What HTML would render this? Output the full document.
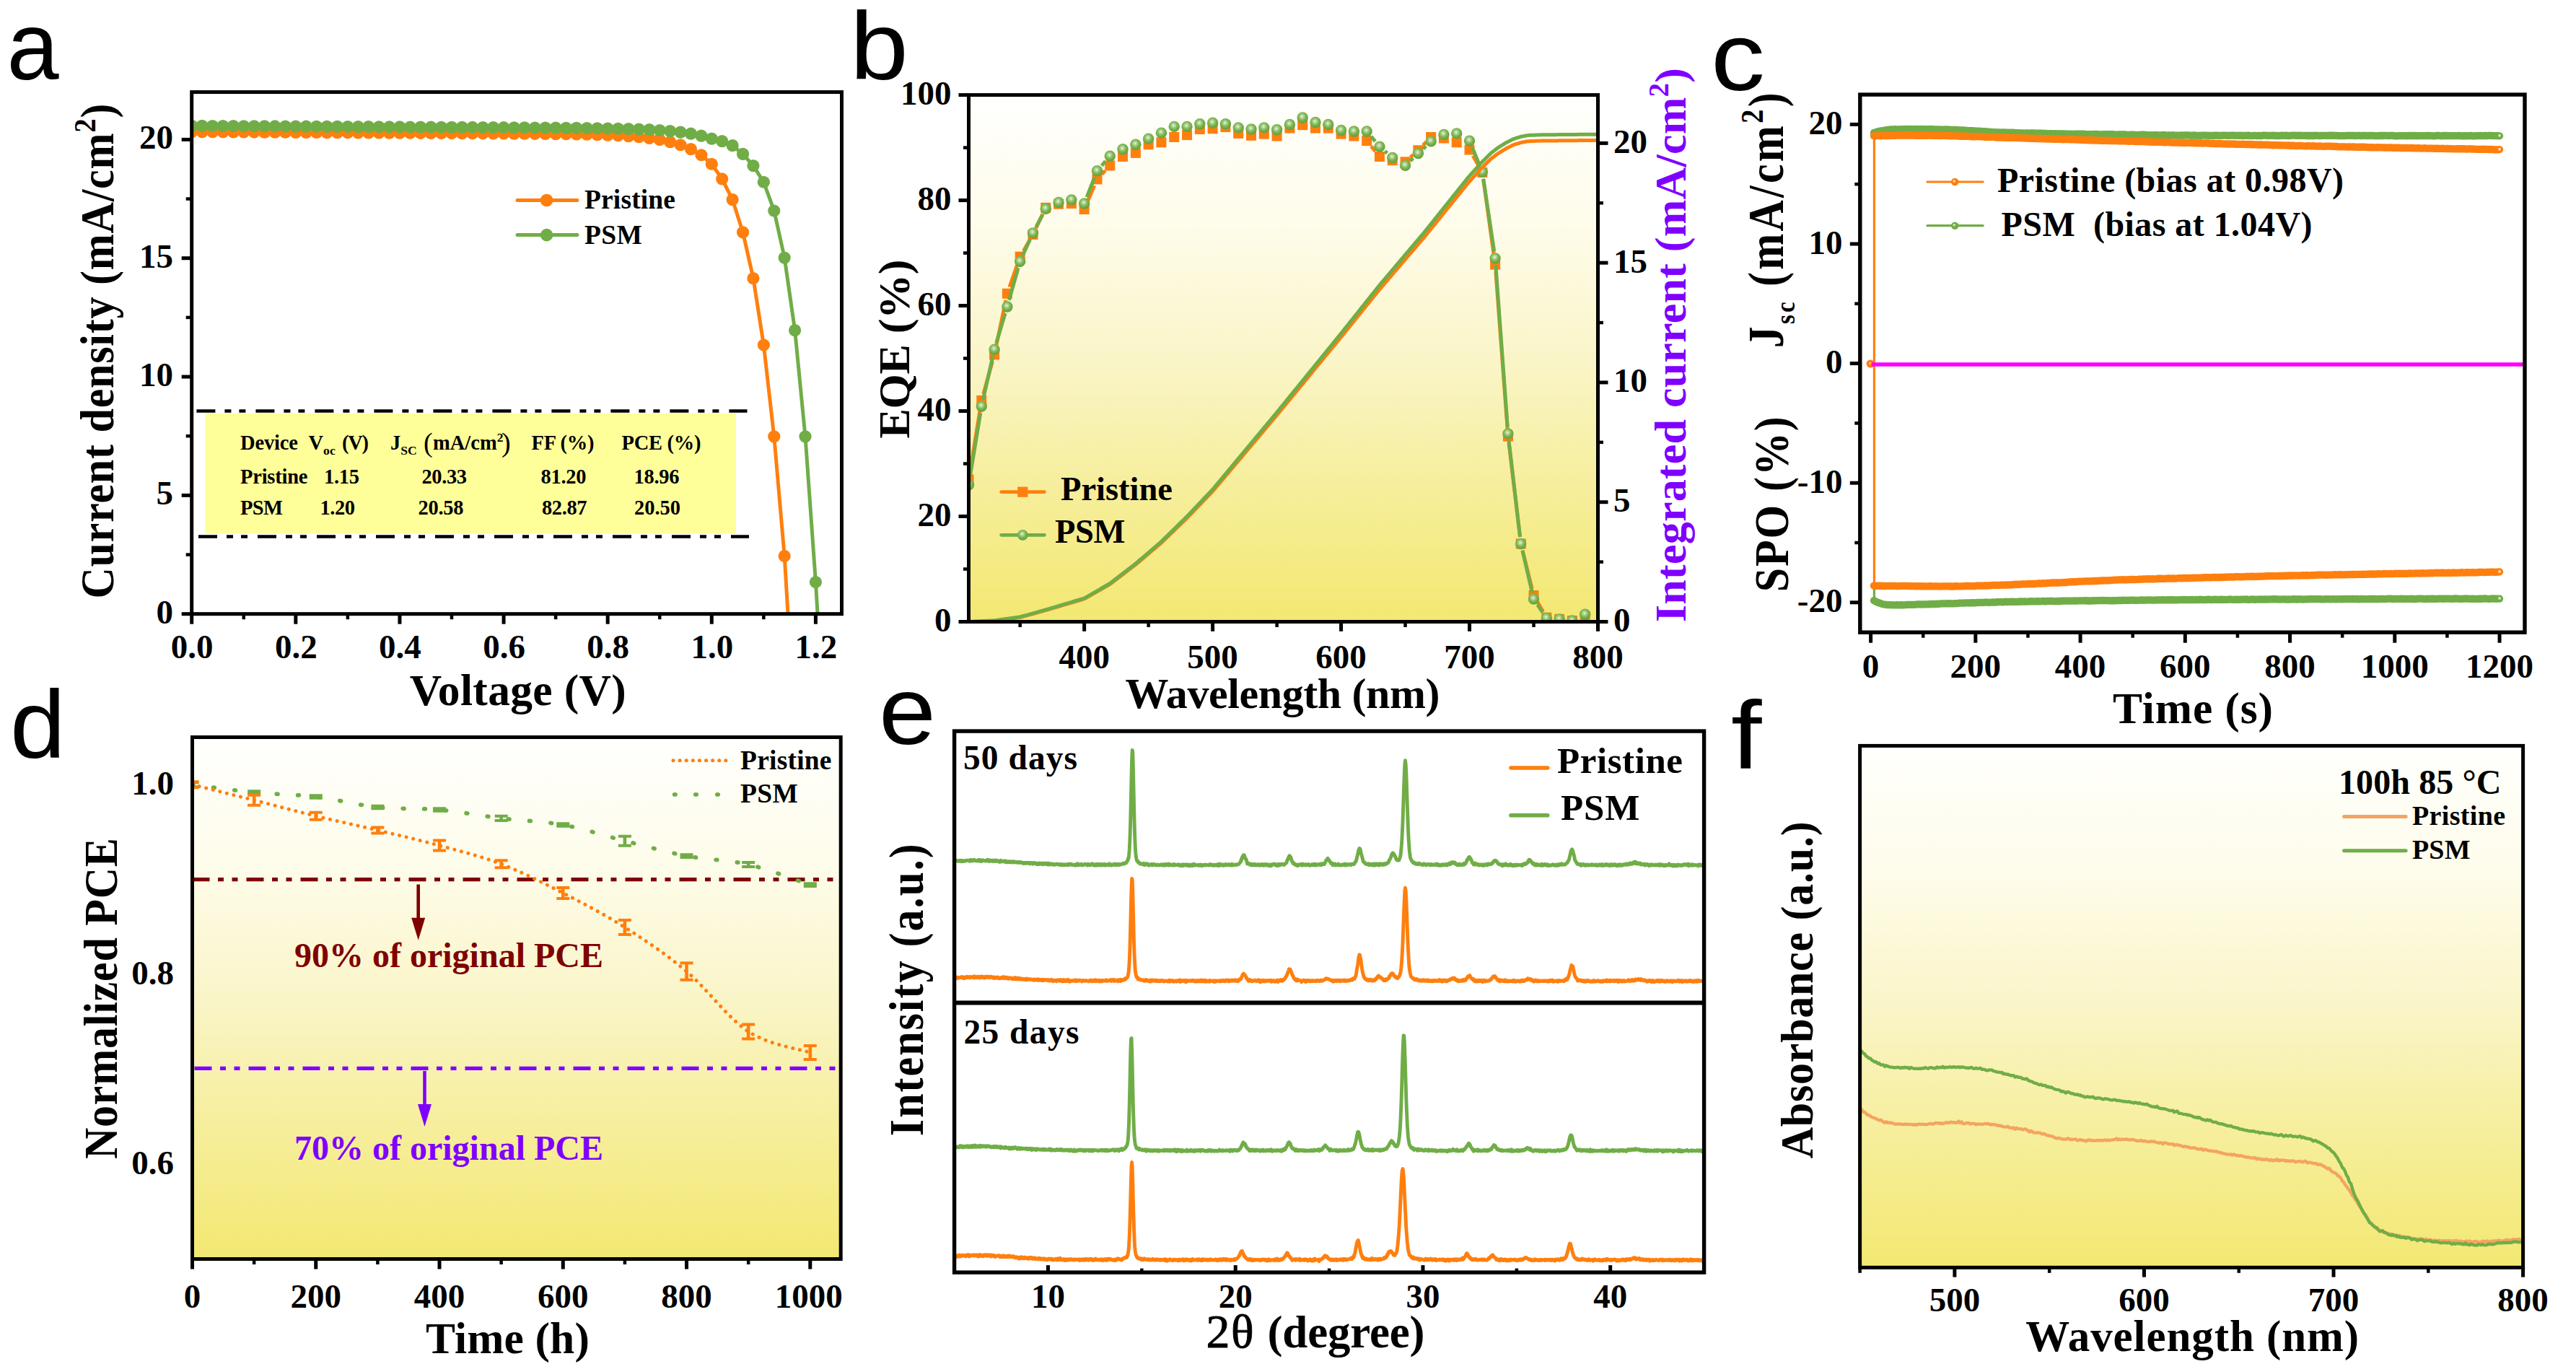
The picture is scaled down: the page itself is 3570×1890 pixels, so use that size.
<!DOCTYPE html>
<html><head><meta charset="utf-8"><title>Figure</title>
<style>html,body{margin:0;padding:0;background:#fff}svg{display:block}</style></head>
<body>
<svg width="3570" height="1890" viewBox="0 0 3570 1890" font-family="'Liberation Serif',serif" font-weight="bold">
<rect width="3570" height="1890" fill="#fff"/>
<g id="pa">
<text transform="translate(9.5 110.3) scale(0.968 1)" font-size="134" font-family="'Liberation Sans',sans-serif" font-weight="normal">a</text>
<clipPath id="clipa"><rect x="265.7" y="127.6" width="900.8" height="723.1"/></clipPath>
<g clip-path="url(#clipa)">
<polyline points="265.7,182.55 280.11,182.63 294.52,182.71 308.94,182.79 323.35,182.87 337.76,182.95 352.17,183.03 366.58,183.11 381,183.19 395.41,183.26 409.82,183.34 424.23,183.42 438.64,183.5 453.06,183.58 467.47,183.66 481.88,183.74 496.29,183.82 510.7,183.9 525.12,183.98 539.53,184.05 553.94,184.13 568.35,184.21 582.76,184.29 597.18,184.37 611.59,184.45 626,184.54 640.41,184.62 654.82,184.7 669.24,184.79 683.65,184.88 698.06,184.97 712.47,185.07 726.88,185.18 741.3,185.29 755.71,185.43 770.12,185.58 784.53,185.76 798.94,185.99 813.36,186.27 827.77,186.64 842.18,187.11 856.59,187.75 871,188.6 885.42,189.76 899.83,191.35 914.24,193.54 928.65,196.56 943.06,200.74 957.48,206.55 971.89,214.76 986.3,227.25 1000.71,247.96 1015.12,276.55 1029.54,321.9 1043.95,385.66 1058.36,478.01 1072.77,604.87 1087.18,770.51 1092.59,860.56" fill="none" stroke="#FF7F0E" stroke-width="5" stroke-linejoin="round" stroke-linecap="round"/>
</g>
<g clip-path="url(#clipa)">
<circle cx="265.7" cy="182.55" r="8.6" fill="#FF7F0E" />
<circle cx="280.11" cy="182.63" r="8.6" fill="#FF7F0E" />
<circle cx="294.52" cy="182.71" r="8.6" fill="#FF7F0E" />
<circle cx="308.94" cy="182.79" r="8.6" fill="#FF7F0E" />
<circle cx="323.35" cy="182.87" r="8.6" fill="#FF7F0E" />
<circle cx="337.76" cy="182.95" r="8.6" fill="#FF7F0E" />
<circle cx="352.17" cy="183.03" r="8.6" fill="#FF7F0E" />
<circle cx="366.58" cy="183.11" r="8.6" fill="#FF7F0E" />
<circle cx="381" cy="183.19" r="8.6" fill="#FF7F0E" />
<circle cx="395.41" cy="183.26" r="8.6" fill="#FF7F0E" />
<circle cx="409.82" cy="183.34" r="8.6" fill="#FF7F0E" />
<circle cx="424.23" cy="183.42" r="8.6" fill="#FF7F0E" />
<circle cx="438.64" cy="183.5" r="8.6" fill="#FF7F0E" />
<circle cx="453.06" cy="183.58" r="8.6" fill="#FF7F0E" />
<circle cx="467.47" cy="183.66" r="8.6" fill="#FF7F0E" />
<circle cx="481.88" cy="183.74" r="8.6" fill="#FF7F0E" />
<circle cx="496.29" cy="183.82" r="8.6" fill="#FF7F0E" />
<circle cx="510.7" cy="183.9" r="8.6" fill="#FF7F0E" />
<circle cx="525.12" cy="183.98" r="8.6" fill="#FF7F0E" />
<circle cx="539.53" cy="184.05" r="8.6" fill="#FF7F0E" />
<circle cx="553.94" cy="184.13" r="8.6" fill="#FF7F0E" />
<circle cx="568.35" cy="184.21" r="8.6" fill="#FF7F0E" />
<circle cx="582.76" cy="184.29" r="8.6" fill="#FF7F0E" />
<circle cx="597.18" cy="184.37" r="8.6" fill="#FF7F0E" />
<circle cx="611.59" cy="184.45" r="8.6" fill="#FF7F0E" />
<circle cx="626" cy="184.54" r="8.6" fill="#FF7F0E" />
<circle cx="640.41" cy="184.62" r="8.6" fill="#FF7F0E" />
<circle cx="654.82" cy="184.7" r="8.6" fill="#FF7F0E" />
<circle cx="669.24" cy="184.79" r="8.6" fill="#FF7F0E" />
<circle cx="683.65" cy="184.88" r="8.6" fill="#FF7F0E" />
<circle cx="698.06" cy="184.97" r="8.6" fill="#FF7F0E" />
<circle cx="712.47" cy="185.07" r="8.6" fill="#FF7F0E" />
<circle cx="726.88" cy="185.18" r="8.6" fill="#FF7F0E" />
<circle cx="741.3" cy="185.29" r="8.6" fill="#FF7F0E" />
<circle cx="755.71" cy="185.43" r="8.6" fill="#FF7F0E" />
<circle cx="770.12" cy="185.58" r="8.6" fill="#FF7F0E" />
<circle cx="784.53" cy="185.76" r="8.6" fill="#FF7F0E" />
<circle cx="798.94" cy="185.99" r="8.6" fill="#FF7F0E" />
<circle cx="813.36" cy="186.27" r="8.6" fill="#FF7F0E" />
<circle cx="827.77" cy="186.64" r="8.6" fill="#FF7F0E" />
<circle cx="842.18" cy="187.11" r="8.6" fill="#FF7F0E" />
<circle cx="856.59" cy="187.75" r="8.6" fill="#FF7F0E" />
<circle cx="871" cy="188.6" r="8.6" fill="#FF7F0E" />
<circle cx="885.42" cy="189.76" r="8.6" fill="#FF7F0E" />
<circle cx="899.83" cy="191.35" r="8.6" fill="#FF7F0E" />
<circle cx="914.24" cy="193.54" r="8.6" fill="#FF7F0E" />
<circle cx="928.65" cy="196.56" r="8.6" fill="#FF7F0E" />
<circle cx="943.06" cy="200.74" r="8.6" fill="#FF7F0E" />
<circle cx="957.48" cy="206.55" r="8.6" fill="#FF7F0E" />
<circle cx="971.89" cy="214.76" r="8.6" fill="#FF7F0E" />
<circle cx="986.3" cy="227.25" r="8.6" fill="#FF7F0E" />
<circle cx="1000.71" cy="247.96" r="8.6" fill="#FF7F0E" />
<circle cx="1015.12" cy="276.55" r="8.6" fill="#FF7F0E" />
<circle cx="1029.54" cy="321.9" r="8.6" fill="#FF7F0E" />
<circle cx="1043.95" cy="385.66" r="8.6" fill="#FF7F0E" />
<circle cx="1058.36" cy="478.01" r="8.6" fill="#FF7F0E" />
<circle cx="1072.77" cy="604.87" r="8.6" fill="#FF7F0E" />
<circle cx="1087.18" cy="770.51" r="8.6" fill="#FF7F0E" />
</g>
<g clip-path="url(#clipa)">
<polyline points="265.7,174.34 280.11,174.42 294.52,174.5 308.94,174.57 323.35,174.65 337.76,174.73 352.17,174.81 366.58,174.89 381,174.97 395.41,175.05 409.82,175.13 424.23,175.21 438.64,175.28 453.06,175.36 467.47,175.44 481.88,175.52 496.29,175.6 510.7,175.68 525.12,175.76 539.53,175.84 553.94,175.92 568.35,176 582.76,176.07 597.18,176.15 611.59,176.23 626,176.31 640.41,176.39 654.82,176.47 669.24,176.56 683.65,176.64 698.06,176.72 712.47,176.81 726.88,176.9 741.3,176.99 755.71,177.09 770.12,177.19 784.53,177.31 798.94,177.44 813.36,177.59 827.77,177.77 842.18,177.99 856.59,178.26 871,178.61 885.42,179.07 899.83,179.68 914.24,180.49 928.65,181.61 943.06,183.12 957.48,185.21 971.89,188.09 986.3,192.09 1000.71,195.7 1015.12,201.62 1029.54,213.45 1043.95,229.55 1058.36,252.23 1072.77,292 1087.18,357.07 1101.6,457.63 1116.01,604.87 1130.42,806.5 1133.66,860.56" fill="none" stroke="#70AD47" stroke-width="5" stroke-linejoin="round" stroke-linecap="round"/>
</g>
<g clip-path="url(#clipa)">
<circle cx="265.7" cy="174.34" r="8.6" fill="#70AD47" />
<circle cx="280.11" cy="174.42" r="8.6" fill="#70AD47" />
<circle cx="294.52" cy="174.5" r="8.6" fill="#70AD47" />
<circle cx="308.94" cy="174.57" r="8.6" fill="#70AD47" />
<circle cx="323.35" cy="174.65" r="8.6" fill="#70AD47" />
<circle cx="337.76" cy="174.73" r="8.6" fill="#70AD47" />
<circle cx="352.17" cy="174.81" r="8.6" fill="#70AD47" />
<circle cx="366.58" cy="174.89" r="8.6" fill="#70AD47" />
<circle cx="381" cy="174.97" r="8.6" fill="#70AD47" />
<circle cx="395.41" cy="175.05" r="8.6" fill="#70AD47" />
<circle cx="409.82" cy="175.13" r="8.6" fill="#70AD47" />
<circle cx="424.23" cy="175.21" r="8.6" fill="#70AD47" />
<circle cx="438.64" cy="175.28" r="8.6" fill="#70AD47" />
<circle cx="453.06" cy="175.36" r="8.6" fill="#70AD47" />
<circle cx="467.47" cy="175.44" r="8.6" fill="#70AD47" />
<circle cx="481.88" cy="175.52" r="8.6" fill="#70AD47" />
<circle cx="496.29" cy="175.6" r="8.6" fill="#70AD47" />
<circle cx="510.7" cy="175.68" r="8.6" fill="#70AD47" />
<circle cx="525.12" cy="175.76" r="8.6" fill="#70AD47" />
<circle cx="539.53" cy="175.84" r="8.6" fill="#70AD47" />
<circle cx="553.94" cy="175.92" r="8.6" fill="#70AD47" />
<circle cx="568.35" cy="176" r="8.6" fill="#70AD47" />
<circle cx="582.76" cy="176.07" r="8.6" fill="#70AD47" />
<circle cx="597.18" cy="176.15" r="8.6" fill="#70AD47" />
<circle cx="611.59" cy="176.23" r="8.6" fill="#70AD47" />
<circle cx="626" cy="176.31" r="8.6" fill="#70AD47" />
<circle cx="640.41" cy="176.39" r="8.6" fill="#70AD47" />
<circle cx="654.82" cy="176.47" r="8.6" fill="#70AD47" />
<circle cx="669.24" cy="176.56" r="8.6" fill="#70AD47" />
<circle cx="683.65" cy="176.64" r="8.6" fill="#70AD47" />
<circle cx="698.06" cy="176.72" r="8.6" fill="#70AD47" />
<circle cx="712.47" cy="176.81" r="8.6" fill="#70AD47" />
<circle cx="726.88" cy="176.9" r="8.6" fill="#70AD47" />
<circle cx="741.3" cy="176.99" r="8.6" fill="#70AD47" />
<circle cx="755.71" cy="177.09" r="8.6" fill="#70AD47" />
<circle cx="770.12" cy="177.19" r="8.6" fill="#70AD47" />
<circle cx="784.53" cy="177.31" r="8.6" fill="#70AD47" />
<circle cx="798.94" cy="177.44" r="8.6" fill="#70AD47" />
<circle cx="813.36" cy="177.59" r="8.6" fill="#70AD47" />
<circle cx="827.77" cy="177.77" r="8.6" fill="#70AD47" />
<circle cx="842.18" cy="177.99" r="8.6" fill="#70AD47" />
<circle cx="856.59" cy="178.26" r="8.6" fill="#70AD47" />
<circle cx="871" cy="178.61" r="8.6" fill="#70AD47" />
<circle cx="885.42" cy="179.07" r="8.6" fill="#70AD47" />
<circle cx="899.83" cy="179.68" r="8.6" fill="#70AD47" />
<circle cx="914.24" cy="180.49" r="8.6" fill="#70AD47" />
<circle cx="928.65" cy="181.61" r="8.6" fill="#70AD47" />
<circle cx="943.06" cy="183.12" r="8.6" fill="#70AD47" />
<circle cx="957.48" cy="185.21" r="8.6" fill="#70AD47" />
<circle cx="971.89" cy="188.09" r="8.6" fill="#70AD47" />
<circle cx="986.3" cy="192.09" r="8.6" fill="#70AD47" />
<circle cx="1000.71" cy="195.7" r="8.6" fill="#70AD47" />
<circle cx="1015.12" cy="201.62" r="8.6" fill="#70AD47" />
<circle cx="1029.54" cy="213.45" r="8.6" fill="#70AD47" />
<circle cx="1043.95" cy="229.55" r="8.6" fill="#70AD47" />
<circle cx="1058.36" cy="252.23" r="8.6" fill="#70AD47" />
<circle cx="1072.77" cy="292" r="8.6" fill="#70AD47" />
<circle cx="1087.18" cy="357.07" r="8.6" fill="#70AD47" />
<circle cx="1101.6" cy="457.63" r="8.6" fill="#70AD47" />
<circle cx="1116.01" cy="604.87" r="8.6" fill="#70AD47" />
<circle cx="1130.42" cy="806.5" r="8.6" fill="#70AD47" />
</g>
<rect x="284.2" y="572.6" width="735.8" height="166.2" fill="#FFFF99" />
<line x1="272.4" y1="569.5" x2="1035.5" y2="569.5" stroke="#000" stroke-width="4.5" stroke-dasharray="26 13 9 11 9 14"/>
<line x1="275" y1="743.4" x2="1038" y2="743.4" stroke="#000" stroke-width="4.5" stroke-dasharray="26 13 9 11 9 14"/>
<text x="333" y="623.2" font-size="28.5" text-anchor="start" fill="#000" textLength="80" lengthAdjust="spacing" >Device</text>
<text x="427.5" y="623.2" font-size="28.5" text-anchor="start" fill="#000" >V<tspan font-size="17.67" dy="7.12">oc</tspan></text>
<text x="474" y="623.2" font-size="28.5" text-anchor="start" fill="#000" textLength="37" lengthAdjust="spacing" >(V)</text>
<text x="541" y="623.2" font-size="28.5" text-anchor="start" fill="#000" >J<tspan font-size="17.67" dy="7.12">SC</tspan></text>
<text x="587" y="626.2" font-size="38" text-anchor="start" fill="#000" font-weight="normal">(</text>
<text x="600" y="623.2" font-size="28.5" text-anchor="start" fill="#000" >mA/cm<tspan font-size="17.5" dy="-11">2</tspan></text>
<text x="695" y="626.2" font-size="38" text-anchor="start" fill="#000" font-weight="normal">)</text>
<text x="736.5" y="623.2" font-size="28.5" text-anchor="start" fill="#000" textLength="87" lengthAdjust="spacing" >FF (%)</text>
<text x="861.5" y="623.2" font-size="28.5" text-anchor="start" fill="#000" textLength="110" lengthAdjust="spacing" >PCE (%)</text>
<text x="333" y="670.4" font-size="28.5" text-anchor="start" fill="#000" textLength="93.5" lengthAdjust="spacing" >Pristine</text>
<text x="449" y="670.4" font-size="28.5" text-anchor="start" fill="#000" textLength="49" lengthAdjust="spacing" >1.15</text>
<text x="584.5" y="670.4" font-size="28.5" text-anchor="start" fill="#000" textLength="62.5" lengthAdjust="spacing" >20.33</text>
<text x="749.5" y="670.4" font-size="28.5" text-anchor="start" fill="#000" textLength="63" lengthAdjust="spacing" >81.20</text>
<text x="878.5" y="670.4" font-size="28.5" text-anchor="start" fill="#000" textLength="63" lengthAdjust="spacing" >18.96</text>
<text x="333" y="713.3" font-size="28.5" text-anchor="start" fill="#000" textLength="59" lengthAdjust="spacing" >PSM</text>
<text x="443.5" y="713.3" font-size="28.5" text-anchor="start" fill="#000" textLength="48.5" lengthAdjust="spacing" >1.20</text>
<text x="579.5" y="713.3" font-size="28.5" text-anchor="start" fill="#000" textLength="63" lengthAdjust="spacing" >20.58</text>
<text x="751" y="713.3" font-size="28.5" text-anchor="start" fill="#000" textLength="62.5" lengthAdjust="spacing" >82.87</text>
<text x="879" y="713.3" font-size="28.5" text-anchor="start" fill="#000" textLength="64" lengthAdjust="spacing" >20.50</text>
<line x1="717" y1="277.5" x2="799.9" y2="277.5" stroke="#FF7F0E" stroke-width="5" stroke-linecap="round"/>
<circle cx="757.6" cy="277.5" r="8.8" fill="#FF7F0E" />
<line x1="717" y1="325.6" x2="799.9" y2="325.6" stroke="#70AD47" stroke-width="5" stroke-linecap="round"/>
<circle cx="757.6" cy="325.6" r="8.8" fill="#70AD47" />
<text x="810" y="289.4" font-size="37.5" text-anchor="start" fill="#000" textLength="126" lengthAdjust="spacing" >Pristine</text>
<text x="810" y="337.9" font-size="37.5" text-anchor="start" fill="#000" textLength="80" lengthAdjust="spacing" >PSM</text>
<rect x="265.7" y="127.6" width="900.8" height="723.1" fill="none" stroke="#000" stroke-width="5"/>
<line x1="265.7" y1="850.7" x2="251.7" y2="850.7" stroke="#000" stroke-width="5" />
<line x1="265.7" y1="686.38" x2="251.7" y2="686.38" stroke="#000" stroke-width="5" />
<line x1="265.7" y1="522.05" x2="251.7" y2="522.05" stroke="#000" stroke-width="5" />
<line x1="265.7" y1="357.73" x2="251.7" y2="357.73" stroke="#000" stroke-width="5" />
<line x1="265.7" y1="193.4" x2="251.7" y2="193.4" stroke="#000" stroke-width="5" />
<line x1="265.7" y1="768.54" x2="257.7" y2="768.54" stroke="#000" stroke-width="4.5" />
<line x1="265.7" y1="604.21" x2="257.7" y2="604.21" stroke="#000" stroke-width="4.5" />
<line x1="265.7" y1="439.89" x2="257.7" y2="439.89" stroke="#000" stroke-width="4.5" />
<line x1="265.7" y1="275.56" x2="257.7" y2="275.56" stroke="#000" stroke-width="4.5" />
<line x1="265.7" y1="850.7" x2="265.7" y2="864.7" stroke="#000" stroke-width="5" />
<line x1="409.82" y1="850.7" x2="409.82" y2="864.7" stroke="#000" stroke-width="5" />
<line x1="553.94" y1="850.7" x2="553.94" y2="864.7" stroke="#000" stroke-width="5" />
<line x1="698.06" y1="850.7" x2="698.06" y2="864.7" stroke="#000" stroke-width="5" />
<line x1="842.18" y1="850.7" x2="842.18" y2="864.7" stroke="#000" stroke-width="5" />
<line x1="986.3" y1="850.7" x2="986.3" y2="864.7" stroke="#000" stroke-width="5" />
<line x1="1130.42" y1="850.7" x2="1130.42" y2="864.7" stroke="#000" stroke-width="5" />
<line x1="337.76" y1="850.7" x2="337.76" y2="858.2" stroke="#000" stroke-width="4.5" />
<line x1="481.88" y1="850.7" x2="481.88" y2="858.2" stroke="#000" stroke-width="4.5" />
<line x1="626" y1="850.7" x2="626" y2="858.2" stroke="#000" stroke-width="4.5" />
<line x1="770.12" y1="850.7" x2="770.12" y2="858.2" stroke="#000" stroke-width="4.5" />
<line x1="914.24" y1="850.7" x2="914.24" y2="858.2" stroke="#000" stroke-width="4.5" />
<line x1="1058.36" y1="850.7" x2="1058.36" y2="858.2" stroke="#000" stroke-width="4.5" />
<text x="240" y="863.7" font-size="47" text-anchor="end" fill="#000" >0</text>
<text x="240" y="699.38" font-size="47" text-anchor="end" fill="#000" >5</text>
<text x="240" y="535.05" font-size="47" text-anchor="end" fill="#000" >10</text>
<text x="240" y="370.73" font-size="47" text-anchor="end" fill="#000" >15</text>
<text x="240" y="206.4" font-size="47" text-anchor="end" fill="#000" >20</text>
<text x="266.2" y="912" font-size="47" text-anchor="middle" fill="#000" >0.0</text>
<text x="410.32" y="912" font-size="47" text-anchor="middle" fill="#000" >0.2</text>
<text x="554.44" y="912" font-size="47" text-anchor="middle" fill="#000" >0.4</text>
<text x="698.56" y="912" font-size="47" text-anchor="middle" fill="#000" >0.6</text>
<text x="842.68" y="912" font-size="47" text-anchor="middle" fill="#000" >0.8</text>
<text x="986.8" y="912" font-size="47" text-anchor="middle" fill="#000" >1.0</text>
<text x="1130.92" y="912" font-size="47" text-anchor="middle" fill="#000" >1.2</text>
<text x="717.7" y="976.5" font-size="61.5" text-anchor="middle" fill="#000" textLength="300" lengthAdjust="spacing" >Voltage (V)</text>
<text transform="translate(156.8 486.5) rotate(-90) scale(1.0 1.09)" font-size="60" text-anchor="middle" fill="#000" textLength="686" lengthAdjust="spacing">Current density (mA/cm<tspan font-size="39" dy="-22.5">2</tspan><tspan dy="22.5">)</tspan></text>
</g>
<g id="pb">
<defs><linearGradient id="gy" x1="0" y1="0" x2="0" y2="1"><stop offset="0" stop-color="#FFFFFD"/><stop offset="0.25" stop-color="#FEFCEA"/><stop offset="0.5" stop-color="#FAF5C8"/><stop offset="0.75" stop-color="#F6EE9B"/><stop offset="1" stop-color="#F3E872"/></linearGradient><radialGradient id="ball" cx="0.45" cy="0.40" r="0.62"><stop offset="0" stop-color="#EEF6E4"/><stop offset="0.22" stop-color="#B4D79A"/><stop offset="0.55" stop-color="#7DB551"/><stop offset="1" stop-color="#5F9C37"/></radialGradient></defs>
<text transform="translate(1178 110) scale(1.086 1)" font-size="134" font-family="'Liberation Sans',sans-serif" font-weight="normal">b</text>
<rect x="1342.5" y="131.6" width="872" height="729.9" fill="url(#gy)" />
<clipPath id="clipb"><rect x="1342.5" y="131.6" width="872.0" height="731.9"/></clipPath><g clip-path="url(#clipb)">
<line x1="1344.02" y1="655.05" x2="1358.77" y2="564.32" stroke="#FF7F0E" stroke-width="5" />
<line x1="1362.86" y1="545.79" x2="1375.53" y2="500.59" stroke="#FF7F0E" stroke-width="5" />
<line x1="1380.05" y1="482.14" x2="1393.93" y2="416.07" stroke="#FF7F0E" stroke-width="5" />
<line x1="1399.01" y1="397.8" x2="1410.56" y2="364.65" stroke="#FF7F0E" stroke-width="5" />
<line x1="1418.45" y1="347.46" x2="1426.71" y2="333.24" stroke="#FF7F0E" stroke-width="5" />
<line x1="1435.58" y1="316.45" x2="1445.18" y2="296.37" stroke="#FF7F0E" stroke-width="5" />
<line x1="1506.4" y1="281.25" x2="1516.72" y2="257.12" stroke="#FF7F0E" stroke-width="5" />
<line x1="1526.96" y1="241.45" x2="1531.76" y2="236.34" stroke="#FF7F0E" stroke-width="5" />
<line x1="1900.17" y1="202.47" x2="1905.98" y2="209.63" stroke="#FF7F0E" stroke-width="5" />
<line x1="1954.61" y1="217.93" x2="1958.3" y2="214.6" stroke="#FF7F0E" stroke-width="5" />
<line x1="1971.99" y1="201.44" x2="1976.52" y2="196.79" stroke="#FF7F0E" stroke-width="5" />
<line x1="2041.23" y1="215.77" x2="2049.65" y2="230.63" stroke="#FF7F0E" stroke-width="5" />
<line x1="2055.65" y1="248.3" x2="2070.82" y2="357.22" stroke="#FF7F0E" stroke-width="5" />
<line x1="2072.84" y1="376.1" x2="2089.22" y2="595.1" stroke="#FF7F0E" stroke-width="5" />
<line x1="2091.06" y1="614.01" x2="2106.6" y2="744.04" stroke="#FF7F0E" stroke-width="5" />
<line x1="2110.02" y1="762.69" x2="2123.23" y2="815.79" stroke="#FF7F0E" stroke-width="5" />
<line x1="2130.29" y1="833.22" x2="2138.55" y2="847.44" stroke="#FF7F0E" stroke-width="5" />
<rect x="1335.5" y="657.43" width="14" height="14" fill="#FF7F0E" />
<rect x="1353.3" y="547.94" width="14" height="14" fill="#FF7F0E" />
<rect x="1371.09" y="484.44" width="14" height="14" fill="#FF7F0E" />
<rect x="1388.89" y="399.77" width="14" height="14" fill="#FF7F0E" />
<rect x="1406.68" y="348.68" width="14" height="14" fill="#FF7F0E" />
<rect x="1424.48" y="318.02" width="14" height="14" fill="#FF7F0E" />
<rect x="1442.28" y="280.8" width="14" height="14" fill="#FF7F0E" />
<rect x="1460.07" y="275.69" width="14" height="14" fill="#FF7F0E" />
<rect x="1477.87" y="274.96" width="14" height="14" fill="#FF7F0E" />
<rect x="1495.66" y="282.99" width="14" height="14" fill="#FF7F0E" />
<rect x="1513.46" y="241.38" width="14" height="14" fill="#FF7F0E" />
<rect x="1531.26" y="222.41" width="14" height="14" fill="#FF7F0E" />
<rect x="1549.05" y="210" width="14" height="14" fill="#FF7F0E" />
<rect x="1566.85" y="204.89" width="14" height="14" fill="#FF7F0E" />
<rect x="1584.64" y="193.21" width="14" height="14" fill="#FF7F0E" />
<rect x="1602.44" y="190.29" width="14" height="14" fill="#FF7F0E" />
<rect x="1620.23" y="182.99" width="14" height="14" fill="#FF7F0E" />
<rect x="1638.03" y="180.07" width="14" height="14" fill="#FF7F0E" />
<rect x="1655.83" y="172.04" width="14" height="14" fill="#FF7F0E" />
<rect x="1673.62" y="171.31" width="14" height="14" fill="#FF7F0E" />
<rect x="1691.42" y="169.12" width="14" height="14" fill="#FF7F0E" />
<rect x="1709.21" y="177.88" width="14" height="14" fill="#FF7F0E" />
<rect x="1727.01" y="180.8" width="14" height="14" fill="#FF7F0E" />
<rect x="1744.81" y="178.61" width="14" height="14" fill="#FF7F0E" />
<rect x="1762.6" y="181.53" width="14" height="14" fill="#FF7F0E" />
<rect x="1780.4" y="170.58" width="14" height="14" fill="#FF7F0E" />
<rect x="1798.19" y="166.2" width="14" height="14" fill="#FF7F0E" />
<rect x="1815.99" y="170.58" width="14" height="14" fill="#FF7F0E" />
<rect x="1833.79" y="170.58" width="14" height="14" fill="#FF7F0E" />
<rect x="1851.58" y="178.61" width="14" height="14" fill="#FF7F0E" />
<rect x="1869.38" y="181.53" width="14" height="14" fill="#FF7F0E" />
<rect x="1887.17" y="188.1" width="14" height="14" fill="#FF7F0E" />
<rect x="1904.97" y="210" width="14" height="14" fill="#FF7F0E" />
<rect x="1922.77" y="215.11" width="14" height="14" fill="#FF7F0E" />
<rect x="1940.56" y="217.3" width="14" height="14" fill="#FF7F0E" />
<rect x="1958.36" y="201.24" width="14" height="14" fill="#FF7F0E" />
<rect x="1976.15" y="182.99" width="14" height="14" fill="#FF7F0E" />
<rect x="1993.95" y="184.45" width="14" height="14" fill="#FF7F0E" />
<rect x="2011.74" y="190.29" width="14" height="14" fill="#FF7F0E" />
<rect x="2029.54" y="200.51" width="14" height="14" fill="#FF7F0E" />
<rect x="2047.34" y="231.9" width="14" height="14" fill="#FF7F0E" />
<rect x="2065.13" y="359.63" width="14" height="14" fill="#FF7F0E" />
<rect x="2082.93" y="597.58" width="14" height="14" fill="#FF7F0E" />
<rect x="2100.72" y="746.47" width="14" height="14" fill="#FF7F0E" />
<rect x="2118.52" y="818" width="14" height="14" fill="#FF7F0E" />
<rect x="2136.32" y="848.66" width="14" height="14" fill="#FF7F0E" />
<rect x="2154.11" y="850.85" width="14" height="14" fill="#FF7F0E" />
<rect x="2171.91" y="853.04" width="14" height="14" fill="#FF7F0E" />
<rect x="2189.7" y="847.2" width="14" height="14" fill="#FF7F0E" />
<line x1="1344.03" y1="662.35" x2="1358.76" y2="572.35" stroke="#70AD47" stroke-width="5" />
<line x1="1362.39" y1="553.7" x2="1376" y2="493.41" stroke="#70AD47" stroke-width="5" />
<line x1="1380.83" y1="475.04" x2="1393.15" y2="434.12" stroke="#70AD47" stroke-width="5" />
<line x1="1398.48" y1="415.88" x2="1411.09" y2="371.39" stroke="#70AD47" stroke-width="5" />
<line x1="1417.59" y1="353.59" x2="1427.57" y2="331.49" stroke="#70AD47" stroke-width="5" />
<line x1="1435.93" y1="314.44" x2="1444.83" y2="297.65" stroke="#70AD47" stroke-width="5" />
<line x1="1506.14" y1="273.12" x2="1516.98" y2="245.55" stroke="#70AD47" stroke-width="5" />
<line x1="1526.7" y1="229.54" x2="1532.02" y2="223.43" stroke="#70AD47" stroke-width="5" />
<line x1="1900.29" y1="189.23" x2="1905.86" y2="195.86" stroke="#70AD47" stroke-width="5" />
<line x1="1919.17" y1="209.33" x2="1922.57" y2="212.26" stroke="#70AD47" stroke-width="5" />
<line x1="1954.47" y1="222.89" x2="1958.45" y2="219.14" stroke="#70AD47" stroke-width="5" />
<line x1="1972.27" y1="206.1" x2="1976.24" y2="202.35" stroke="#70AD47" stroke-width="5" />
<line x1="2040.17" y1="203.88" x2="2050.71" y2="229.39" stroke="#70AD47" stroke-width="5" />
<line x1="2055.73" y1="247.56" x2="2070.74" y2="348.47" stroke="#70AD47" stroke-width="5" />
<line x1="2072.83" y1="367.34" x2="2089.23" y2="591.45" stroke="#70AD47" stroke-width="5" />
<line x1="2091.03" y1="610.36" x2="2106.62" y2="744.04" stroke="#70AD47" stroke-width="5" />
<line x1="2109.87" y1="762.73" x2="2123.37" y2="820.86" stroke="#70AD47" stroke-width="5" />
<line x1="2130.85" y1="837.98" x2="2137.99" y2="848.52" stroke="#70AD47" stroke-width="5" />
<circle cx="1342.5" cy="671.73" r="7.7" fill="url(#ball)" />
<circle cx="1360.3" cy="562.97" r="7.7" fill="url(#ball)" />
<circle cx="1378.09" cy="484.14" r="7.7" fill="url(#ball)" />
<circle cx="1395.89" cy="425.02" r="7.7" fill="url(#ball)" />
<circle cx="1413.68" cy="362.25" r="7.7" fill="url(#ball)" />
<circle cx="1431.48" cy="322.83" r="7.7" fill="url(#ball)" />
<circle cx="1449.28" cy="289.26" r="7.7" fill="url(#ball)" />
<circle cx="1467.07" cy="280.5" r="7.7" fill="url(#ball)" />
<circle cx="1484.87" cy="276.85" r="7.7" fill="url(#ball)" />
<circle cx="1502.66" cy="281.96" r="7.7" fill="url(#ball)" />
<circle cx="1520.46" cy="236.71" r="7.7" fill="url(#ball)" />
<circle cx="1538.26" cy="216.27" r="7.7" fill="url(#ball)" />
<circle cx="1556.05" cy="206.78" r="7.7" fill="url(#ball)" />
<circle cx="1573.85" cy="200.21" r="7.7" fill="url(#ball)" />
<circle cx="1591.64" cy="192.18" r="7.7" fill="url(#ball)" />
<circle cx="1609.44" cy="184.15" r="7.7" fill="url(#ball)" />
<circle cx="1627.23" cy="175.39" r="7.7" fill="url(#ball)" />
<circle cx="1645.03" cy="175.39" r="7.7" fill="url(#ball)" />
<circle cx="1662.83" cy="171.74" r="7.7" fill="url(#ball)" />
<circle cx="1680.62" cy="170.28" r="7.7" fill="url(#ball)" />
<circle cx="1698.42" cy="171.74" r="7.7" fill="url(#ball)" />
<circle cx="1716.21" cy="176.85" r="7.7" fill="url(#ball)" />
<circle cx="1734.01" cy="179.04" r="7.7" fill="url(#ball)" />
<circle cx="1751.81" cy="176.85" r="7.7" fill="url(#ball)" />
<circle cx="1769.6" cy="179.77" r="7.7" fill="url(#ball)" />
<circle cx="1787.4" cy="172.47" r="7.7" fill="url(#ball)" />
<circle cx="1805.19" cy="162.99" r="7.7" fill="url(#ball)" />
<circle cx="1822.99" cy="169.55" r="7.7" fill="url(#ball)" />
<circle cx="1840.79" cy="172.47" r="7.7" fill="url(#ball)" />
<circle cx="1858.58" cy="180.5" r="7.7" fill="url(#ball)" />
<circle cx="1876.38" cy="181.96" r="7.7" fill="url(#ball)" />
<circle cx="1894.17" cy="181.96" r="7.7" fill="url(#ball)" />
<circle cx="1911.97" cy="203.13" r="7.7" fill="url(#ball)" />
<circle cx="1929.77" cy="218.46" r="7.7" fill="url(#ball)" />
<circle cx="1947.56" cy="229.41" r="7.7" fill="url(#ball)" />
<circle cx="1965.36" cy="212.62" r="7.7" fill="url(#ball)" />
<circle cx="1983.15" cy="195.83" r="7.7" fill="url(#ball)" />
<circle cx="2000.95" cy="186.34" r="7.7" fill="url(#ball)" />
<circle cx="2018.74" cy="184.88" r="7.7" fill="url(#ball)" />
<circle cx="2036.54" cy="195.1" r="7.7" fill="url(#ball)" />
<circle cx="2054.34" cy="238.17" r="7.7" fill="url(#ball)" />
<circle cx="2072.13" cy="357.87" r="7.7" fill="url(#ball)" />
<circle cx="2089.93" cy="600.93" r="7.7" fill="url(#ball)" />
<circle cx="2107.72" cy="753.47" r="7.7" fill="url(#ball)" />
<circle cx="2125.52" cy="830.11" r="7.7" fill="url(#ball)" />
<circle cx="2143.32" cy="856.39" r="7.7" fill="url(#ball)" />
<circle cx="2161.11" cy="857.85" r="7.7" fill="url(#ball)" />
<circle cx="2178.91" cy="860.04" r="7.7" fill="url(#ball)" />
<circle cx="2196.7" cy="851.28" r="7.7" fill="url(#ball)" />
<polyline points="1342.5,862 1344.25,861.92 1345.99,861.84 1347.74,861.76 1349.49,861.68 1351.24,861.6 1352.98,861.52 1354.73,861.44 1356.48,861.36 1358.23,861.28 1359.97,861.2 1361.72,861.11 1363.47,861.03 1365.22,860.95 1366.96,860.87 1368.71,860.79 1370.46,860.71 1372.21,860.63 1373.95,860.55 1375.7,860.47 1377.45,860.39 1379.2,860.21 1380.94,859.97 1382.69,859.73 1384.44,859.48 1386.19,859.24 1387.93,859 1389.68,858.76 1391.43,858.52 1393.18,858.28 1394.92,858.04 1396.67,857.79 1398.42,857.55 1400.17,857.31 1401.91,857.07 1403.66,856.83 1405.41,856.59 1407.16,856.35 1408.9,856.11 1410.65,855.86 1412.4,855.62 1414.15,855.32 1415.89,854.83 1417.64,854.35 1419.39,853.87 1421.14,853.39 1422.88,852.9 1424.63,852.42 1426.38,851.94 1428.13,851.46 1429.87,850.97 1431.62,850.49 1433.37,850.01 1435.12,849.52 1436.86,849.04 1438.61,848.56 1440.36,848.08 1442.11,847.59 1443.85,847.11 1445.6,846.63 1447.35,846.15 1449.1,845.66 1450.84,845.15 1452.59,844.64 1454.34,844.12 1456.09,843.61 1457.83,843.09 1459.58,842.58 1461.33,842.06 1463.08,841.55 1464.82,841.03 1466.57,840.52 1468.32,840 1470.07,839.49 1471.81,838.97 1473.56,838.46 1475.31,837.94 1477.06,837.43 1478.8,836.91 1480.55,836.4 1482.3,835.88 1484.05,835.37 1485.79,834.85 1487.54,834.34 1489.29,833.82 1491.04,833.31 1492.78,832.79 1494.53,832.28 1496.28,831.76 1498.03,831.25 1499.77,830.73 1501.52,830.22 1503.27,829.54 1505.02,828.54 1506.76,827.54 1508.51,826.54 1510.26,825.54 1512.01,824.55 1513.75,823.55 1515.5,822.55 1517.25,821.55 1519,820.56 1520.74,819.56 1522.49,818.56 1524.24,817.56 1525.99,816.57 1527.73,815.57 1529.48,814.57 1531.23,813.57 1532.98,812.58 1534.72,811.58 1536.47,810.58 1538.22,809.58 1539.97,808.25 1541.71,806.92 1543.46,805.58 1545.21,804.25 1546.96,802.91 1548.7,801.58 1550.45,800.24 1552.2,798.9 1553.95,797.57 1555.69,796.23 1557.44,794.9 1559.19,793.56 1560.94,792.23 1562.68,790.89 1564.43,789.56 1566.18,788.22 1567.93,786.88 1569.67,785.55 1571.42,784.21 1573.17,782.88 1574.92,781.45 1576.66,779.97 1578.41,778.49 1580.16,777.01 1581.91,775.53 1583.65,774.05 1585.4,772.57 1587.15,771.09 1588.9,769.61 1590.64,768.13 1592.39,766.65 1594.14,765.17 1595.89,763.69 1597.63,762.21 1599.38,760.73 1601.13,759.25 1602.88,757.77 1604.62,756.29 1606.37,754.81 1608.12,753.33 1609.87,751.79 1611.61,750.1 1613.36,748.42 1615.11,746.73 1616.86,745.04 1618.6,743.35 1620.35,741.66 1622.1,739.97 1623.85,738.28 1625.59,736.59 1627.34,734.9 1629.09,733.21 1630.84,731.52 1632.58,729.83 1634.33,728.14 1636.08,726.45 1637.83,724.76 1639.57,723.07 1641.32,721.38 1643.07,719.69 1644.82,718 1646.56,716.2 1648.31,714.38 1650.06,712.56 1651.81,710.75 1653.55,708.93 1655.3,707.11 1657.05,705.29 1658.8,703.47 1660.54,701.65 1662.29,699.84 1664.04,698.02 1665.79,696.2 1667.53,694.38 1669.28,692.56 1671.03,690.74 1672.78,688.93 1674.52,687.11 1676.27,685.29 1678.02,683.47 1679.77,681.65 1681.51,679.7 1683.26,677.63 1685.01,675.56 1686.76,673.49 1688.5,671.41 1690.25,669.34 1692,667.27 1693.75,665.2 1695.49,663.12 1697.24,661.05 1698.99,658.98 1700.74,656.91 1702.48,654.83 1704.23,652.76 1705.98,650.69 1707.73,648.62 1709.47,646.54 1711.22,644.47 1712.97,642.4 1714.72,640.33 1716.46,638.25 1718.21,636.18 1719.96,634.11 1721.71,632.04 1723.45,629.96 1725.2,627.89 1726.95,625.82 1728.7,623.74 1730.44,621.67 1732.19,619.6 1733.94,617.53 1735.69,615.45 1737.43,613.38 1739.18,611.31 1740.93,609.24 1742.68,607.16 1744.42,605.09 1746.17,603.02 1747.92,600.95 1749.67,598.87 1751.41,596.8 1753.16,594.73 1754.91,592.66 1756.66,590.58 1758.4,588.51 1760.15,586.44 1761.9,584.37 1763.65,582.29 1765.39,580.22 1767.14,578.15 1768.89,576.08 1770.64,573.97 1772.38,571.85 1774.13,569.72 1775.88,567.6 1777.63,565.48 1779.37,563.35 1781.12,561.23 1782.87,559.1 1784.62,556.98 1786.36,554.86 1788.11,552.73 1789.86,550.61 1791.61,548.48 1793.35,546.36 1795.1,544.24 1796.85,542.11 1798.6,539.99 1800.34,537.86 1802.09,535.74 1803.84,533.62 1805.59,531.49 1807.33,529.37 1809.08,527.24 1810.83,525.12 1812.58,523 1814.32,520.87 1816.07,518.75 1817.82,516.62 1819.57,514.5 1821.31,512.38 1823.06,510.25 1824.81,508.13 1826.56,506 1828.3,503.88 1830.05,501.76 1831.8,499.63 1833.55,497.51 1835.29,495.38 1837.04,493.26 1838.79,491.13 1840.54,489.01 1842.28,486.89 1844.03,484.76 1845.78,482.64 1847.53,480.51 1849.27,478.39 1851.02,476.27 1852.77,474.14 1854.52,472.02 1856.26,469.89 1858.01,467.77 1859.76,465.62 1861.51,463.45 1863.25,461.28 1865,459.12 1866.75,456.95 1868.5,454.78 1870.24,452.62 1871.99,450.45 1873.74,448.28 1875.49,446.11 1877.23,443.95 1878.98,441.78 1880.73,439.61 1882.48,437.45 1884.22,435.28 1885.97,433.11 1887.72,430.95 1889.47,428.78 1891.21,426.61 1892.96,424.45 1894.71,422.28 1896.46,420.11 1898.2,417.94 1899.95,415.78 1901.7,413.61 1903.45,411.44 1905.19,409.28 1906.94,407.11 1908.69,404.94 1910.44,402.78 1912.18,400.62 1913.93,398.58 1915.68,396.54 1917.43,394.5 1919.17,392.46 1920.92,390.42 1922.67,388.38 1924.42,386.34 1926.16,384.3 1927.91,382.26 1929.66,380.22 1931.41,378.18 1933.15,376.14 1934.9,374.1 1936.65,372.06 1938.4,370.02 1940.14,367.98 1941.89,365.94 1943.64,363.9 1945.39,361.86 1947.13,359.82 1948.88,357.78 1950.63,355.74 1952.38,353.69 1954.12,351.65 1955.87,349.61 1957.62,347.57 1959.37,345.53 1961.11,343.49 1962.86,341.45 1964.61,339.41 1966.36,337.37 1968.1,335.33 1969.85,333.29 1971.6,331.25 1973.35,329.21 1975.09,327.08 1976.84,324.92 1978.59,322.76 1980.34,320.6 1982.08,318.45 1983.83,316.29 1985.58,314.13 1987.33,311.97 1989.07,309.81 1990.82,307.66 1992.57,305.5 1994.32,303.34 1996.06,301.18 1997.81,299.02 1999.56,296.87 2001.31,294.71 2003.05,292.55 2004.8,290.39 2006.55,288.24 2008.3,286.08 2010.04,283.92 2011.79,281.76 2013.54,279.6 2015.29,277.45 2017.03,275.29 2018.78,273.13 2020.53,270.97 2022.28,268.81 2024.02,266.66 2025.77,264.5 2027.52,262.34 2029.27,260.18 2031.01,258.02 2032.76,255.87 2034.51,253.71 2036.26,251.68 2038,249.76 2039.75,247.84 2041.5,245.93 2043.25,244.01 2044.99,242.09 2046.74,240.17 2048.49,238.25 2050.24,236.33 2051.98,234.41 2053.73,232.5 2055.48,230.76 2057.23,229.04 2058.97,227.31 2060.72,225.59 2062.47,223.86 2064.22,222.13 2065.96,220.41 2067.71,219.05 2069.46,217.72 2071.21,216.39 2072.95,215.05 2074.7,213.72 2076.45,212.4 2078.2,211.34 2079.94,210.29 2081.69,209.24 2083.44,208.18 2085.19,207.13 2086.93,206.09 2088.68,205.19 2090.43,204.28 2092.18,203.38 2093.92,202.48 2095.67,201.57 2097.42,200.78 2099.17,200.22 2100.91,199.67 2102.66,199.12 2104.41,198.56 2106.16,198.01 2107.9,197.54 2109.65,197.21 2111.4,196.88 2113.15,196.54 2114.89,196.21 2116.64,195.88 2118.39,195.68 2120.14,195.63 2121.88,195.57 2123.63,195.51 2125.38,195.46 2127.13,195.4 2128.87,195.35 2130.62,195.29 2132.37,195.23 2134.12,195.18 2135.86,195.12 2137.61,195.07 2139.36,195.04 2141.11,195.03 2142.85,195.01 2144.6,195 2146.35,194.98 2148.1,194.97 2149.84,194.95 2151.59,194.94 2153.34,194.92 2155.09,194.91 2156.83,194.89 2158.58,194.88 2160.33,194.86 2162.08,194.85 2163.82,194.83 2165.57,194.82 2167.32,194.8 2169.07,194.79 2170.81,194.77 2172.56,194.76 2174.31,194.74 2176.06,194.73 2177.8,194.71 2179.55,194.7 2181.3,194.68 2183.05,194.67 2184.79,194.65 2186.54,194.64 2188.29,194.62 2190.04,194.61 2191.78,194.59 2193.53,194.58 2195.28,194.56 2197.03,194.55 2198.77,194.53 2200.52,194.52 2202.27,194.5 2204.02,194.49 2205.76,194.47 2207.51,194.46 2209.26,194.44 2211.01,194.43 2212.75,194.41 2214.5,194.4" fill="none" stroke="#FF7F0E" stroke-width="5" stroke-linejoin="round" stroke-linecap="round"/>
<polyline points="1342.5,861.5 1344.25,861.42 1345.99,861.34 1347.74,861.26 1349.49,861.17 1351.24,861.09 1352.98,861.01 1354.73,860.93 1356.48,860.85 1358.23,860.77 1359.97,860.69 1361.72,860.6 1363.47,860.52 1365.22,860.44 1366.96,860.36 1368.71,860.28 1370.46,860.2 1372.21,860.12 1373.95,860.03 1375.7,859.95 1377.45,859.87 1379.2,859.69 1380.94,859.44 1382.69,859.2 1384.44,858.96 1386.19,858.71 1387.93,858.47 1389.68,858.22 1391.43,857.98 1393.18,857.73 1394.92,857.49 1396.67,857.25 1398.42,857 1400.17,856.76 1401.91,856.51 1403.66,856.27 1405.41,856.03 1407.16,855.78 1408.9,855.54 1410.65,855.29 1412.4,855.05 1414.15,854.74 1415.89,854.25 1417.64,853.76 1419.39,853.27 1421.14,852.79 1422.88,852.3 1424.63,851.81 1426.38,851.32 1428.13,850.83 1429.87,850.34 1431.62,849.86 1433.37,849.37 1435.12,848.88 1436.86,848.39 1438.61,847.9 1440.36,847.41 1442.11,846.93 1443.85,846.44 1445.6,845.95 1447.35,845.46 1449.1,844.97 1450.84,844.45 1452.59,843.93 1454.34,843.41 1456.09,842.89 1457.83,842.37 1459.58,841.85 1461.33,841.33 1463.08,840.81 1464.82,840.29 1466.57,839.77 1468.32,839.25 1470.07,838.72 1471.81,838.2 1473.56,837.68 1475.31,837.16 1477.06,836.64 1478.8,836.12 1480.55,835.6 1482.3,835.08 1484.05,834.56 1485.79,834.04 1487.54,833.52 1489.29,832.99 1491.04,832.47 1492.78,831.95 1494.53,831.43 1496.28,830.91 1498.03,830.39 1499.77,829.87 1501.52,829.35 1503.27,828.66 1505.02,827.65 1506.76,826.64 1508.51,825.63 1510.26,824.62 1512.01,823.61 1513.75,822.6 1515.5,821.59 1517.25,820.58 1519,819.57 1520.74,818.57 1522.49,817.56 1524.24,816.55 1525.99,815.54 1527.73,814.53 1529.48,813.52 1531.23,812.51 1532.98,811.5 1534.72,810.49 1536.47,809.48 1538.22,808.47 1539.97,807.13 1541.71,805.78 1543.46,804.43 1545.21,803.08 1546.96,801.72 1548.7,800.37 1550.45,799.02 1552.2,797.67 1553.95,796.32 1555.69,794.97 1557.44,793.62 1559.19,792.27 1560.94,790.92 1562.68,789.56 1564.43,788.21 1566.18,786.86 1567.93,785.51 1569.67,784.16 1571.42,782.81 1573.17,781.46 1574.92,780.02 1576.66,778.52 1578.41,777.02 1580.16,775.52 1581.91,774.03 1583.65,772.53 1585.4,771.03 1587.15,769.53 1588.9,768.04 1590.64,766.54 1592.39,765.04 1594.14,763.54 1595.89,762.04 1597.63,760.55 1599.38,759.05 1601.13,757.55 1602.88,756.05 1604.62,754.56 1606.37,753.06 1608.12,751.56 1609.87,750.01 1611.61,748.3 1613.36,746.59 1615.11,744.88 1616.86,743.18 1618.6,741.47 1620.35,739.76 1622.1,738.05 1623.85,736.34 1625.59,734.63 1627.34,732.92 1629.09,731.21 1630.84,729.5 1632.58,727.79 1634.33,726.08 1636.08,724.37 1637.83,722.66 1639.57,720.96 1641.32,719.25 1643.07,717.54 1644.82,715.83 1646.56,714 1648.31,712.16 1650.06,710.32 1651.81,708.49 1653.55,706.65 1655.3,704.81 1657.05,702.97 1658.8,701.13 1660.54,699.29 1662.29,697.45 1664.04,695.61 1665.79,693.77 1667.53,691.93 1669.28,690.09 1671.03,688.25 1672.78,686.41 1674.52,684.57 1676.27,682.73 1678.02,680.89 1679.77,679.05 1681.51,677.08 1683.26,674.99 1685.01,672.89 1686.76,670.79 1688.5,668.7 1690.25,666.6 1692,664.5 1693.75,662.41 1695.49,660.31 1697.24,658.21 1698.99,656.12 1700.74,654.02 1702.48,651.92 1704.23,649.83 1705.98,647.73 1707.73,645.63 1709.47,643.54 1711.22,641.44 1712.97,639.34 1714.72,637.25 1716.46,635.15 1718.21,633.05 1719.96,630.96 1721.71,628.86 1723.45,626.76 1725.2,624.67 1726.95,622.57 1728.7,620.47 1730.44,618.38 1732.19,616.28 1733.94,614.18 1735.69,612.09 1737.43,609.99 1739.18,607.89 1740.93,605.8 1742.68,603.7 1744.42,601.6 1746.17,599.51 1747.92,597.41 1749.67,595.31 1751.41,593.22 1753.16,591.12 1754.91,589.02 1756.66,586.93 1758.4,584.83 1760.15,582.73 1761.9,580.64 1763.65,578.54 1765.39,576.44 1767.14,574.35 1768.89,572.25 1770.64,570.12 1772.38,567.97 1774.13,565.82 1775.88,563.68 1777.63,561.53 1779.37,559.38 1781.12,557.23 1782.87,555.08 1784.62,552.93 1786.36,550.78 1788.11,548.63 1789.86,546.49 1791.61,544.34 1793.35,542.19 1795.1,540.04 1796.85,537.89 1798.6,535.74 1800.34,533.59 1802.09,531.44 1803.84,529.3 1805.59,527.15 1807.33,525 1809.08,522.85 1810.83,520.7 1812.58,518.55 1814.32,516.4 1816.07,514.25 1817.82,512.11 1819.57,509.96 1821.31,507.81 1823.06,505.66 1824.81,503.51 1826.56,501.36 1828.3,499.21 1830.05,497.06 1831.8,494.92 1833.55,492.77 1835.29,490.62 1837.04,488.47 1838.79,486.32 1840.54,484.17 1842.28,482.02 1844.03,479.87 1845.78,477.73 1847.53,475.58 1849.27,473.43 1851.02,471.28 1852.77,469.13 1854.52,466.98 1856.26,464.83 1858.01,462.68 1859.76,460.51 1861.51,458.31 1863.25,456.12 1865,453.93 1866.75,451.74 1868.5,449.55 1870.24,447.35 1871.99,445.16 1873.74,442.97 1875.49,440.78 1877.23,438.58 1878.98,436.39 1880.73,434.2 1882.48,432.01 1884.22,429.82 1885.97,427.62 1887.72,425.43 1889.47,423.24 1891.21,421.05 1892.96,418.85 1894.71,416.66 1896.46,414.47 1898.2,412.28 1899.95,410.09 1901.7,407.89 1903.45,405.7 1905.19,403.51 1906.94,401.32 1908.69,399.13 1910.44,396.93 1912.18,394.76 1913.93,392.69 1915.68,390.63 1917.43,388.56 1919.17,386.5 1920.92,384.44 1922.67,382.37 1924.42,380.31 1926.16,378.24 1927.91,376.18 1929.66,374.12 1931.41,372.05 1933.15,369.99 1934.9,367.92 1936.65,365.86 1938.4,363.79 1940.14,361.73 1941.89,359.67 1943.64,357.6 1945.39,355.54 1947.13,353.47 1948.88,351.41 1950.63,349.35 1952.38,347.28 1954.12,345.22 1955.87,343.15 1957.62,341.09 1959.37,339.02 1961.11,336.96 1962.86,334.9 1964.61,332.83 1966.36,330.77 1968.1,328.7 1969.85,326.64 1971.6,324.58 1973.35,322.51 1975.09,320.35 1976.84,318.17 1978.59,315.99 1980.34,313.81 1982.08,311.62 1983.83,309.44 1985.58,307.26 1987.33,305.07 1989.07,302.89 1990.82,300.71 1992.57,298.52 1994.32,296.34 1996.06,294.16 1997.81,291.98 1999.56,289.79 2001.31,287.61 2003.05,285.43 2004.8,283.24 2006.55,281.06 2008.3,278.88 2010.04,276.69 2011.79,274.51 2013.54,272.33 2015.29,270.14 2017.03,267.96 2018.78,265.78 2020.53,263.6 2022.28,261.41 2024.02,259.23 2025.77,257.05 2027.52,254.86 2029.27,252.68 2031.01,250.5 2032.76,248.31 2034.51,246.13 2036.26,244.08 2038,242.14 2039.75,240.2 2041.5,238.26 2043.25,236.32 2044.99,234.38 2046.74,232.44 2048.49,230.5 2050.24,228.55 2051.98,226.61 2053.73,224.67 2055.48,222.92 2057.23,221.17 2058.97,219.43 2060.72,217.68 2062.47,215.94 2064.22,214.19 2065.96,212.44 2067.71,211.07 2069.46,209.72 2071.21,208.38 2072.95,207.03 2074.7,205.68 2076.45,204.34 2078.2,203.27 2079.94,202.21 2081.69,201.14 2083.44,200.07 2085.19,199.01 2086.93,197.96 2088.68,197.05 2090.43,196.13 2092.18,195.22 2093.92,194.3 2095.67,193.39 2097.42,192.59 2099.17,192.03 2100.91,191.46 2102.66,190.9 2104.41,190.34 2106.16,189.78 2107.9,189.31 2109.65,188.97 2111.4,188.64 2113.15,188.3 2114.89,187.96 2116.64,187.63 2118.39,187.43 2120.14,187.37 2121.88,187.32 2123.63,187.26 2125.38,187.2 2127.13,187.15 2128.87,187.09 2130.62,187.03 2132.37,186.98 2134.12,186.92 2135.86,186.86 2137.61,186.81 2139.36,186.78 2141.11,186.77 2142.85,186.75 2144.6,186.74 2146.35,186.72 2148.1,186.71 2149.84,186.69 2151.59,186.68 2153.34,186.66 2155.09,186.65 2156.83,186.63 2158.58,186.62 2160.33,186.6 2162.08,186.59 2163.82,186.57 2165.57,186.56 2167.32,186.54 2169.07,186.53 2170.81,186.51 2172.56,186.5 2174.31,186.48 2176.06,186.47 2177.8,186.45 2179.55,186.44 2181.3,186.42 2183.05,186.41 2184.79,186.39 2186.54,186.37 2188.29,186.36 2190.04,186.34 2191.78,186.33 2193.53,186.31 2195.28,186.3 2197.03,186.28 2198.77,186.27 2200.52,186.25 2202.27,186.24 2204.02,186.22 2205.76,186.21 2207.51,186.19 2209.26,186.18 2211.01,186.16 2212.75,186.15 2214.5,186.13" fill="none" stroke="#70AD47" stroke-width="5" stroke-linejoin="round" stroke-linecap="round"/>
</g>
<line x1="1387.7" y1="681.6" x2="1447.3" y2="681.6" stroke="#FF7F0E" stroke-width="4.8" stroke-linecap="round"/>
<rect x="1410.2" y="674.6" width="14.2" height="14.2" fill="#FF7F0E" />
<line x1="1387.7" y1="741.3" x2="1447.3" y2="741.3" stroke="#70AD47" stroke-width="4.8" stroke-linecap="round"/>
<circle cx="1417.3" cy="741.3" r="7.4" fill="url(#ball)" />
<text x="1470" y="692.6" font-size="46.5" text-anchor="start" fill="#000" textLength="155" lengthAdjust="spacing" >Pristine</text>
<text x="1462" y="751.5" font-size="46.5" text-anchor="start" fill="#000" textLength="97.5" lengthAdjust="spacing" >PSM</text>
<rect x="1342.5" y="131.6" width="872" height="729.9" fill="none" stroke="#000" stroke-width="5"/>
<line x1="1342.5" y1="861.5" x2="1328.5" y2="861.5" stroke="#000" stroke-width="5" />
<line x1="1342.5" y1="715.52" x2="1328.5" y2="715.52" stroke="#000" stroke-width="5" />
<line x1="1342.5" y1="569.54" x2="1328.5" y2="569.54" stroke="#000" stroke-width="5" />
<line x1="1342.5" y1="423.56" x2="1328.5" y2="423.56" stroke="#000" stroke-width="5" />
<line x1="1342.5" y1="277.58" x2="1328.5" y2="277.58" stroke="#000" stroke-width="5" />
<line x1="1342.5" y1="131.6" x2="1328.5" y2="131.6" stroke="#000" stroke-width="5" />
<line x1="1342.5" y1="788.51" x2="1335" y2="788.51" stroke="#000" stroke-width="4.5" />
<line x1="1342.5" y1="642.53" x2="1335" y2="642.53" stroke="#000" stroke-width="4.5" />
<line x1="1342.5" y1="496.55" x2="1335" y2="496.55" stroke="#000" stroke-width="4.5" />
<line x1="1342.5" y1="350.57" x2="1335" y2="350.57" stroke="#000" stroke-width="4.5" />
<line x1="1342.5" y1="204.59" x2="1335" y2="204.59" stroke="#000" stroke-width="4.5" />
<line x1="2214.5" y1="861.5" x2="2228.5" y2="861.5" stroke="#000" stroke-width="5" />
<line x1="2214.5" y1="695.73" x2="2228.5" y2="695.73" stroke="#000" stroke-width="5" />
<line x1="2214.5" y1="529.95" x2="2228.5" y2="529.95" stroke="#000" stroke-width="5" />
<line x1="2214.5" y1="364.17" x2="2228.5" y2="364.17" stroke="#000" stroke-width="5" />
<line x1="2214.5" y1="198.4" x2="2228.5" y2="198.4" stroke="#000" stroke-width="5" />
<line x1="2214.5" y1="778.61" x2="2222" y2="778.61" stroke="#000" stroke-width="4.5" />
<line x1="2214.5" y1="612.84" x2="2222" y2="612.84" stroke="#000" stroke-width="4.5" />
<line x1="2214.5" y1="447.06" x2="2222" y2="447.06" stroke="#000" stroke-width="4.5" />
<line x1="2214.5" y1="281.29" x2="2222" y2="281.29" stroke="#000" stroke-width="4.5" />
<line x1="1502.66" y1="861.5" x2="1502.66" y2="874.8" stroke="#000" stroke-width="5" />
<line x1="1680.62" y1="861.5" x2="1680.62" y2="874.8" stroke="#000" stroke-width="5" />
<line x1="1858.58" y1="861.5" x2="1858.58" y2="874.8" stroke="#000" stroke-width="5" />
<line x1="2036.54" y1="861.5" x2="2036.54" y2="874.8" stroke="#000" stroke-width="5" />
<line x1="2214.5" y1="861.5" x2="2214.5" y2="874.8" stroke="#000" stroke-width="5" />
<line x1="1413.68" y1="861.5" x2="1413.68" y2="869" stroke="#000" stroke-width="4.5" />
<line x1="1591.64" y1="861.5" x2="1591.64" y2="869" stroke="#000" stroke-width="4.5" />
<line x1="1769.6" y1="861.5" x2="1769.6" y2="869" stroke="#000" stroke-width="4.5" />
<line x1="1947.56" y1="861.5" x2="1947.56" y2="869" stroke="#000" stroke-width="4.5" />
<line x1="2125.52" y1="861.5" x2="2125.52" y2="869" stroke="#000" stroke-width="4.5" />
<text x="1318.5" y="875" font-size="47" text-anchor="end" fill="#000" >0</text>
<text x="1318.5" y="729.02" font-size="47" text-anchor="end" fill="#000" >20</text>
<text x="1318.5" y="583.04" font-size="47" text-anchor="end" fill="#000" >40</text>
<text x="1318.5" y="437.06" font-size="47" text-anchor="end" fill="#000" >60</text>
<text x="1318.5" y="291.08" font-size="47" text-anchor="end" fill="#000" >80</text>
<text x="1318.5" y="145.1" font-size="47" text-anchor="end" fill="#000" >100</text>
<text x="2236" y="875" font-size="47" text-anchor="start" fill="#000" >0</text>
<text x="2236" y="709.23" font-size="47" text-anchor="start" fill="#000" >5</text>
<text x="2236" y="543.45" font-size="47" text-anchor="start" fill="#000" >10</text>
<text x="2236" y="377.67" font-size="47" text-anchor="start" fill="#000" >15</text>
<text x="2236" y="211.9" font-size="47" text-anchor="start" fill="#000" >20</text>
<text x="1502.66" y="926" font-size="47" text-anchor="middle" fill="#000" >400</text>
<text x="1680.62" y="926" font-size="47" text-anchor="middle" fill="#000" >500</text>
<text x="1858.58" y="926" font-size="47" text-anchor="middle" fill="#000" >600</text>
<text x="2036.54" y="926" font-size="47" text-anchor="middle" fill="#000" >700</text>
<text x="2214.5" y="926" font-size="47" text-anchor="middle" fill="#000" >800</text>
<text x="1777.5" y="980.5" font-size="60" text-anchor="middle" fill="#000" textLength="436" lengthAdjust="spacing" >Wavelength (nm)</text>
<text transform="translate(1259.5 483.5) rotate(-90) scale(1.0 1.0)" font-size="62" text-anchor="middle" fill="#000" textLength="248" lengthAdjust="spacing">EQE (%)</text>
<text transform="translate(2336 478) rotate(-90) scale(1.0 1.0)" font-size="62" text-anchor="middle" fill="#7F00FF" textLength="768" lengthAdjust="spacing">Integrated current (mA/cm<tspan font-size="39" dy="-24">2</tspan><tspan dy="24">)</tspan></text>
</g>
<g id="pc">
<text transform="translate(2371 124.7) scale(1.12 1)" font-size="134" font-family="'Liberation Sans',sans-serif" font-weight="normal">c</text>
<line x1="2597.4" y1="188.13" x2="2597.4" y2="811.62" stroke="#FF7F0E" stroke-width="3.2" />
<line x1="2597.4" y1="811.62" x2="2597.4" y2="832.32" stroke="#70AD47" stroke-width="3.2" />
<polyline points="2596.96,184.02 2599.86,183.25 2602.76,182.19 2605.66,181.58 2608.56,181.2 2611.46,180.79 2614.36,180.06 2617.26,179.8 2620.16,179.48 2623.06,179.5 2625.96,179.17 2628.86,179.3 2631.76,179.33 2634.66,179.1 2637.56,179.26 2640.46,179.19 2643.36,178.89 2646.26,179.13 2649.16,178.97 2652.06,179.03 2654.96,178.96 2657.86,179.16 2660.76,179.04 2663.66,178.9 2666.56,179.11 2669.46,179.24 2672.36,179.03 2675.26,179.01 2678.16,179.13 2681.06,179.44 2683.96,179.51 2686.86,179.41 2689.76,179.58 2692.66,179.62 2695.56,179.46 2698.46,179.4 2701.36,179.76 2704.26,179.82 2707.16,179.83 2710.05,179.88 2712.95,180.11 2715.85,180.28 2718.75,180.34 2721.65,180.51 2724.55,180.75 2727.45,181.13 2730.35,181.17 2733.25,181.19 2736.15,181.37 2739.05,181.63 2741.95,181.68 2744.85,181.85 2747.75,182.18 2750.65,182.13 2753.55,182.49 2756.45,182.59 2759.35,182.91 2762.25,183.07 2765.15,183.18 2768.05,183.32 2770.95,183.28 2773.85,183.55 2776.75,183.51 2779.65,183.73 2782.55,183.7 2785.45,183.86 2788.35,183.76 2791.25,183.93 2794.15,184.37 2797.05,184.08 2799.95,184.39 2802.85,184.44 2805.75,184.54 2808.65,184.48 2811.55,184.6 2814.45,184.4 2817.35,184.47 2820.25,184.59 2823.15,184.62 2826.05,184.65 2828.95,184.72 2831.85,184.98 2834.75,184.85 2837.65,185.29 2840.55,185.2 2843.45,185.18 2846.35,185.31 2849.25,185.14 2852.15,185.51 2855.05,185.52 2857.95,185.51 2860.85,185.43 2863.75,185.65 2866.65,185.65 2869.55,185.65 2872.45,185.82 2875.35,185.72 2878.25,185.63 2881.15,185.76 2884.05,185.63 2886.95,185.67 2889.85,185.97 2892.75,186.04 2895.65,186.18 2898.55,186.16 2901.45,186.04 2904.35,185.85 2907.25,186.09 2910.15,186.35 2913.05,186.32 2915.95,186.21 2918.85,186.23 2921.75,186.16 2924.65,186.18 2927.55,186.16 2930.45,186.61 2933.35,186.53 2936.25,186.32 2939.15,186.5 2942.05,186.36 2944.95,186.48 2947.85,186.78 2950.75,186.78 2953.65,186.74 2956.55,186.68 2959.45,186.91 2962.35,187.1 2965.25,186.88 2968.15,186.74 2971.05,186.77 2973.95,186.82 2976.85,187.29 2979.75,187.12 2982.65,187.3 2985.55,187.01 2988.45,187.08 2991.35,187.33 2994.25,187.46 2997.15,187.22 3000.05,187.11 3002.95,187.53 3005.85,187.27 3008.75,187.52 3011.65,187.25 3014.55,187.55 3017.45,187.64 3020.35,187.61 3023.25,187.44 3026.15,187.64 3029.05,187.37 3031.95,187.47 3034.85,187.54 3037.75,187.79 3040.65,187.44 3043.55,187.82 3046.45,187.79 3049.35,187.89 3052.25,187.6 3055.15,187.54 3058.05,187.57 3060.95,187.87 3063.85,187.95 3066.75,187.83 3069.65,187.73 3072.55,187.64 3075.45,187.92 3078.35,187.95 3081.25,187.57 3084.15,187.64 3087.05,187.95 3089.95,187.97 3092.85,187.71 3095.75,187.7 3098.65,187.78 3101.55,187.84 3104.45,187.62 3107.35,188 3110.25,187.85 3113.15,187.98 3116.05,187.71 3118.95,188.08 3121.85,187.98 3124.75,187.78 3127.65,188.09 3130.55,187.97 3133.45,188.04 3136.35,187.65 3139.25,187.65 3142.15,188 3145.05,187.79 3147.95,187.9 3150.85,187.72 3153.75,188.13 3156.65,187.9 3159.55,188.06 3162.45,187.69 3165.35,187.89 3168.25,187.69 3171.15,188.1 3174.05,187.89 3176.95,187.7 3179.85,187.71 3182.75,187.94 3185.65,187.71 3188.55,187.77 3191.45,187.9 3194.35,187.93 3197.25,187.98 3200.15,188 3203.05,187.88 3205.95,188 3208.85,187.77 3211.75,187.84 3214.64,188.1 3217.54,187.78 3220.44,187.82 3223.34,187.83 3226.24,187.96 3229.14,187.72 3232.04,187.74 3234.94,187.96 3237.84,187.81 3240.74,188.07 3243.64,188.13 3246.54,188.03 3249.44,188.09 3252.34,187.94 3255.24,187.77 3258.14,187.97 3261.04,187.94 3263.94,188.05 3266.84,187.82 3269.74,187.87 3272.64,188.17 3275.54,187.9 3278.44,187.97 3281.34,188.24 3284.24,187.91 3287.14,187.84 3290.04,188.13 3292.94,188.06 3295.84,188.08 3298.74,187.8 3301.64,187.99 3304.54,187.79 3307.44,187.91 3310.34,188.14 3313.24,187.82 3316.14,187.94 3319.04,188.29 3321.94,188.28 3324.84,188.04 3327.74,188.17 3330.64,188.12 3333.54,188.04 3336.44,188.24 3339.34,187.89 3342.24,188.22 3345.14,187.83 3348.04,188.25 3350.94,188.15 3353.84,188.04 3356.74,188.16 3359.64,188.05 3362.54,188.21 3365.44,187.88 3368.34,188.08 3371.24,188.26 3374.14,188.29 3377.04,187.94 3379.94,187.96 3382.84,188.29 3385.74,188.01 3388.64,187.87 3391.54,188.2 3394.44,188.05 3397.34,188.21 3400.24,188.08 3403.14,188.1 3406.04,188.06 3408.94,188 3411.84,188.3 3414.74,188.19 3417.64,188.25 3420.54,188.3 3423.44,187.98 3426.34,188.32 3429.24,188.29 3432.14,188.12 3435.04,188.15 3437.94,187.92 3440.84,188.25 3443.74,187.96 3446.64,188.14 3449.54,187.94 3452.44,187.91 3455.34,188.18 3458.24,188.12 3461.14,188.22 3464.04,188.28" fill="none" stroke="#70AD47" stroke-width="10.3" stroke-linejoin="round" stroke-linecap="round"/>
<polyline points="2596.96,188.37 2599.86,187.89 2602.76,188.13 2605.66,188.07 2608.56,188.07 2611.46,187.98 2614.36,187.95 2617.26,188.08 2620.16,187.83 2623.06,187.84 2625.96,187.89 2628.86,187.56 2631.76,187.71 2634.66,187.52 2637.56,187.51 2640.46,187.42 2643.36,187.51 2646.26,187.5 2649.16,187.65 2652.06,187.67 2654.96,187.8 2657.86,187.63 2660.76,187.83 2663.66,187.58 2666.56,187.76 2669.46,187.68 2672.36,187.73 2675.26,187.57 2678.16,187.93 2681.06,187.88 2683.96,187.61 2686.86,187.85 2689.76,188.13 2692.66,187.71 2695.56,187.9 2698.46,188.18 2701.36,187.9 2704.26,188.33 2707.16,188.31 2710.05,188.47 2712.95,188.47 2715.85,188.75 2718.75,188.54 2721.65,188.75 2724.55,188.58 2727.45,188.93 2730.35,188.96 2733.25,189.34 2736.15,189.42 2739.05,189.12 2741.95,189.17 2744.85,189.31 2747.75,189.45 2750.65,189.81 2753.55,189.82 2756.45,189.92 2759.35,189.98 2762.25,189.85 2765.15,190.14 2768.05,190.54 2770.95,190.54 2773.85,190.52 2776.75,190.42 2779.65,190.88 2782.55,190.72 2785.45,190.91 2788.35,190.79 2791.25,190.94 2794.15,191.04 2797.05,191.15 2799.95,191.05 2802.85,191.46 2805.75,191.3 2808.65,191.6 2811.55,191.7 2814.45,191.83 2817.35,191.71 2820.25,191.8 2823.15,192.12 2826.05,192.02 2828.95,191.99 2831.85,192.45 2834.75,192.09 2837.65,192.61 2840.55,192.4 2843.45,192.53 2846.35,192.92 2849.25,192.73 2852.15,192.96 2855.05,192.89 2857.95,193.23 2860.85,193.22 2863.75,193.18 2866.65,193.07 2869.55,193.3 2872.45,193.44 2875.35,193.43 2878.25,193.64 2881.15,193.56 2884.05,193.79 2886.95,193.89 2889.85,194.05 2892.75,194.17 2895.65,194.24 2898.55,194.17 2901.45,194.27 2904.35,194.57 2907.25,194.4 2910.15,194.67 2913.05,194.88 2915.95,194.93 2918.85,194.82 2921.75,194.79 2924.65,195.03 2927.55,195.14 2930.45,195.15 2933.35,195.14 2936.25,195.28 2939.15,195.17 2942.05,195.36 2944.95,195.37 2947.85,195.71 2950.75,195.94 2953.65,195.62 2956.55,195.64 2959.45,196.08 2962.35,195.96 2965.25,196.12 2968.15,195.98 2971.05,196.12 2973.95,196.46 2976.85,196.49 2979.75,196.7 2982.65,196.83 2985.55,196.61 2988.45,196.82 2991.35,196.81 2994.25,196.92 2997.15,196.94 3000.05,197.31 3002.95,197.21 3005.85,197.05 3008.75,197.4 3011.65,197.61 3014.55,197.65 3017.45,197.56 3020.35,197.36 3023.25,197.84 3026.15,197.98 3029.05,197.95 3031.95,197.88 3034.85,197.93 3037.75,198.19 3040.65,197.94 3043.55,198.36 3046.45,198.29 3049.35,198.15 3052.25,198.6 3055.15,198.47 3058.05,198.4 3060.95,198.51 3063.85,198.93 3066.75,198.66 3069.65,199.05 3072.55,199.13 3075.45,198.85 3078.35,199.11 3081.25,199.36 3084.15,199.29 3087.05,199.56 3089.95,199.39 3092.85,199.59 3095.75,199.46 3098.65,199.85 3101.55,199.93 3104.45,199.87 3107.35,199.83 3110.25,199.92 3113.15,200.12 3116.05,199.96 3118.95,200.23 3121.85,200.2 3124.75,200.3 3127.65,200.36 3130.55,200.7 3133.45,200.44 3136.35,200.55 3139.25,200.59 3142.15,200.59 3145.05,200.87 3147.95,201.15 3150.85,201.25 3153.75,201.12 3156.65,201.16 3159.55,201.46 3162.45,201.36 3165.35,201.44 3168.25,201.57 3171.15,201.35 3174.05,201.8 3176.95,201.51 3179.85,201.79 3182.75,202.06 3185.65,201.94 3188.55,201.91 3191.45,202.17 3194.35,202.32 3197.25,202.25 3200.15,202.03 3203.05,202.51 3205.95,202.15 3208.85,202.55 3211.75,202.72 3214.64,202.42 3217.54,202.67 3220.44,202.82 3223.34,202.62 3226.24,202.72 3229.14,202.69 3232.04,202.8 3234.94,202.84 3237.84,202.99 3240.74,203.28 3243.64,203.31 3246.54,203.41 3249.44,203.42 3252.34,203.54 3255.24,203.28 3258.14,203.54 3261.04,203.33 3263.94,203.62 3266.84,203.86 3269.74,203.73 3272.64,203.7 3275.54,203.74 3278.44,203.86 3281.34,204.18 3284.24,204.26 3287.14,204.21 3290.04,204.38 3292.94,204.32 3295.84,204.14 3298.74,204.27 3301.64,204.47 3304.54,204.52 3307.44,204.56 3310.34,204.52 3313.24,204.4 3316.14,204.86 3319.04,204.55 3321.94,204.98 3324.84,204.61 3327.74,205.09 3330.64,204.84 3333.54,205.12 3336.44,204.77 3339.34,205.04 3342.24,205 3345.14,205.27 3348.04,205.31 3350.94,205.26 3353.84,205.44 3356.74,205.63 3359.64,205.24 3362.54,205.53 3365.44,205.64 3368.34,205.67 3371.24,205.53 3374.14,205.89 3377.04,205.63 3379.94,205.98 3382.84,205.85 3385.74,205.74 3388.64,206.13 3391.54,205.81 3394.44,206.22 3397.34,206.18 3400.24,206.37 3403.14,206.38 3406.04,206.24 3408.94,206.16 3411.84,206.27 3414.74,206.19 3417.64,206.57 3420.54,206.34 3423.44,206.44 3426.34,206.52 3429.24,206.66 3432.14,206.85 3435.04,206.78 3437.94,206.86 3440.84,206.71 3443.74,206.89 3446.64,206.87 3449.54,207.19 3452.44,206.89 3455.34,207.24 3458.24,207.33 3461.14,207.29 3464.04,207.11" fill="none" stroke="#FF7F0E" stroke-width="10.3" stroke-linejoin="round" stroke-linecap="round"/>
<polyline points="2596.96,832.19 2599.86,833.63 2602.76,834.97 2605.66,835.97 2608.56,837.01 2611.46,837.53 2614.36,838.01 2617.26,838.16 2620.16,838.1 2623.06,838.47 2625.96,838.27 2628.86,838.12 2631.76,838.37 2634.66,838.09 2637.56,838.32 2640.46,838.21 2643.36,837.92 2646.26,837.92 2649.16,837.96 2652.06,837.86 2654.96,837.7 2657.86,837.45 2660.76,837.42 2663.66,837.52 2666.56,837.31 2669.46,837.36 2672.36,837.25 2675.26,837.01 2678.16,836.8 2681.06,837.01 2683.96,836.76 2686.86,836.78 2689.76,836.47 2692.66,836.39 2695.56,836.44 2698.46,836.47 2701.36,836.1 2704.26,836.34 2707.16,836.28 2710.05,836.1 2712.95,836.04 2715.85,835.69 2718.75,835.53 2721.65,835.55 2724.55,835.35 2727.45,835.4 2730.35,835.48 2733.25,835.15 2736.15,835.35 2739.05,835.06 2741.95,834.82 2744.85,834.98 2747.75,834.79 2750.65,834.65 2753.55,834.66 2756.45,834.82 2759.35,834.62 2762.25,834.31 2765.15,834.56 2768.05,834.11 2770.95,834.15 2773.85,834.07 2776.75,834.3 2779.65,833.75 2782.55,834.01 2785.45,833.88 2788.35,833.64 2791.25,833.83 2794.15,833.86 2797.05,833.79 2799.95,833.39 2802.85,833.7 2805.75,833.43 2808.65,833.64 2811.55,833.45 2814.45,833.16 2817.35,833.45 2820.25,833.32 2823.15,833.22 2826.05,833.27 2828.95,833.14 2831.85,832.89 2834.75,833.29 2837.65,832.94 2840.55,832.9 2843.45,832.75 2846.35,833.05 2849.25,833.11 2852.15,832.85 2855.05,833 2857.95,832.72 2860.85,832.71 2863.75,832.63 2866.65,832.6 2869.55,832.7 2872.45,832.55 2875.35,832.39 2878.25,832.67 2881.15,832.45 2884.05,832.46 2886.95,832.33 2889.85,832.23 2892.75,832.5 2895.65,832.36 2898.55,832.58 2901.45,832.09 2904.35,832.47 2907.25,832.03 2910.15,832.08 2913.05,831.97 2915.95,832.19 2918.85,832.08 2921.75,832.03 2924.65,832.33 2927.55,832.1 2930.45,832.24 2933.35,832.19 2936.25,831.89 2939.15,832.01 2942.05,831.75 2944.95,831.8 2947.85,831.93 2950.75,831.84 2953.65,831.57 2956.55,831.53 2959.45,831.85 2962.35,831.78 2965.25,831.72 2968.15,831.48 2971.05,831.73 2973.95,831.6 2976.85,831.35 2979.75,831.33 2982.65,831.53 2985.55,831.68 2988.45,831.46 2991.35,831.29 2994.25,831.47 2997.15,831.19 3000.05,831.38 3002.95,831.24 3005.85,831.03 3008.75,831.25 3011.65,831.22 3014.55,831.4 3017.45,831.28 3020.35,831.05 3023.25,831.2 3026.15,830.99 3029.05,831.17 3031.95,831.12 3034.85,831.11 3037.75,830.86 3040.65,831.12 3043.55,831.01 3046.45,831.1 3049.35,830.73 3052.25,831.06 3055.15,831.15 3058.05,830.95 3060.95,830.71 3063.85,831.09 3066.75,830.89 3069.65,830.73 3072.55,830.89 3075.45,830.99 3078.35,830.6 3081.25,830.81 3084.15,830.83 3087.05,830.96 3089.95,830.51 3092.85,830.73 3095.75,830.82 3098.65,830.77 3101.55,830.86 3104.45,830.74 3107.35,830.72 3110.25,830.69 3113.15,830.46 3116.05,830.79 3118.95,830.61 3121.85,830.34 3124.75,830.73 3127.65,830.65 3130.55,830.62 3133.45,830.31 3136.35,830.62 3139.25,830.43 3142.15,830.65 3145.05,830.31 3147.95,830.39 3150.85,830.26 3153.75,830.2 3156.65,830.35 3159.55,830.52 3162.45,830.37 3165.35,830.3 3168.25,830.6 3171.15,830.49 3174.05,830.6 3176.95,830.25 3179.85,830.19 3182.75,830.56 3185.65,830.11 3188.55,830.45 3191.45,830.52 3194.35,830.39 3197.25,830.31 3200.15,830.2 3203.05,830.15 3205.95,830.02 3208.85,830.17 3211.75,830.22 3214.64,830.08 3217.54,830.43 3220.44,830.44 3223.34,830.07 3226.24,830.22 3229.14,830.35 3232.04,830.19 3234.94,830.06 3237.84,830.3 3240.74,830.13 3243.64,830.17 3246.54,830.23 3249.44,829.98 3252.34,830.17 3255.24,829.95 3258.14,830.14 3261.04,829.93 3263.94,830.19 3266.84,829.96 3269.74,830.26 3272.64,829.85 3275.54,830.12 3278.44,830.18 3281.34,830.18 3284.24,829.99 3287.14,830 3290.04,829.86 3292.94,830.14 3295.84,830.08 3298.74,829.95 3301.64,829.93 3304.54,830.13 3307.44,829.95 3310.34,829.7 3313.24,829.7 3316.14,830.02 3319.04,829.9 3321.94,829.9 3324.84,829.83 3327.74,829.62 3330.64,830 3333.54,829.78 3336.44,829.82 3339.34,829.8 3342.24,829.64 3345.14,830.04 3348.04,830.03 3350.94,829.55 3353.84,829.57 3356.74,829.72 3359.64,830.01 3362.54,829.76 3365.44,829.97 3368.34,829.67 3371.24,829.74 3374.14,829.9 3377.04,829.81 3379.94,829.62 3382.84,829.69 3385.74,829.77 3388.64,829.65 3391.54,829.54 3394.44,829.54 3397.34,829.8 3400.24,829.52 3403.14,829.5 3406.04,829.55 3408.94,829.89 3411.84,829.88 3414.74,829.62 3417.64,829.48 3420.54,829.59 3423.44,829.8 3426.34,829.64 3429.24,829.79 3432.14,829.78 3435.04,829.73 3437.94,829.76 3440.84,829.57 3443.74,829.39 3446.64,829.69 3449.54,829.79 3452.44,829.61 3455.34,829.4 3458.24,829.73 3461.14,829.72 3464.04,829.71" fill="none" stroke="#70AD47" stroke-width="10.3" stroke-linejoin="round" stroke-linecap="round"/>
<polyline points="2596.96,811.7 2599.86,811.86 2602.76,811.54 2605.66,811.74 2608.56,811.99 2611.46,812.02 2614.36,811.95 2617.26,811.88 2620.16,811.93 2623.06,811.84 2625.96,811.79 2628.86,812.16 2631.76,812.03 2634.66,811.95 2637.56,811.96 2640.46,811.91 2643.36,811.94 2646.26,812.21 2649.16,812.05 2652.06,812.09 2654.96,812.38 2657.86,812.03 2660.76,812.47 2663.66,812.23 2666.56,812.45 2669.46,812.47 2672.36,812.42 2675.26,812.12 2678.16,812.45 2681.06,812.37 2683.96,812.32 2686.86,812.44 2689.76,812.53 2692.66,812.4 2695.56,812.42 2698.46,812.32 2701.36,812.28 2704.26,812.49 2707.16,812.64 2710.05,812.17 2712.95,812.4 2715.85,812.33 2718.75,812.35 2721.65,812.09 2724.55,812 2727.45,811.96 2730.35,812.17 2733.25,812.12 2736.15,812.03 2739.05,811.69 2741.95,811.67 2744.85,811.54 2747.75,811.66 2750.65,811.35 2753.55,811.51 2756.45,811.44 2759.35,811.22 2762.25,810.94 2765.15,810.89 2768.05,810.94 2770.95,810.92 2773.85,810.54 2776.75,810.66 2779.65,810.68 2782.55,810.48 2785.45,810.44 2788.35,810.37 2791.25,809.91 2794.15,809.75 2797.05,809.98 2799.95,809.6 2802.85,809.34 2805.75,809.47 2808.65,809.27 2811.55,809 2814.45,809.23 2817.35,808.88 2820.25,809 2823.15,808.52 2826.05,808.27 2828.95,808.56 2831.85,808.12 2834.75,808.3 2837.65,807.95 2840.55,807.92 2843.45,807.5 2846.35,807.44 2849.25,807.51 2852.15,807.51 2855.05,807.31 2857.95,807.22 2860.85,807.02 2863.75,806.98 2866.65,806.48 2869.55,806.29 2872.45,806.21 2875.35,806.25 2878.25,806.01 2881.15,805.71 2884.05,805.62 2886.95,805.57 2889.85,805.46 2892.75,805.33 2895.65,805.32 2898.55,805.24 2901.45,805.2 2904.35,804.84 2907.25,805 2910.15,804.6 2913.05,804.5 2915.95,804.37 2918.85,804.42 2921.75,804.29 2924.65,804.02 2927.55,803.86 2930.45,803.62 2933.35,803.59 2936.25,803.4 2939.15,803.42 2942.05,803.25 2944.95,803.37 2947.85,803.32 2950.75,803.09 2953.65,802.99 2956.55,802.83 2959.45,803.04 2962.35,802.97 2965.25,802.71 2968.15,802.72 2971.05,802.4 2973.95,802.43 2976.85,802.24 2979.75,802.45 2982.65,802.2 2985.55,802.27 2988.45,802.06 2991.35,801.72 2994.25,801.76 2997.15,801.84 3000.05,801.93 3002.95,801.73 3005.85,801.51 3008.75,801.6 3011.65,801.52 3014.55,801.62 3017.45,801.37 3020.35,801.01 3023.25,801.43 3026.15,800.94 3029.05,800.98 3031.95,801.21 3034.85,801 3037.75,800.93 3040.65,800.74 3043.55,800.65 3046.45,800.54 3049.35,800.69 3052.25,800.42 3055.15,800.23 3058.05,800.2 3060.95,800.1 3063.85,800.41 3066.75,800.02 3069.65,799.93 3072.55,800.08 3075.45,799.83 3078.35,800.01 3081.25,799.88 3084.15,799.76 3087.05,799.64 3089.95,799.51 3092.85,799.48 3095.75,799.54 3098.65,799.15 3101.55,799.16 3104.45,799.33 3107.35,799.27 3110.25,799.13 3113.15,798.9 3116.05,798.82 3118.95,798.9 3121.85,798.7 3124.75,798.87 3127.65,798.82 3130.55,798.73 3133.45,798.61 3136.35,798.68 3139.25,798.44 3142.15,798.24 3145.05,798.15 3147.95,798.02 3150.85,798.21 3153.75,798.22 3156.65,798.08 3159.55,797.78 3162.45,798 3165.35,797.95 3168.25,797.7 3171.15,797.73 3174.05,797.43 3176.95,797.63 3179.85,797.28 3182.75,797.38 3185.65,797.55 3188.55,797.4 3191.45,797.21 3194.35,797.42 3197.25,797.21 3200.15,797.31 3203.05,797.03 3205.95,797.05 3208.85,796.98 3211.75,796.63 3214.64,796.62 3217.54,796.55 3220.44,796.54 3223.34,796.87 3226.24,796.65 3229.14,796.62 3232.04,796.67 3234.94,796.24 3237.84,796.48 3240.74,796.31 3243.64,796.18 3246.54,796.31 3249.44,796.28 3252.34,796.13 3255.24,796.12 3258.14,796.15 3261.04,795.86 3263.94,796.04 3266.84,795.81 3269.74,795.98 3272.64,795.83 3275.54,795.73 3278.44,795.86 3281.34,795.57 3284.24,795.38 3287.14,795.48 3290.04,795.36 3292.94,795.6 3295.84,795.16 3298.74,795.33 3301.64,795.25 3304.54,794.98 3307.44,795.22 3310.34,795.11 3313.24,794.99 3316.14,795.2 3319.04,794.73 3321.94,794.95 3324.84,794.73 3327.74,794.78 3330.64,794.67 3333.54,794.78 3336.44,794.84 3339.34,794.38 3342.24,794.53 3345.14,794.61 3348.04,794.34 3350.94,794.32 3353.84,794.58 3356.74,794.11 3359.64,794.3 3362.54,794.31 3365.44,794.25 3368.34,793.9 3371.24,794.3 3374.14,793.79 3377.04,793.74 3379.94,793.96 3382.84,793.67 3385.74,793.75 3388.64,793.94 3391.54,793.77 3394.44,793.74 3397.34,793.86 3400.24,793.41 3403.14,793.8 3406.04,793.58 3408.94,793.56 3411.84,793.17 3414.74,793.56 3417.64,793.27 3420.54,793.23 3423.44,793.3 3426.34,793.13 3429.24,793.36 3432.14,793.3 3435.04,792.98 3437.94,792.86 3440.84,792.9 3443.74,793.15 3446.64,792.76 3449.54,792.81 3452.44,792.61 3455.34,792.71 3458.24,792.89 3461.14,792.57 3464.04,792.33" fill="none" stroke="#FF7F0E" stroke-width="10.3" stroke-linejoin="round" stroke-linecap="round"/>
<circle cx="3464.04" cy="187.63" r="2" fill="#CDE6B8" />
<circle cx="3464.04" cy="206.84" r="2" fill="#FFD9B0" />
<circle cx="3464.04" cy="792.07" r="2" fill="#FFD9B0" />
<circle cx="3464.04" cy="829" r="2" fill="#CDE6B8" />
<circle cx="2592.2" cy="504" r="5.6" fill="#FF7F0E" />
<circle cx="2591.6" cy="503.4" r="1.8" fill="#FFB366" />
<line x1="2593.7" y1="505" x2="3499" y2="505" stroke="#FF00FF" stroke-width="5.6" />
<line x1="2671" y1="252" x2="2748.2" y2="252" stroke="#FF7F0E" stroke-width="3.2" stroke-linecap="round"/>
<circle cx="2709.2" cy="252" r="5.2" fill="#FF7F0E" />
<circle cx="2708.2" cy="251" r="1.8" fill="#FFD9B0" />
<line x1="2671" y1="312.7" x2="2748.2" y2="312.7" stroke="#70AD47" stroke-width="3.2" stroke-linecap="round"/>
<circle cx="2709.2" cy="312.7" r="5.2" fill="#70AD47" />
<circle cx="2708.2" cy="311.7" r="1.8" fill="#CDE6B8" />
<text x="2768" y="266.1" font-size="48" text-anchor="start" fill="#000" textLength="480" lengthAdjust="spacing" >Pristine (bias at 0.98V)</text>
<text x="2773.5" y="326.8" font-size="48" text-anchor="start" fill="#000" textLength="431" lengthAdjust="spacing" >PSM&#160; (bias at 1.04V)</text>
<rect x="2577.8" y="131.1" width="921.2" height="745.1" fill="none" stroke="#000" stroke-width="5.4"/>
<line x1="2577.8" y1="834.8" x2="2563.8" y2="834.8" stroke="#000" stroke-width="5" />
<line x1="2577.8" y1="669.2" x2="2563.8" y2="669.2" stroke="#000" stroke-width="5" />
<line x1="2577.8" y1="503.6" x2="2563.8" y2="503.6" stroke="#000" stroke-width="5" />
<line x1="2577.8" y1="338" x2="2563.8" y2="338" stroke="#000" stroke-width="5" />
<line x1="2577.8" y1="172.4" x2="2563.8" y2="172.4" stroke="#000" stroke-width="5" />
<line x1="2577.8" y1="752" x2="2570.3" y2="752" stroke="#000" stroke-width="4.5" />
<line x1="2577.8" y1="586.4" x2="2570.3" y2="586.4" stroke="#000" stroke-width="4.5" />
<line x1="2577.8" y1="420.8" x2="2570.3" y2="420.8" stroke="#000" stroke-width="4.5" />
<line x1="2577.8" y1="255.2" x2="2570.3" y2="255.2" stroke="#000" stroke-width="4.5" />
<line x1="2592.6" y1="876.2" x2="2592.6" y2="890.7" stroke="#000" stroke-width="5" />
<line x1="2737.84" y1="876.2" x2="2737.84" y2="890.7" stroke="#000" stroke-width="5" />
<line x1="2883.08" y1="876.2" x2="2883.08" y2="890.7" stroke="#000" stroke-width="5" />
<line x1="3028.32" y1="876.2" x2="3028.32" y2="890.7" stroke="#000" stroke-width="5" />
<line x1="3173.56" y1="876.2" x2="3173.56" y2="890.7" stroke="#000" stroke-width="5" />
<line x1="3318.8" y1="876.2" x2="3318.8" y2="890.7" stroke="#000" stroke-width="5" />
<line x1="3464.04" y1="876.2" x2="3464.04" y2="890.7" stroke="#000" stroke-width="5" />
<line x1="2665.22" y1="876.2" x2="2665.22" y2="883.7" stroke="#000" stroke-width="4.5" />
<line x1="2810.46" y1="876.2" x2="2810.46" y2="883.7" stroke="#000" stroke-width="4.5" />
<line x1="2955.7" y1="876.2" x2="2955.7" y2="883.7" stroke="#000" stroke-width="4.5" />
<line x1="3100.94" y1="876.2" x2="3100.94" y2="883.7" stroke="#000" stroke-width="4.5" />
<line x1="3246.18" y1="876.2" x2="3246.18" y2="883.7" stroke="#000" stroke-width="4.5" />
<line x1="3391.42" y1="876.2" x2="3391.42" y2="883.7" stroke="#000" stroke-width="4.5" />
<text x="2553.5" y="848.3" font-size="47" text-anchor="end" fill="#000" >-20</text>
<text x="2553.5" y="682.7" font-size="47" text-anchor="end" fill="#000" >-10</text>
<text x="2553.5" y="517.1" font-size="47" text-anchor="end" fill="#000" >0</text>
<text x="2553.5" y="351.5" font-size="47" text-anchor="end" fill="#000" >10</text>
<text x="2553.5" y="185.9" font-size="47" text-anchor="end" fill="#000" >20</text>
<text x="2592.6" y="938.6" font-size="47" text-anchor="middle" fill="#000" >0</text>
<text x="2737.84" y="938.6" font-size="47" text-anchor="middle" fill="#000" >200</text>
<text x="2883.08" y="938.6" font-size="47" text-anchor="middle" fill="#000" >400</text>
<text x="3028.32" y="938.6" font-size="47" text-anchor="middle" fill="#000" >600</text>
<text x="3173.56" y="938.6" font-size="47" text-anchor="middle" fill="#000" >800</text>
<text x="3318.8" y="938.6" font-size="47" text-anchor="middle" fill="#000" >1000</text>
<text x="3464.04" y="938.6" font-size="47" text-anchor="middle" fill="#000" >1200</text>
<text x="3039" y="1002" font-size="61.5" text-anchor="middle" fill="#000" textLength="222" lengthAdjust="spacing" >Time (s)</text>
<text transform="translate(2477.5 698.7) rotate(-90) scale(1.0 1.11)" font-size="60" text-anchor="middle" fill="#000" textLength="243" lengthAdjust="spacing">SPO (%)</text>
<text transform="translate(2470.5 305.3) rotate(-90) scale(1.0 1.15)" font-size="60" text-anchor="middle" fill="#000" textLength="354" lengthAdjust="spacing">J<tspan font-size="33" dy="14">sc</tspan><tspan dy="-14"> (mA/cm</tspan><tspan font-size="39" dy="-23.5">2</tspan><tspan dy="23.5">)</tspan></text>
</g>
<g id="pd">
<text transform="translate(14 1050) scale(1.03 1)" font-size="134" font-family="'Liberation Sans',sans-serif" font-weight="normal">d</text>
<rect x="266.5" y="1021.5" width="898.7" height="723" fill="url(#gy)" />
<clipPath id="clipd"><rect x="266.5" y="1021.5" width="898.7" height="723.0"/></clipPath><g clip-path="url(#clipd)">
<line x1="266.5" y1="1218.67" x2="1165.2" y2="1218.67" stroke="#800000" stroke-width="5.4" stroke-dasharray="24 11.5 8 11.5 8 12" stroke-dashoffset="0"/>
<line x1="266.5" y1="1480.38" x2="1165.2" y2="1480.38" stroke="#7F00FF" stroke-width="5.4" stroke-dasharray="24 11.5 8 11.5 8 12" stroke-dashoffset="-3"/>
<polyline points="266.5,1087.23 268.43,1087.47 270.64,1087.76 273.11,1088.09 275.82,1088.45 278.75,1088.85 281.89,1089.27 285.21,1089.72 288.7,1090.19 292.34,1090.69 296.11,1091.19 299.99,1091.71 303.96,1092.24 308.01,1092.77 312.11,1093.3 316.26,1093.83 320.42,1094.36 324.57,1094.88 328.72,1095.39 332.82,1095.88 336.87,1096.36 340.84,1096.81 344.72,1097.24 348.49,1097.64 352.13,1098 355.7,1098.34 359.27,1098.65 362.83,1098.93 366.4,1099.19 369.97,1099.43 373.54,1099.65 377.11,1099.86 380.67,1100.06 384.24,1100.25 387.81,1100.43 391.38,1100.61 394.94,1100.8 398.51,1100.98 402.08,1101.17 405.65,1101.37 409.22,1101.59 412.78,1101.81 416.35,1102.06 419.92,1102.32 423.49,1102.61 427.06,1102.92 430.62,1103.27 434.19,1103.64 437.76,1104.05 441.33,1104.5 444.9,1105 448.46,1105.53 452.03,1106.1 455.6,1106.7 459.17,1107.33 462.74,1107.98 466.3,1108.65 469.87,1109.34 473.44,1110.03 477.01,1110.73 480.57,1111.44 484.14,1112.14 487.71,1112.83 491.28,1113.52 494.85,1114.19 498.41,1114.84 501.98,1115.47 505.55,1116.07 509.12,1116.63 512.69,1117.17 516.25,1117.66 519.82,1118.11 523.39,1118.51 526.96,1118.86 530.53,1119.16 534.09,1119.42 537.66,1119.64 541.23,1119.82 544.8,1119.97 548.37,1120.09 551.93,1120.19 555.5,1120.28 559.07,1120.34 562.64,1120.4 566.2,1120.45 569.77,1120.5 573.34,1120.55 576.91,1120.6 580.48,1120.67 584.04,1120.75 587.61,1120.85 591.18,1120.97 594.75,1121.11 598.32,1121.29 601.88,1121.51 605.45,1121.76 609.02,1122.06 612.59,1122.4 616.16,1122.76 619.72,1123.16 623.29,1123.58 626.86,1124.03 630.43,1124.5 634,1124.99 637.56,1125.49 641.13,1126.01 644.7,1126.54 648.27,1127.08 651.84,1127.63 655.4,1128.18 658.97,1128.74 662.54,1129.29 666.11,1129.84 669.67,1130.39 673.24,1130.93 676.81,1131.46 680.38,1131.98 683.95,1132.49 687.51,1132.97 691.08,1133.44 694.65,1133.89 698.22,1134.31 701.79,1134.7 705.35,1135.07 708.92,1135.41 712.49,1135.73 716.06,1136.04 719.63,1136.34 723.19,1136.63 726.76,1136.92 730.33,1137.2 733.9,1137.48 737.46,1137.78 741.03,1138.08 744.6,1138.39 748.17,1138.72 751.74,1139.06 755.3,1139.44 758.87,1139.83 762.44,1140.26 766.01,1140.72 769.58,1141.22 773.14,1141.75 776.71,1142.33 780.28,1142.96 783.85,1143.64 787.42,1144.36 790.98,1145.12 794.55,1145.92 798.12,1146.75 801.69,1147.62 805.26,1148.52 808.82,1149.44 812.39,1150.39 815.96,1151.35 819.53,1152.33 823.1,1153.33 826.66,1154.33 830.23,1155.35 833.8,1156.36 837.37,1157.38 840.93,1158.4 844.5,1159.41 848.07,1160.41 851.64,1161.4 855.21,1162.37 858.77,1163.33 862.34,1164.26 865.91,1165.17 869.48,1166.08 873.05,1166.99 876.61,1167.91 880.18,1168.84 883.75,1169.77 887.32,1170.7 890.89,1171.64 894.45,1172.57 898.02,1173.51 901.59,1174.44 905.16,1175.36 908.72,1176.27 912.29,1177.18 915.86,1178.08 919.43,1178.96 923,1179.83 926.56,1180.68 930.13,1181.52 933.7,1182.34 937.27,1183.13 940.84,1183.91 944.4,1184.66 947.97,1185.38 951.54,1186.08 955.11,1186.73 958.68,1187.33 962.24,1187.88 965.81,1188.38 969.38,1188.85 972.95,1189.29 976.52,1189.69 980.08,1190.08 983.65,1190.45 987.22,1190.82 990.79,1191.17 994.36,1191.53 997.92,1191.89 1001.49,1192.27 1005.06,1192.66 1008.63,1193.08 1012.19,1193.53 1015.76,1194.01 1019.33,1194.52 1022.9,1195.09 1026.47,1195.7 1030.03,1196.37 1033.6,1197.11 1037.17,1197.91 1040.81,1198.79 1044.58,1199.78 1048.46,1200.85 1052.43,1201.99 1056.48,1203.21 1060.58,1204.48 1064.73,1205.8 1068.88,1207.16 1073.04,1208.54 1077.19,1209.95 1081.29,1211.36 1085.34,1212.78 1089.31,1214.18 1093.19,1215.56 1096.96,1216.92 1100.6,1218.23 1104.09,1219.5 1107.41,1220.7 1110.55,1221.84 1113.48,1222.9 1116.19,1223.87 1118.66,1224.75 1120.87,1225.52 1122.8,1226.17" fill="none" stroke="#70AD47" stroke-width="5.8" stroke-linejoin="round" stroke-linecap="round" stroke-dasharray="1.6 27.8"/>
<polyline points="266.5,1087.23 268.43,1087.71 270.64,1088.27 273.11,1088.89 275.82,1089.57 278.75,1090.3 281.89,1091.09 285.21,1091.92 288.7,1092.8 292.34,1093.71 296.11,1094.66 299.99,1095.63 303.96,1096.63 308.01,1097.65 312.11,1098.68 316.26,1099.72 320.42,1100.77 324.57,1101.82 328.72,1102.86 332.82,1103.9 336.87,1104.92 340.84,1105.92 344.72,1106.9 348.49,1107.86 352.13,1108.78 355.7,1109.69 359.27,1110.61 362.83,1111.52 366.4,1112.44 369.97,1113.37 373.54,1114.3 377.11,1115.22 380.67,1116.15 384.24,1117.08 387.81,1118.01 391.38,1118.94 394.94,1119.87 398.51,1120.8 402.08,1121.73 405.65,1122.65 409.22,1123.57 412.78,1124.48 416.35,1125.39 419.92,1126.3 423.49,1127.2 427.06,1128.1 430.62,1128.98 434.19,1129.86 437.76,1130.73 441.33,1131.6 444.9,1132.45 448.46,1133.3 452.03,1134.13 455.6,1134.96 459.17,1135.79 462.74,1136.61 466.3,1137.42 469.87,1138.23 473.44,1139.04 477.01,1139.84 480.57,1140.64 484.14,1141.45 487.71,1142.25 491.28,1143.05 494.85,1143.86 498.41,1144.66 501.98,1145.47 505.55,1146.29 509.12,1147.11 512.69,1147.93 516.25,1148.77 519.82,1149.61 523.39,1150.45 526.96,1151.3 530.53,1152.15 534.09,1153 537.66,1153.84 541.23,1154.69 544.8,1155.54 548.37,1156.38 551.93,1157.23 555.5,1158.09 559.07,1158.94 562.64,1159.8 566.2,1160.66 569.77,1161.53 573.34,1162.41 576.91,1163.29 580.48,1164.18 584.04,1165.07 587.61,1165.98 591.18,1166.89 594.75,1167.81 598.32,1168.75 601.88,1169.69 605.45,1170.65 609.02,1171.62 612.59,1172.59 616.16,1173.55 619.72,1174.51 623.29,1175.46 626.86,1176.41 630.43,1177.37 634,1178.33 637.56,1179.29 641.13,1180.26 644.7,1181.24 648.27,1182.23 651.84,1183.24 655.4,1184.26 658.97,1185.31 662.54,1186.37 666.11,1187.46 669.67,1188.57 673.24,1189.71 676.81,1190.88 680.38,1192.08 683.95,1193.32 687.51,1194.59 691.08,1195.9 694.65,1197.25 698.22,1198.64 701.79,1200.07 705.35,1201.53 708.92,1203.02 712.49,1204.55 716.06,1206.11 719.63,1207.7 723.19,1209.31 726.76,1210.95 730.33,1212.61 733.9,1214.29 737.46,1216 741.03,1217.72 744.6,1219.46 748.17,1221.22 751.74,1222.99 755.3,1224.77 758.87,1226.57 762.44,1228.37 766.01,1230.18 769.58,1232 773.14,1233.82 776.71,1235.65 780.28,1237.47 783.85,1239.3 787.42,1241.13 790.98,1242.96 794.55,1244.8 798.12,1246.65 801.69,1248.51 805.26,1250.37 808.82,1252.25 812.39,1254.14 815.96,1256.04 819.53,1257.96 823.1,1259.89 826.66,1261.85 830.23,1263.82 833.8,1265.81 837.37,1267.83 840.93,1269.87 844.5,1271.93 848.07,1274.02 851.64,1276.14 855.21,1278.29 858.77,1280.47 862.34,1282.68 865.91,1284.93 869.48,1287.19 873.05,1289.47 876.61,1291.76 880.18,1294.06 883.75,1296.39 887.32,1298.72 890.89,1301.08 894.45,1303.47 898.02,1305.87 901.59,1308.3 905.16,1310.76 908.72,1313.25 912.29,1315.76 915.86,1318.31 919.43,1320.9 923,1323.52 926.56,1326.18 930.13,1328.89 933.7,1331.63 937.27,1334.42 940.84,1337.25 944.4,1340.14 947.97,1343.07 951.54,1346.05 955.11,1349.14 958.68,1352.39 962.24,1355.78 965.81,1359.28 969.38,1362.89 972.95,1366.6 976.52,1370.37 980.08,1374.19 983.65,1378.06 987.22,1381.95 990.79,1385.84 994.36,1389.72 997.92,1393.58 1001.49,1397.39 1005.06,1401.14 1008.63,1404.81 1012.19,1408.39 1015.76,1411.85 1019.33,1415.19 1022.9,1418.38 1026.47,1421.42 1030.03,1424.27 1033.6,1426.94 1037.17,1429.39 1040.81,1431.66 1044.58,1433.8 1048.46,1435.82 1052.43,1437.71 1056.48,1439.48 1060.58,1441.15 1064.73,1442.71 1068.88,1444.17 1073.04,1445.54 1077.19,1446.81 1081.29,1448.01 1085.34,1449.12 1089.31,1450.17 1093.19,1451.14 1096.96,1452.06 1100.6,1452.92 1104.09,1453.73 1107.41,1454.49 1110.55,1455.22 1113.48,1455.91 1116.19,1456.57 1118.66,1457.21 1120.87,1457.83 1122.8,1458.44" fill="none" stroke="#FF7F0E" stroke-width="5" stroke-linejoin="round" stroke-linecap="round" stroke-dasharray="0.1 9.75"/>
<line x1="266.5" y1="1084.23" x2="266.5" y2="1090.23" stroke="#70AD47" stroke-width="4.6" />
<line x1="257.5" y1="1084.23" x2="275.5" y2="1084.23" stroke="#70AD47" stroke-width="4" />
<line x1="257.5" y1="1090.23" x2="275.5" y2="1090.23" stroke="#70AD47" stroke-width="4" />
<line x1="352.13" y1="1096.3" x2="352.13" y2="1099.7" stroke="#70AD47" stroke-width="4.6" />
<line x1="343.13" y1="1096.3" x2="361.13" y2="1096.3" stroke="#70AD47" stroke-width="4" />
<line x1="343.13" y1="1099.7" x2="361.13" y2="1099.7" stroke="#70AD47" stroke-width="4" />
<line x1="437.76" y1="1102.35" x2="437.76" y2="1105.75" stroke="#70AD47" stroke-width="4.6" />
<line x1="428.76" y1="1102.35" x2="446.76" y2="1102.35" stroke="#70AD47" stroke-width="4" />
<line x1="428.76" y1="1105.75" x2="446.76" y2="1105.75" stroke="#70AD47" stroke-width="4" />
<line x1="523.39" y1="1116.81" x2="523.39" y2="1120.21" stroke="#70AD47" stroke-width="4.6" />
<line x1="514.39" y1="1116.81" x2="532.39" y2="1116.81" stroke="#70AD47" stroke-width="4" />
<line x1="514.39" y1="1120.21" x2="532.39" y2="1120.21" stroke="#70AD47" stroke-width="4" />
<line x1="609.02" y1="1120.36" x2="609.02" y2="1123.76" stroke="#70AD47" stroke-width="4.6" />
<line x1="600.02" y1="1120.36" x2="618.02" y2="1120.36" stroke="#70AD47" stroke-width="4" />
<line x1="600.02" y1="1123.76" x2="618.02" y2="1123.76" stroke="#70AD47" stroke-width="4" />
<line x1="694.65" y1="1130.69" x2="694.65" y2="1137.09" stroke="#70AD47" stroke-width="4.6" />
<line x1="685.65" y1="1130.69" x2="703.65" y2="1130.69" stroke="#70AD47" stroke-width="4" />
<line x1="685.65" y1="1137.09" x2="703.65" y2="1137.09" stroke="#70AD47" stroke-width="4" />
<line x1="780.28" y1="1141.26" x2="780.28" y2="1144.66" stroke="#70AD47" stroke-width="4.6" />
<line x1="771.28" y1="1141.26" x2="789.28" y2="1141.26" stroke="#70AD47" stroke-width="4" />
<line x1="771.28" y1="1144.66" x2="789.28" y2="1144.66" stroke="#70AD47" stroke-width="4" />
<line x1="865.91" y1="1158.67" x2="865.91" y2="1171.67" stroke="#70AD47" stroke-width="4.6" />
<line x1="856.91" y1="1158.67" x2="874.91" y2="1158.67" stroke="#70AD47" stroke-width="4" />
<line x1="856.91" y1="1171.67" x2="874.91" y2="1171.67" stroke="#70AD47" stroke-width="4" />
<line x1="951.54" y1="1184.28" x2="951.54" y2="1187.88" stroke="#70AD47" stroke-width="4.6" />
<line x1="942.54" y1="1184.28" x2="960.54" y2="1184.28" stroke="#70AD47" stroke-width="4" />
<line x1="942.54" y1="1187.88" x2="960.54" y2="1187.88" stroke="#70AD47" stroke-width="4" />
<line x1="1037.17" y1="1194.91" x2="1037.17" y2="1200.91" stroke="#70AD47" stroke-width="4.6" />
<line x1="1028.17" y1="1194.91" x2="1046.17" y2="1194.91" stroke="#70AD47" stroke-width="4" />
<line x1="1028.17" y1="1200.91" x2="1046.17" y2="1200.91" stroke="#70AD47" stroke-width="4" />
<line x1="1122.8" y1="1224.27" x2="1122.8" y2="1228.07" stroke="#70AD47" stroke-width="4.6" />
<line x1="1113.8" y1="1224.27" x2="1131.8" y2="1224.27" stroke="#70AD47" stroke-width="4" />
<line x1="1113.8" y1="1228.07" x2="1131.8" y2="1228.07" stroke="#70AD47" stroke-width="4" />
<line x1="266.5" y1="1083.23" x2="266.5" y2="1091.23" stroke="#FF7F0E" stroke-width="4.6" />
<line x1="257.5" y1="1083.23" x2="275.5" y2="1083.23" stroke="#FF7F0E" stroke-width="4" />
<line x1="257.5" y1="1091.23" x2="275.5" y2="1091.23" stroke="#FF7F0E" stroke-width="4" />
<line x1="352.13" y1="1101.78" x2="352.13" y2="1115.78" stroke="#FF7F0E" stroke-width="4.6" />
<line x1="343.13" y1="1101.78" x2="361.13" y2="1101.78" stroke="#FF7F0E" stroke-width="4" />
<line x1="343.13" y1="1115.78" x2="361.13" y2="1115.78" stroke="#FF7F0E" stroke-width="4" />
<line x1="437.76" y1="1125.73" x2="437.76" y2="1135.73" stroke="#FF7F0E" stroke-width="4.6" />
<line x1="428.76" y1="1125.73" x2="446.76" y2="1125.73" stroke="#FF7F0E" stroke-width="4" />
<line x1="428.76" y1="1135.73" x2="446.76" y2="1135.73" stroke="#FF7F0E" stroke-width="4" />
<line x1="523.39" y1="1146.45" x2="523.39" y2="1154.45" stroke="#FF7F0E" stroke-width="4.6" />
<line x1="514.39" y1="1146.45" x2="532.39" y2="1146.45" stroke="#FF7F0E" stroke-width="4" />
<line x1="514.39" y1="1154.45" x2="532.39" y2="1154.45" stroke="#FF7F0E" stroke-width="4" />
<line x1="609.02" y1="1164.62" x2="609.02" y2="1178.62" stroke="#FF7F0E" stroke-width="4.6" />
<line x1="600.02" y1="1164.62" x2="618.02" y2="1164.62" stroke="#FF7F0E" stroke-width="4" />
<line x1="600.02" y1="1178.62" x2="618.02" y2="1178.62" stroke="#FF7F0E" stroke-width="4" />
<line x1="694.65" y1="1192.25" x2="694.65" y2="1202.25" stroke="#FF7F0E" stroke-width="4.6" />
<line x1="685.65" y1="1192.25" x2="703.65" y2="1192.25" stroke="#FF7F0E" stroke-width="4" />
<line x1="685.65" y1="1202.25" x2="703.65" y2="1202.25" stroke="#FF7F0E" stroke-width="4" />
<line x1="780.28" y1="1229.97" x2="780.28" y2="1244.97" stroke="#FF7F0E" stroke-width="4.6" />
<line x1="771.28" y1="1229.97" x2="789.28" y2="1229.97" stroke="#FF7F0E" stroke-width="4" />
<line x1="771.28" y1="1244.97" x2="789.28" y2="1244.97" stroke="#FF7F0E" stroke-width="4" />
<line x1="865.91" y1="1274.93" x2="865.91" y2="1294.93" stroke="#FF7F0E" stroke-width="4.6" />
<line x1="856.91" y1="1274.93" x2="874.91" y2="1274.93" stroke="#FF7F0E" stroke-width="4" />
<line x1="856.91" y1="1294.93" x2="874.91" y2="1294.93" stroke="#FF7F0E" stroke-width="4" />
<line x1="951.54" y1="1334.35" x2="951.54" y2="1357.75" stroke="#FF7F0E" stroke-width="4.6" />
<line x1="942.54" y1="1334.35" x2="960.54" y2="1334.35" stroke="#FF7F0E" stroke-width="4" />
<line x1="942.54" y1="1357.75" x2="960.54" y2="1357.75" stroke="#FF7F0E" stroke-width="4" />
<line x1="1037.17" y1="1419.39" x2="1037.17" y2="1439.39" stroke="#FF7F0E" stroke-width="4.6" />
<line x1="1028.17" y1="1419.39" x2="1046.17" y2="1419.39" stroke="#FF7F0E" stroke-width="4" />
<line x1="1028.17" y1="1439.39" x2="1046.17" y2="1439.39" stroke="#FF7F0E" stroke-width="4" />
<line x1="1122.8" y1="1448.94" x2="1122.8" y2="1467.94" stroke="#FF7F0E" stroke-width="4.6" />
<line x1="1113.8" y1="1448.94" x2="1131.8" y2="1448.94" stroke="#FF7F0E" stroke-width="4" />
<line x1="1113.8" y1="1467.94" x2="1131.8" y2="1467.94" stroke="#FF7F0E" stroke-width="4" />
</g>
<line x1="579.7" y1="1225.5" x2="579.7" y2="1282.7" stroke="#800000" stroke-width="4.6" />
<path d="M570.2 1271.7 L589.2 1271.7 L579.7 1302.7 Z" fill="#800000"/>
<line x1="588.5" y1="1484" x2="588.5" y2="1541" stroke="#7F00FF" stroke-width="4.6" />
<path d="M579 1530 L598 1530 L588.5 1561 Z" fill="#7F00FF"/>
<text x="408" y="1339.7" font-size="48" text-anchor="start" fill="#800000" textLength="428" lengthAdjust="spacing" >90% of original PCE</text>
<text x="408" y="1606.8" font-size="48" text-anchor="start" fill="#7F00FF" textLength="428" lengthAdjust="spacing" >70% of original PCE</text>
<line x1="933" y1="1053.8" x2="1014.3" y2="1053.8" stroke="#FF7F0E" stroke-width="5" stroke-linecap="round" stroke-dasharray="0.1 9.0"/>
<ellipse cx="935.3" cy="1100.9" rx="3.6" ry="2.8" fill="#70AD47"/>
<ellipse cx="964.5" cy="1100.9" rx="3.6" ry="2.8" fill="#70AD47"/>
<ellipse cx="994.5" cy="1100.9" rx="3.6" ry="2.8" fill="#70AD47"/>
<text x="1026" y="1065.7" font-size="37.5" text-anchor="start" fill="#000" textLength="126.5" lengthAdjust="spacing" >Pristine</text>
<text x="1026" y="1112.4" font-size="37.5" text-anchor="start" fill="#000" textLength="80" lengthAdjust="spacing" >PSM</text>
<rect x="266.5" y="1021.5" width="898.7" height="723" fill="none" stroke="#000" stroke-width="5"/>
<line x1="266.5" y1="1744.5" x2="266.5" y2="1758.5" stroke="#000" stroke-width="5" />
<line x1="437.76" y1="1744.5" x2="437.76" y2="1758.5" stroke="#000" stroke-width="5" />
<line x1="609.02" y1="1744.5" x2="609.02" y2="1758.5" stroke="#000" stroke-width="5" />
<line x1="780.28" y1="1744.5" x2="780.28" y2="1758.5" stroke="#000" stroke-width="5" />
<line x1="951.54" y1="1744.5" x2="951.54" y2="1758.5" stroke="#000" stroke-width="5" />
<line x1="1122.8" y1="1744.5" x2="1122.8" y2="1758.5" stroke="#000" stroke-width="5" />
<line x1="352.13" y1="1744.5" x2="352.13" y2="1752" stroke="#000" stroke-width="4.5" />
<line x1="523.39" y1="1744.5" x2="523.39" y2="1752" stroke="#000" stroke-width="4.5" />
<line x1="694.65" y1="1744.5" x2="694.65" y2="1752" stroke="#000" stroke-width="4.5" />
<line x1="865.91" y1="1744.5" x2="865.91" y2="1752" stroke="#000" stroke-width="4.5" />
<line x1="1037.17" y1="1744.5" x2="1037.17" y2="1752" stroke="#000" stroke-width="4.5" />
<text x="241" y="1100.73" font-size="47" text-anchor="end" fill="#000" >1.0</text>
<text x="241" y="1363.62" font-size="47" text-anchor="end" fill="#000" >0.8</text>
<text x="241" y="1626.53" font-size="47" text-anchor="end" fill="#000" >0.6</text>
<text x="266.5" y="1811.5" font-size="47" text-anchor="middle" fill="#000" >0</text>
<text x="437.76" y="1811.5" font-size="47" text-anchor="middle" fill="#000" >200</text>
<text x="609.02" y="1811.5" font-size="47" text-anchor="middle" fill="#000" >400</text>
<text x="780.28" y="1811.5" font-size="47" text-anchor="middle" fill="#000" >600</text>
<text x="951.54" y="1811.5" font-size="47" text-anchor="middle" fill="#000" >800</text>
<text x="1120.8" y="1811.5" font-size="47" text-anchor="middle" fill="#000" >1000</text>
<text x="703.4" y="1874.5" font-size="61.5" text-anchor="middle" fill="#000" textLength="227" lengthAdjust="spacing" >Time (h)</text>
<text transform="translate(161.7 1383.6) rotate(-90) scale(1.0 1.08)" font-size="60" text-anchor="middle" fill="#000" textLength="445" lengthAdjust="spacing">Normalized PCE</text>
</g>
<g id="pe">
<text transform="translate(1218 1031) scale(1.06 1)" font-size="134" font-family="'Liberation Sans',sans-serif" font-weight="normal">e</text>
<clipPath id="clipe"><rect x="1322.6" y="1013.1" width="1039.0" height="749.9999999999999"/></clipPath><g clip-path="url(#clipe)">
<polyline points="1322.6,1194.34 1323.18,1193.19 1323.76,1193.04 1324.33,1191.82 1324.91,1193.24 1325.49,1193.04 1326.07,1192.89 1326.64,1193.32 1327.22,1193.35 1327.8,1192.5 1328.38,1192.57 1328.95,1192.76 1329.53,1193.38 1330.11,1193.28 1330.69,1192.22 1331.26,1192.29 1331.84,1193.29 1332.42,1193.72 1333,1192.81 1333.57,1192.42 1334.15,1193.37 1334.73,1192.58 1335.31,1193.12 1335.88,1193.55 1336.46,1193.02 1337.04,1192.69 1337.62,1193.03 1338.19,1192.25 1338.77,1192.48 1339.35,1192.24 1339.93,1192.43 1340.5,1192.25 1341.08,1192.4 1341.66,1192.27 1342.24,1192.51 1342.81,1192.48 1343.39,1192.59 1343.97,1193.18 1344.55,1191.54 1345.12,1193.09 1345.7,1192.23 1346.28,1191.67 1346.86,1192.24 1347.43,1192.38 1348.01,1192.9 1348.59,1191.72 1349.17,1192.41 1349.74,1192.35 1350.32,1191.35 1350.9,1191.62 1351.48,1192.59 1352.05,1192.64 1352.63,1192.85 1353.21,1192.54 1353.79,1192.46 1354.36,1192.31 1354.94,1192.9 1355.52,1191.77 1356.1,1192.15 1356.68,1192.44 1357.25,1191.37 1357.83,1192.96 1358.41,1191.8 1358.99,1192.2 1359.56,1193.43 1360.14,1191.79 1360.72,1191.96 1361.3,1193.12 1361.87,1191.67 1362.45,1192.04 1363.03,1192.57 1363.61,1192.54 1364.18,1192.63 1364.76,1192.52 1365.34,1193.07 1365.92,1192.9 1366.49,1192.68 1367.07,1191.99 1367.65,1191.99 1368.23,1191.35 1368.8,1192.79 1369.38,1191.43 1369.96,1192.93 1370.54,1193.48 1371.11,1191.9 1371.69,1192.13 1372.27,1192.26 1372.85,1193 1373.42,1192.09 1374,1192.52 1374.58,1192.33 1375.16,1192.5 1375.73,1193.37 1376.31,1192.16 1376.89,1192.76 1377.47,1192.89 1378.04,1193.24 1378.62,1192.1 1379.2,1193.44 1379.78,1193.09 1380.35,1193.37 1380.93,1192.95 1381.51,1192.04 1382.09,1192.62 1382.66,1193.46 1383.24,1193.06 1383.82,1193.05 1384.4,1194.09 1384.97,1194.35 1385.55,1193.16 1386.13,1194.27 1386.71,1192.15 1387.28,1192.16 1387.86,1193.8 1388.44,1193.21 1389.02,1193.71 1389.59,1193.71 1390.17,1193.42 1390.75,1193.88 1391.33,1193.63 1391.91,1192.74 1392.48,1193.74 1393.06,1193.76 1393.64,1194.71 1394.22,1193.12 1394.79,1193.79 1395.37,1193.59 1395.95,1193.79 1396.53,1194.82 1397.1,1194.15 1397.68,1193.73 1398.26,1194.11 1398.84,1194.49 1399.41,1193.56 1399.99,1194.01 1400.57,1195.04 1401.15,1194.71 1401.72,1194.26 1402.3,1194.06 1402.88,1194.28 1403.46,1193.56 1404.03,1194.97 1404.61,1194.68 1405.19,1194.61 1405.77,1193.87 1406.34,1194.23 1406.92,1194.95 1407.5,1194.85 1408.08,1194.48 1408.65,1195.07 1409.23,1195.35 1409.81,1194.51 1410.39,1194.63 1410.96,1194.49 1411.54,1194.37 1412.12,1195.49 1412.7,1195.37 1413.27,1195.32 1413.85,1194.53 1414.43,1194.64 1415.01,1195.22 1415.58,1195.07 1416.16,1195.41 1416.74,1195 1417.32,1195.78 1417.89,1196.45 1418.47,1196.36 1419.05,1196.43 1419.63,1195.62 1420.2,1196.13 1420.78,1195.46 1421.36,1196.21 1421.94,1195.54 1422.51,1195.51 1423.09,1195.47 1423.67,1196.24 1424.25,1196.05 1424.83,1196.04 1425.4,1195.35 1425.98,1196.09 1426.56,1195.25 1427.14,1196.9 1427.71,1196.05 1428.29,1196.26 1428.87,1196.13 1429.45,1195.36 1430.02,1195.51 1430.6,1196.28 1431.18,1197.15 1431.76,1195.75 1432.33,1196.01 1432.91,1196.41 1433.49,1195.54 1434.07,1195.56 1434.64,1196.3 1435.22,1196.54 1435.8,1196.38 1436.38,1197.47 1436.95,1196.56 1437.53,1196.88 1438.11,1197.59 1438.69,1197.68 1439.26,1195.9 1439.84,1196.6 1440.42,1197.47 1441,1196.1 1441.57,1196.38 1442.15,1196.2 1442.73,1196.19 1443.31,1196.35 1443.88,1197.09 1444.46,1197.72 1445.04,1197.89 1445.62,1197.08 1446.19,1196.01 1446.77,1197.09 1447.35,1196.96 1447.93,1197.36 1448.5,1197.12 1449.08,1196.23 1449.66,1197.47 1450.24,1196.12 1450.81,1196.9 1451.39,1197.48 1451.97,1197.52 1452.55,1198.21 1453.12,1196.07 1453.7,1197.58 1454.28,1197.79 1454.86,1197.25 1455.43,1197.8 1456.01,1196.86 1456.59,1197.85 1457.17,1197.8 1457.75,1196.98 1458.32,1197.17 1458.9,1197.45 1459.48,1197.21 1460.06,1198.17 1460.63,1197.7 1461.21,1198.35 1461.79,1198.29 1462.37,1197.69 1462.94,1197.56 1463.52,1197.16 1464.1,1197.26 1464.68,1197.27 1465.25,1197.92 1465.83,1197.26 1466.41,1197.8 1466.99,1197.87 1467.56,1197.51 1468.14,1197.69 1468.72,1198.6 1469.3,1198.71 1469.87,1197.4 1470.45,1197.74 1471.03,1197.65 1471.61,1197.71 1472.18,1198.72 1472.76,1198.26 1473.34,1198.59 1473.92,1198.88 1474.49,1197.68 1475.07,1197.82 1475.65,1197.96 1476.23,1198.51 1476.8,1197.91 1477.38,1198.32 1477.96,1198.62 1478.54,1198.62 1479.11,1198.24 1479.69,1197.56 1480.27,1197.15 1480.85,1198.63 1481.42,1198.27 1482,1197.51 1482.58,1197.76 1483.16,1197.8 1483.73,1197.13 1484.31,1198.2 1484.89,1197.63 1485.47,1197.91 1486.04,1198.48 1486.62,1198.03 1487.2,1198.39 1487.78,1198.33 1488.35,1198.12 1488.93,1198.13 1489.51,1199.13 1490.09,1198.02 1490.67,1199.02 1491.24,1197.62 1491.82,1198.53 1492.4,1198.23 1492.98,1197.74 1493.55,1196.69 1494.13,1199.03 1494.71,1197.52 1495.29,1197.63 1495.86,1198.23 1496.44,1198.2 1497.02,1198.32 1497.6,1198.03 1498.17,1197.35 1498.75,1198.65 1499.33,1197.68 1499.91,1198.31 1500.48,1198.5 1501.06,1198.84 1501.64,1198.07 1502.22,1198.03 1502.79,1198.07 1503.37,1197.18 1503.95,1197.79 1504.53,1197.65 1505.1,1197.57 1505.68,1198.3 1506.26,1198.04 1506.84,1199.09 1507.41,1199.03 1507.99,1197.18 1508.57,1198.29 1509.15,1197.67 1509.72,1198.53 1510.3,1198.31 1510.88,1198.74 1511.46,1198.4 1512.03,1198.64 1512.61,1198.06 1513.19,1196.85 1513.77,1197.58 1514.34,1197.76 1514.92,1197.96 1515.5,1197.67 1516.08,1199.13 1516.65,1198.14 1517.23,1198.94 1517.81,1198.04 1518.39,1199.14 1518.96,1197.57 1519.54,1198.56 1520.12,1197.5 1520.7,1198.47 1521.27,1199.1 1521.85,1197.33 1522.43,1197.75 1523.01,1198.36 1523.58,1198.12 1524.16,1197.47 1524.74,1198.86 1525.32,1198.25 1525.9,1198.93 1526.47,1198.39 1527.05,1197.58 1527.63,1197.95 1528.21,1198.97 1528.78,1197.44 1529.36,1197.95 1529.94,1198.53 1530.52,1198.75 1531.09,1198.65 1531.67,1197.38 1532.25,1199.33 1532.83,1198.09 1533.4,1198.18 1533.98,1198.17 1534.56,1198.04 1535.14,1197.63 1535.71,1197.97 1536.29,1198.87 1536.87,1197.39 1537.45,1196.79 1538.02,1198.42 1538.6,1198.3 1539.18,1198.51 1539.76,1199.05 1540.33,1197.69 1540.91,1198.17 1541.49,1198.34 1542.07,1198.73 1542.64,1198.6 1543.22,1197.56 1543.8,1197.25 1544.38,1197.84 1544.95,1197.08 1545.53,1198.56 1546.11,1197.71 1546.69,1197.71 1547.26,1197.39 1547.84,1198.69 1548.42,1197.98 1549,1197.57 1549.57,1198.1 1550.15,1197.67 1550.73,1198.01 1551.31,1198.36 1551.88,1197.44 1552.46,1197.81 1553.04,1197.73 1553.62,1198.02 1554.19,1197.65 1554.77,1197.25 1555.35,1196.79 1555.93,1197.19 1556.5,1196.33 1557.08,1197.13 1557.66,1196.64 1558.24,1196.73 1558.82,1195.92 1559.39,1195.52 1559.97,1195.16 1560.55,1195.92 1561.13,1194.76 1561.7,1194.23 1562.28,1192.68 1562.86,1192.68 1563.44,1189.37 1564.01,1189.67 1564.59,1184.78 1565.17,1178.21 1565.75,1166.63 1566.32,1150.77 1566.9,1129.95 1567.48,1103.07 1568.06,1075.48 1568.63,1052.14 1569.21,1039.4 1569.79,1042.02 1570.37,1061.24 1570.94,1087.78 1571.52,1115.68 1572.1,1139.51 1572.68,1158.59 1573.25,1172.73 1573.83,1181.49 1574.41,1187.38 1574.99,1190.03 1575.56,1192.84 1576.14,1192.23 1576.72,1193.28 1577.3,1194.78 1577.87,1194.97 1578.45,1194.97 1579.03,1196.26 1579.61,1196.71 1580.18,1197.07 1580.76,1196.33 1581.34,1196.72 1581.92,1197 1582.49,1197.04 1583.07,1197.69 1583.65,1196.96 1584.23,1197.53 1584.8,1196.19 1585.38,1197.89 1585.96,1198.45 1586.54,1197.59 1587.11,1198.23 1587.69,1196.8 1588.27,1197.57 1588.85,1196.95 1589.42,1198.01 1590,1198.16 1590.58,1197.15 1591.16,1197.47 1591.74,1197.64 1592.31,1199.32 1592.89,1197.97 1593.47,1198.1 1594.05,1198.25 1594.62,1198.24 1595.2,1197.96 1595.78,1197.38 1596.36,1197.75 1596.93,1199.04 1597.51,1198.3 1598.09,1197.96 1598.67,1197.44 1599.24,1198.16 1599.82,1198.22 1600.4,1197.86 1600.98,1198.72 1601.55,1197.91 1602.13,1198.15 1602.71,1198.72 1603.29,1198.39 1603.86,1198.89 1604.44,1198.15 1605.02,1198.05 1605.6,1198.55 1606.17,1198.42 1606.75,1198.96 1607.33,1198.54 1607.91,1198.3 1608.48,1198.57 1609.06,1198.69 1609.64,1197.72 1610.22,1198.26 1610.79,1198.16 1611.37,1199.01 1611.95,1198.09 1612.53,1198.94 1613.1,1197.67 1613.68,1198.34 1614.26,1198.96 1614.84,1198.23 1615.41,1199.01 1615.99,1197.27 1616.57,1198.4 1617.15,1198.48 1617.72,1198.32 1618.3,1197.56 1618.88,1198.76 1619.46,1197.12 1620.03,1198.93 1620.61,1198.57 1621.19,1198.95 1621.77,1198.27 1622.34,1197.8 1622.92,1198.13 1623.5,1198.16 1624.08,1198.75 1624.66,1198.25 1625.23,1198.65 1625.81,1198.69 1626.39,1199.21 1626.97,1197.34 1627.54,1198.21 1628.12,1198.82 1628.7,1198.82 1629.28,1198.14 1629.85,1198.3 1630.43,1198.4 1631.01,1198.52 1631.59,1198.14 1632.16,1198.1 1632.74,1197.84 1633.32,1198.25 1633.9,1199.22 1634.47,1197.94 1635.05,1199 1635.63,1199.53 1636.21,1198.58 1636.78,1199.77 1637.36,1198.4 1637.94,1199.39 1638.52,1198.45 1639.09,1197.82 1639.67,1198.67 1640.25,1199.52 1640.83,1198.16 1641.4,1198.75 1641.98,1197.94 1642.56,1198.01 1643.14,1198.75 1643.71,1198.4 1644.29,1198.81 1644.87,1199.2 1645.45,1197.85 1646.02,1198.13 1646.6,1198.53 1647.18,1199.78 1647.76,1198.33 1648.33,1198.24 1648.91,1198.75 1649.49,1199.67 1650.07,1198.2 1650.64,1198.35 1651.22,1198.54 1651.8,1198.94 1652.38,1199.72 1652.95,1197.84 1653.53,1197.61 1654.11,1198.62 1654.69,1198.83 1655.26,1197.31 1655.84,1198.2 1656.42,1199.06 1657,1198.25 1657.57,1198.81 1658.15,1198.64 1658.73,1198.9 1659.31,1198.78 1659.89,1198.69 1660.46,1199.23 1661.04,1198.24 1661.62,1198.62 1662.2,1199.17 1662.77,1198.24 1663.35,1198.35 1663.93,1198.14 1664.51,1198.04 1665.08,1199.67 1665.66,1198.82 1666.24,1199.59 1666.82,1198.96 1667.39,1198.6 1667.97,1198.4 1668.55,1198.7 1669.13,1198.54 1669.7,1199.06 1670.28,1198.08 1670.86,1198.65 1671.44,1198.81 1672.01,1198.43 1672.59,1198.43 1673.17,1198.86 1673.75,1198.87 1674.32,1198.5 1674.9,1198.55 1675.48,1198.25 1676.06,1198.86 1676.63,1198.49 1677.21,1197.7 1677.79,1198.38 1678.37,1198.89 1678.94,1198.71 1679.52,1198.06 1680.1,1198.95 1680.68,1198.88 1681.25,1198.88 1681.83,1199.38 1682.41,1198.36 1682.99,1198.87 1683.56,1198.4 1684.14,1199.08 1684.72,1199.17 1685.3,1198.8 1685.87,1198.94 1686.45,1198.08 1687.03,1198.87 1687.61,1197.87 1688.18,1199.71 1688.76,1199.15 1689.34,1197.67 1689.92,1197.05 1690.49,1199.22 1691.07,1198.03 1691.65,1198.8 1692.23,1197.78 1692.81,1198.53 1693.38,1198.13 1693.96,1198.81 1694.54,1198.29 1695.12,1199.29 1695.69,1198.05 1696.27,1199.17 1696.85,1198.45 1697.43,1198.74 1698,1197.58 1698.58,1197.48 1699.16,1199.02 1699.74,1197.76 1700.31,1198.24 1700.89,1198.24 1701.47,1197.92 1702.05,1198.52 1702.62,1197.62 1703.2,1197.73 1703.78,1198.89 1704.36,1197.93 1704.93,1198.76 1705.51,1198.71 1706.09,1199.16 1706.67,1198.56 1707.24,1197.29 1707.82,1197.92 1708.4,1198.03 1708.98,1198.91 1709.55,1198.4 1710.13,1197.91 1710.71,1198.38 1711.29,1197.91 1711.86,1198.37 1712.44,1198.1 1713.02,1198.57 1713.6,1198.07 1714.17,1198.35 1714.75,1197.69 1715.33,1197.95 1715.91,1197.29 1716.48,1197.48 1717.06,1196.91 1717.64,1196.26 1718.22,1195.49 1718.79,1194.77 1719.37,1194.17 1719.95,1191.42 1720.53,1191.93 1721.1,1188.36 1721.68,1187.92 1722.26,1186.31 1722.84,1185.68 1723.41,1184.75 1723.99,1184.66 1724.57,1185.5 1725.15,1187.26 1725.73,1189.59 1726.3,1190.15 1726.88,1190.37 1727.46,1192.68 1728.04,1194.33 1728.61,1196.89 1729.19,1195.41 1729.77,1196.22 1730.35,1197.16 1730.92,1197.36 1731.5,1196.69 1732.08,1198.11 1732.66,1197 1733.23,1197.67 1733.81,1198.63 1734.39,1197.24 1734.97,1197.83 1735.54,1198.99 1736.12,1197.97 1736.7,1197.57 1737.28,1197.86 1737.85,1198.67 1738.43,1197.37 1739.01,1197.91 1739.59,1197.47 1740.16,1197.66 1740.74,1199.02 1741.32,1198.28 1741.9,1198.1 1742.47,1198.58 1743.05,1197.97 1743.63,1197.71 1744.21,1199.01 1744.78,1198.87 1745.36,1197.93 1745.94,1198.79 1746.52,1199.21 1747.09,1198.68 1747.67,1198.69 1748.25,1197.74 1748.83,1198.35 1749.4,1197.4 1749.98,1199.05 1750.56,1198.34 1751.14,1199.17 1751.71,1198.02 1752.29,1198.93 1752.87,1197.57 1753.45,1198.22 1754.02,1198.75 1754.6,1198.65 1755.18,1198.42 1755.76,1197.54 1756.33,1199.18 1756.91,1198.82 1757.49,1199.08 1758.07,1199.07 1758.65,1198.24 1759.22,1198.67 1759.8,1199.91 1760.38,1197.98 1760.96,1198.67 1761.53,1198.13 1762.11,1199.41 1762.69,1198.53 1763.27,1197.85 1763.84,1198.09 1764.42,1197.64 1765,1197.15 1765.58,1196.91 1766.15,1198 1766.73,1197.77 1767.31,1198.47 1767.89,1197.92 1768.46,1198.5 1769.04,1199.35 1769.62,1197.7 1770.2,1197.67 1770.77,1198.87 1771.35,1199.62 1771.93,1197.81 1772.51,1197.34 1773.08,1198.09 1773.66,1198.01 1774.24,1198.6 1774.82,1197.58 1775.39,1197.99 1775.97,1197.92 1776.55,1197.17 1777.13,1197.12 1777.7,1198.17 1778.28,1198.14 1778.86,1197.28 1779.44,1198.45 1780.01,1197.9 1780.59,1197.36 1781.17,1197.07 1781.75,1196.43 1782.32,1195.98 1782.9,1195.23 1783.48,1193.77 1784.06,1191.39 1784.63,1191.11 1785.21,1189.33 1785.79,1187.78 1786.37,1187.67 1786.94,1185.68 1787.52,1187.07 1788.1,1186.8 1788.68,1187.5 1789.25,1189.02 1789.83,1192.21 1790.41,1193.09 1790.99,1193.34 1791.56,1195.15 1792.14,1196.42 1792.72,1195.62 1793.3,1196.48 1793.88,1197.55 1794.45,1197.55 1795.03,1197.33 1795.61,1198.61 1796.19,1198.1 1796.76,1198.35 1797.34,1199.32 1797.92,1198.31 1798.5,1199.57 1799.07,1198.3 1799.65,1198.07 1800.23,1198.26 1800.81,1198.71 1801.38,1198.61 1801.96,1198.47 1802.54,1197.45 1803.12,1197.69 1803.69,1198.17 1804.27,1198.74 1804.85,1199.15 1805.43,1197 1806,1198.28 1806.58,1198.11 1807.16,1198.31 1807.74,1198.5 1808.31,1197.91 1808.89,1197.65 1809.47,1198.97 1810.05,1198.82 1810.62,1198.17 1811.2,1198.34 1811.78,1198.02 1812.36,1197.62 1812.93,1198.78 1813.51,1198.04 1814.09,1197.79 1814.67,1198.08 1815.24,1199.34 1815.82,1198.66 1816.4,1198.55 1816.98,1198.46 1817.55,1198.9 1818.13,1198.82 1818.71,1197.67 1819.29,1198.27 1819.86,1198.03 1820.44,1198.51 1821.02,1198.35 1821.6,1197.26 1822.17,1199.02 1822.75,1198.52 1823.33,1197.38 1823.91,1198.99 1824.48,1198.41 1825.06,1198.59 1825.64,1198.33 1826.22,1198.39 1826.8,1198 1827.37,1197.33 1827.95,1197.89 1828.53,1198.31 1829.11,1198.2 1829.68,1198.51 1830.26,1198.05 1830.84,1196.8 1831.42,1198.41 1831.99,1197.46 1832.57,1197.05 1833.15,1197.48 1833.73,1196.69 1834.3,1197.39 1834.88,1196.31 1835.46,1197.45 1836.04,1195.64 1836.61,1194.75 1837.19,1193.87 1837.77,1192.12 1838.35,1191.9 1838.92,1191.09 1839.5,1190.66 1840.08,1189.25 1840.66,1190.57 1841.23,1191.73 1841.81,1191.52 1842.39,1192.63 1842.97,1193.83 1843.54,1194.03 1844.12,1195.03 1844.7,1196.48 1845.28,1196.6 1845.85,1196.23 1846.43,1196.25 1847.01,1198.77 1847.59,1197.92 1848.16,1196.91 1848.74,1197.98 1849.32,1198.35 1849.9,1198.09 1850.47,1197.02 1851.05,1199.12 1851.63,1198.47 1852.21,1198.04 1852.78,1198.56 1853.36,1198.06 1853.94,1198.02 1854.52,1198.71 1855.09,1197.12 1855.67,1198.79 1856.25,1198.46 1856.83,1198.67 1857.4,1198.76 1857.98,1199.12 1858.56,1199.06 1859.14,1198.75 1859.72,1198.03 1860.29,1198.63 1860.87,1197.97 1861.45,1197.7 1862.03,1198.48 1862.6,1198.42 1863.18,1198.88 1863.76,1197 1864.34,1198.52 1864.91,1198.55 1865.49,1198.22 1866.07,1198.97 1866.65,1197.63 1867.22,1198.28 1867.8,1197.86 1868.38,1198.03 1868.96,1197.46 1869.53,1197.89 1870.11,1198.3 1870.69,1197.95 1871.27,1198.02 1871.84,1197.33 1872.42,1198.58 1873,1197.22 1873.58,1197.53 1874.15,1197.73 1874.73,1197.16 1875.31,1197.51 1875.89,1196.96 1876.46,1197.5 1877.04,1196.44 1877.62,1195.78 1878.2,1194.34 1878.77,1194.03 1879.35,1192.99 1879.93,1190.99 1880.51,1188.19 1881.08,1186.04 1881.66,1183.6 1882.24,1181.05 1882.82,1177.76 1883.39,1177.62 1883.97,1175.5 1884.55,1175.79 1885.13,1176.79 1885.7,1179.15 1886.28,1182.83 1886.86,1183.92 1887.44,1186.71 1888.01,1188.7 1888.59,1190.91 1889.17,1193.64 1889.75,1193.67 1890.32,1194.71 1890.9,1194.66 1891.48,1195.98 1892.06,1196.68 1892.64,1196.56 1893.21,1196.82 1893.79,1197.64 1894.37,1197.62 1894.95,1197.37 1895.52,1197.08 1896.1,1196.75 1896.68,1198.58 1897.26,1196.84 1897.83,1198.1 1898.41,1197.67 1898.99,1197.41 1899.57,1198.33 1900.14,1197.46 1900.72,1198.59 1901.3,1197.34 1901.88,1198.2 1902.45,1198.64 1903.03,1197.41 1903.61,1199.11 1904.19,1198.43 1904.76,1196.73 1905.34,1198.73 1905.92,1199.01 1906.5,1197.81 1907.07,1197.84 1907.65,1198.15 1908.23,1196.88 1908.81,1198.01 1909.38,1198.42 1909.96,1197.59 1910.54,1198.49 1911.12,1199.08 1911.69,1196.75 1912.27,1196.81 1912.85,1197.39 1913.43,1198.1 1914,1197.93 1914.58,1197.17 1915.16,1197.01 1915.74,1197.19 1916.31,1198.48 1916.89,1196.96 1917.47,1197.1 1918.05,1197.87 1918.62,1197.11 1919.2,1196.61 1919.78,1197.84 1920.36,1197.09 1920.93,1196.34 1921.51,1196.29 1922.09,1196.73 1922.67,1195.65 1923.24,1195.53 1923.82,1195.3 1924.4,1194.64 1924.98,1192.2 1925.55,1191.91 1926.13,1190.79 1926.71,1189.68 1927.29,1188.58 1927.87,1187.27 1928.44,1184.88 1929.02,1183.19 1929.6,1182.88 1930.18,1181.86 1930.75,1183.09 1931.33,1182.81 1931.91,1183.53 1932.49,1185.21 1933.06,1185.59 1933.64,1187.06 1934.22,1188.36 1934.8,1189.88 1935.37,1191.13 1935.95,1191.53 1936.53,1192 1937.11,1191.72 1937.68,1192.1 1938.26,1191.58 1938.84,1191.86 1939.42,1190 1939.99,1188.9 1940.57,1186.9 1941.15,1183.93 1941.73,1178.35 1942.3,1171.96 1942.88,1162.65 1943.46,1150.8 1944.04,1137.99 1944.61,1121.29 1945.19,1102.5 1945.77,1085.14 1946.35,1070.37 1946.92,1058.54 1947.5,1053.74 1948.08,1058.13 1948.66,1067.26 1949.23,1082.31 1949.81,1100.3 1950.39,1117.47 1950.97,1134.64 1951.54,1149.4 1952.12,1161.87 1952.7,1170.61 1953.28,1178.79 1953.85,1183.58 1954.43,1188.03 1955.01,1189.67 1955.59,1190.98 1956.16,1192.19 1956.74,1192.72 1957.32,1193.98 1957.9,1194.46 1958.47,1195.39 1959.05,1195.29 1959.63,1195.07 1960.21,1196.36 1960.79,1195.78 1961.36,1196.37 1961.94,1197.2 1962.52,1197.26 1963.1,1196.29 1963.67,1196.76 1964.25,1197.68 1964.83,1197.59 1965.41,1197.44 1965.98,1197.72 1966.56,1196.11 1967.14,1197.21 1967.72,1196.65 1968.29,1197.15 1968.87,1197.35 1969.45,1197.87 1970.03,1198.3 1970.6,1198.13 1971.18,1197.89 1971.76,1197.58 1972.34,1198.52 1972.91,1197.99 1973.49,1196.9 1974.07,1197.87 1974.65,1198.21 1975.22,1197.42 1975.8,1198.1 1976.38,1198.84 1976.96,1197.88 1977.53,1198.01 1978.11,1198.03 1978.69,1197.53 1979.27,1197.83 1979.84,1197.55 1980.42,1197.96 1981,1197.68 1981.58,1198.68 1982.15,1198.09 1982.73,1198.64 1983.31,1197.48 1983.89,1198.18 1984.46,1198.52 1985.04,1198.59 1985.62,1197.87 1986.2,1198.17 1986.77,1198.29 1987.35,1198.05 1987.93,1198.02 1988.51,1198.55 1989.08,1197.6 1989.66,1197.26 1990.24,1198 1990.82,1198.44 1991.39,1197.02 1991.97,1199.04 1992.55,1198.35 1993.13,1198.62 1993.71,1197.84 1994.28,1198.28 1994.86,1199.32 1995.44,1199.34 1996.02,1198.66 1996.59,1198.16 1997.17,1198.25 1997.75,1199.05 1998.33,1197.92 1998.9,1197.79 1999.48,1198.23 2000.06,1198.81 2000.64,1197.7 2001.21,1198.49 2001.79,1198.49 2002.37,1198.35 2002.95,1198.18 2003.52,1198.76 2004.1,1198.55 2004.68,1197.39 2005.26,1199.07 2005.83,1198.39 2006.41,1198.25 2006.99,1197.8 2007.57,1197.74 2008.14,1196.36 2008.72,1197.46 2009.3,1197.69 2009.88,1197.44 2010.45,1196.4 2011.03,1195.12 2011.61,1195.45 2012.19,1195.58 2012.76,1196.21 2013.34,1194.47 2013.92,1195.4 2014.5,1195.89 2015.07,1196.18 2015.65,1196.12 2016.23,1194.97 2016.81,1197.18 2017.38,1197.2 2017.96,1197.67 2018.54,1197.04 2019.12,1197.46 2019.69,1198.67 2020.27,1197.86 2020.85,1197.96 2021.43,1197.6 2022,1198.72 2022.58,1197.11 2023.16,1197.74 2023.74,1198.26 2024.31,1197.98 2024.89,1198.47 2025.47,1198.18 2026.05,1198.7 2026.63,1197.72 2027.2,1197.7 2027.78,1197.83 2028.36,1196.55 2028.94,1198.14 2029.51,1196.59 2030.09,1197.38 2030.67,1197.08 2031.25,1196.23 2031.82,1195 2032.4,1193.58 2032.98,1191.63 2033.56,1191.9 2034.13,1190.17 2034.71,1190.04 2035.29,1187.96 2035.87,1187.93 2036.44,1187.38 2037.02,1188.42 2037.6,1188.99 2038.18,1190.31 2038.75,1190.65 2039.33,1192.53 2039.91,1193.95 2040.49,1195.69 2041.06,1195.91 2041.64,1195.68 2042.22,1197.72 2042.8,1197.38 2043.37,1198.06 2043.95,1197.12 2044.53,1195.93 2045.11,1197.44 2045.68,1197.37 2046.26,1198.16 2046.84,1197.2 2047.42,1197.6 2047.99,1197.37 2048.57,1198.25 2049.15,1197.68 2049.73,1198.99 2050.3,1198.68 2050.88,1198.73 2051.46,1198.16 2052.04,1198.42 2052.61,1198.78 2053.19,1197.84 2053.77,1199.01 2054.35,1198.28 2054.92,1199.03 2055.5,1199.59 2056.08,1199.21 2056.66,1197.73 2057.23,1199.01 2057.81,1198.15 2058.39,1198.08 2058.97,1198.18 2059.54,1197.64 2060.12,1198.42 2060.7,1197.87 2061.28,1198.87 2061.86,1198.4 2062.43,1196.73 2063.01,1197.6 2063.59,1197.51 2064.17,1197.61 2064.74,1197.52 2065.32,1197.85 2065.9,1197.45 2066.48,1196.65 2067.05,1197.15 2067.63,1196.96 2068.21,1195.9 2068.79,1195.9 2069.36,1194.75 2069.94,1193.44 2070.52,1192.81 2071.1,1192.45 2071.67,1192.41 2072.25,1192.2 2072.83,1192.97 2073.41,1193.64 2073.98,1193.16 2074.56,1193.84 2075.14,1195.16 2075.72,1196.13 2076.29,1196.95 2076.87,1197.27 2077.45,1197.62 2078.03,1197.04 2078.6,1197.97 2079.18,1197.56 2079.76,1198.26 2080.34,1198.62 2080.91,1197.81 2081.49,1198.1 2082.07,1199.63 2082.65,1197.88 2083.22,1198.05 2083.8,1197.74 2084.38,1197.57 2084.96,1198.94 2085.53,1198.02 2086.11,1198.07 2086.69,1197.98 2087.27,1196.87 2087.84,1198.86 2088.42,1198.14 2089,1198.43 2089.58,1199.22 2090.15,1198.39 2090.73,1198.55 2091.31,1198.58 2091.89,1199.19 2092.46,1197.74 2093.04,1198.18 2093.62,1197.28 2094.2,1198.51 2094.78,1198.85 2095.35,1198.26 2095.93,1199.61 2096.51,1199.05 2097.09,1199.59 2097.66,1198.6 2098.24,1199.51 2098.82,1198.22 2099.4,1198.74 2099.97,1198.58 2100.55,1198.27 2101.13,1199.42 2101.71,1199.23 2102.28,1198.12 2102.86,1198.88 2103.44,1198.54 2104.02,1198.57 2104.59,1198.81 2105.17,1198.19 2105.75,1198.57 2106.33,1198.61 2106.9,1198.1 2107.48,1198.13 2108.06,1198.88 2108.64,1198.39 2109.21,1199.66 2109.79,1199.5 2110.37,1197.87 2110.95,1198.39 2111.52,1197.03 2112.1,1197.7 2112.68,1197.45 2113.26,1197.36 2113.83,1196.39 2114.41,1197.45 2114.99,1197.01 2115.57,1196.01 2116.14,1195.83 2116.72,1195.7 2117.3,1195.31 2117.88,1192.86 2118.45,1193.69 2119.03,1191.18 2119.61,1191.25 2120.19,1191.4 2120.76,1192.75 2121.34,1192.8 2121.92,1193.54 2122.5,1194.9 2123.07,1194.96 2123.65,1195.31 2124.23,1197.01 2124.81,1196.59 2125.38,1196.42 2125.96,1196.49 2126.54,1197.78 2127.12,1198.9 2127.7,1198.41 2128.27,1198.12 2128.85,1198.83 2129.43,1197.39 2130.01,1198.5 2130.58,1197.99 2131.16,1199.09 2131.74,1197.88 2132.32,1198.81 2132.89,1198.49 2133.47,1198.41 2134.05,1198.8 2134.63,1198.35 2135.2,1199.23 2135.78,1198.33 2136.36,1197.24 2136.94,1199.26 2137.51,1199.21 2138.09,1198.75 2138.67,1199.25 2139.25,1198.86 2139.82,1198.02 2140.4,1197.35 2140.98,1197.91 2141.56,1198.33 2142.13,1198.78 2142.71,1197.7 2143.29,1197.99 2143.87,1199.34 2144.44,1198.1 2145.02,1198.09 2145.6,1197.96 2146.18,1199.39 2146.75,1198.93 2147.33,1198.98 2147.91,1199.4 2148.49,1199.02 2149.06,1199.22 2149.64,1198.68 2150.22,1198.96 2150.8,1198.82 2151.37,1198.85 2151.95,1197.81 2152.53,1198.33 2153.11,1198.24 2153.68,1198.08 2154.26,1198.41 2154.84,1199.42 2155.42,1198.94 2155.99,1198.46 2156.57,1198.58 2157.15,1199.16 2157.73,1197.69 2158.3,1198.57 2158.88,1199.25 2159.46,1199.31 2160.04,1198.8 2160.62,1198.58 2161.19,1197.25 2161.77,1197.84 2162.35,1198.18 2162.93,1198.38 2163.5,1198.36 2164.08,1196.83 2164.66,1197.76 2165.24,1198.16 2165.81,1197.53 2166.39,1197.77 2166.97,1198.1 2167.55,1197.91 2168.12,1197.73 2168.7,1197.93 2169.28,1198 2169.86,1197.02 2170.43,1196.36 2171.01,1196.22 2171.59,1195.88 2172.17,1195.51 2172.74,1193.86 2173.32,1193.18 2173.9,1192.04 2174.48,1191.18 2175.05,1188.63 2175.63,1185.87 2176.21,1183.89 2176.79,1180.97 2177.36,1178.79 2177.94,1177.73 2178.52,1176.83 2179.1,1177.39 2179.67,1179.35 2180.25,1180.93 2180.83,1183.82 2181.41,1185.17 2181.98,1188.44 2182.56,1191.57 2183.14,1192.23 2183.72,1193.79 2184.29,1194.62 2184.87,1195.08 2185.45,1196.51 2186.03,1196.66 2186.6,1197.6 2187.18,1196.74 2187.76,1197.44 2188.34,1197.37 2188.91,1197.35 2189.49,1198.37 2190.07,1197.45 2190.65,1197.52 2191.22,1199.38 2191.8,1198 2192.38,1197.97 2192.96,1198.38 2193.53,1197.61 2194.11,1198.39 2194.69,1197.58 2195.27,1198 2195.85,1197.97 2196.42,1199.05 2197,1198.68 2197.58,1199.36 2198.16,1199.29 2198.73,1198 2199.31,1198.69 2199.89,1198.17 2200.47,1198.07 2201.04,1199.09 2201.62,1199.23 2202.2,1198.52 2202.78,1198.65 2203.35,1198.63 2203.93,1198.66 2204.51,1198.68 2205.09,1197.94 2205.66,1198.84 2206.24,1198.13 2206.82,1197.85 2207.4,1198.44 2207.97,1198.67 2208.55,1198.99 2209.13,1198.74 2209.71,1198.69 2210.28,1198.17 2210.86,1198.76 2211.44,1198.66 2212.02,1198.71 2212.59,1198.14 2213.17,1199.49 2213.75,1198.97 2214.33,1198.93 2214.9,1198.61 2215.48,1198.4 2216.06,1199.07 2216.64,1197.83 2217.21,1198.31 2217.79,1198.4 2218.37,1198.88 2218.95,1198.39 2219.52,1199.35 2220.1,1197.6 2220.68,1199.43 2221.26,1198.74 2221.83,1199.09 2222.41,1198.29 2222.99,1199.14 2223.57,1198.39 2224.14,1198.71 2224.72,1197.75 2225.3,1198.87 2225.88,1198.64 2226.45,1197.53 2227.03,1198.51 2227.61,1198.39 2228.19,1199.02 2228.77,1198.19 2229.34,1198.67 2229.92,1199.27 2230.5,1198.08 2231.08,1199.6 2231.65,1198.69 2232.23,1198.43 2232.81,1197.8 2233.39,1197.57 2233.96,1199.08 2234.54,1198.29 2235.12,1198.2 2235.7,1199.13 2236.27,1198.92 2236.85,1198.61 2237.43,1197.72 2238.01,1197.45 2238.58,1199.05 2239.16,1198.5 2239.74,1198.37 2240.32,1199.57 2240.89,1198.28 2241.47,1198.7 2242.05,1199.69 2242.63,1198.83 2243.2,1198.18 2243.78,1198.01 2244.36,1199.14 2244.94,1197.77 2245.51,1198.9 2246.09,1199.32 2246.67,1198.36 2247.25,1198.85 2247.82,1198.41 2248.4,1199.13 2248.98,1198.48 2249.56,1197.91 2250.13,1198.46 2250.71,1198.3 2251.29,1197.83 2251.87,1197.99 2252.44,1197.39 2253.02,1197.53 2253.6,1198.28 2254.18,1196.82 2254.75,1197.9 2255.33,1197.66 2255.91,1197.22 2256.49,1198.21 2257.06,1197.7 2257.64,1196.86 2258.22,1197.16 2258.8,1197.42 2259.37,1195.9 2259.95,1196.74 2260.53,1196.34 2261.11,1196.55 2261.69,1197.36 2262.26,1195.7 2262.84,1195.76 2263.42,1195.18 2264,1195.89 2264.57,1196.05 2265.15,1194.32 2265.73,1196.49 2266.31,1196.59 2266.88,1194.28 2267.46,1194.99 2268.04,1196.19 2268.62,1196.1 2269.19,1196.82 2269.77,1196.16 2270.35,1197.17 2270.93,1195.85 2271.5,1196.98 2272.08,1196.66 2272.66,1196.78 2273.24,1196.2 2273.81,1197.08 2274.39,1198.19 2274.97,1197.19 2275.55,1197.53 2276.12,1197.83 2276.7,1197.31 2277.28,1198.08 2277.86,1198.32 2278.43,1197.94 2279.01,1197.11 2279.59,1199.04 2280.17,1198.27 2280.74,1198.27 2281.32,1198.2 2281.9,1198.03 2282.48,1197.46 2283.05,1198.38 2283.63,1198.52 2284.21,1199 2284.79,1199.37 2285.36,1198.08 2285.94,1199.39 2286.52,1198.56 2287.1,1198.85 2287.67,1197.97 2288.25,1198.74 2288.83,1198.03 2289.41,1198.93 2289.98,1197.88 2290.56,1198.6 2291.14,1198.35 2291.72,1198.78 2292.29,1198.73 2292.87,1198.69 2293.45,1198.32 2294.03,1199.09 2294.61,1198.93 2295.18,1198.18 2295.76,1199.03 2296.34,1198.27 2296.92,1198.68 2297.49,1198.58 2298.07,1198.58 2298.65,1199.08 2299.23,1197.65 2299.8,1199.35 2300.38,1197.67 2300.96,1199.34 2301.54,1198.97 2302.11,1197.84 2302.69,1198.86 2303.27,1198.49 2303.85,1198.02 2304.42,1199.34 2305,1199.3 2305.58,1198.89 2306.16,1199.62 2306.73,1198.77 2307.31,1198.54 2307.89,1199.42 2308.47,1198.29 2309.04,1199.14 2309.62,1199.32 2310.2,1198.83 2310.78,1198.76 2311.35,1198.98 2311.93,1198.85 2312.51,1198.32 2313.09,1196.73 2313.66,1198.43 2314.24,1197.9 2314.82,1199.26 2315.4,1198.46 2315.97,1198.85 2316.55,1199.14 2317.13,1199.29 2317.71,1198.21 2318.28,1199.93 2318.86,1199.24 2319.44,1199.08 2320.02,1198.22 2320.59,1199.85 2321.17,1199.1 2321.75,1199.35 2322.33,1198.56 2322.9,1199.79 2323.48,1199.55 2324.06,1198.68 2324.64,1199.84 2325.21,1198.14 2325.79,1199.22 2326.37,1199.09 2326.95,1199.11 2327.52,1198.33 2328.1,1198.52 2328.68,1199.26 2329.26,1199.31 2329.84,1198.69 2330.41,1198.57 2330.99,1198.42 2331.57,1199.45 2332.15,1198.62 2332.72,1198.4 2333.3,1197.64 2333.88,1197.7 2334.46,1198.07 2335.03,1197.55 2335.61,1198.46 2336.19,1198.51 2336.77,1198.12 2337.34,1198.44 2337.92,1198.62 2338.5,1197.69 2339.08,1199.07 2339.65,1197.13 2340.23,1199.76 2340.81,1197.85 2341.39,1198.69 2341.96,1198.47 2342.54,1198.88 2343.12,1198.25 2343.7,1198.97 2344.27,1197.8 2344.85,1199.09 2345.43,1198.51 2346.01,1198.88 2346.58,1199.24 2347.16,1198.01 2347.74,1198.34 2348.32,1198.25 2348.89,1198.62 2349.47,1198.76 2350.05,1199.08 2350.63,1198.79 2351.2,1198.58 2351.78,1198.98 2352.36,1199.25 2352.94,1199.21 2353.51,1199.84 2354.09,1198.32 2354.67,1198.8 2355.25,1197.93 2355.82,1198.29 2356.4,1199.02 2356.98,1199.38 2357.56,1198.4 2358.13,1198.94 2358.71,1198.72 2359.29,1198.96 2359.87,1198.8 2360.44,1198.41 2361.02,1197.43 2361.6,1197.85" fill="none" stroke="#70AD47" stroke-width="4.9" stroke-linejoin="round" stroke-linecap="round"/>
<polyline points="1322.6,1355.04 1323.18,1354.75 1323.76,1355.93 1324.33,1354.77 1324.91,1355.23 1325.49,1354.04 1326.07,1353.9 1326.64,1354.76 1327.22,1355.55 1327.8,1354.82 1328.38,1354.4 1328.95,1354.77 1329.53,1354.87 1330.11,1354.75 1330.69,1354.49 1331.26,1353.87 1331.84,1353.8 1332.42,1354.13 1333,1354.32 1333.57,1353.64 1334.15,1355.23 1334.73,1354.66 1335.31,1354.02 1335.88,1354.71 1336.46,1355.62 1337.04,1354.39 1337.62,1354.36 1338.19,1354.79 1338.77,1353.45 1339.35,1353.87 1339.93,1353.74 1340.5,1354.58 1341.08,1353.2 1341.66,1354.3 1342.24,1353.84 1342.81,1353.93 1343.39,1353.77 1343.97,1354.88 1344.55,1353.58 1345.12,1353.38 1345.7,1354.2 1346.28,1353.7 1346.86,1354.29 1347.43,1353.97 1348.01,1354.01 1348.59,1354.01 1349.17,1353.04 1349.74,1352.85 1350.32,1355.07 1350.9,1353.31 1351.48,1354.24 1352.05,1353.32 1352.63,1353.89 1353.21,1353.79 1353.79,1354.74 1354.36,1353.82 1354.94,1353.08 1355.52,1353.14 1356.1,1354.1 1356.68,1354.41 1357.25,1355.04 1357.83,1355.11 1358.41,1353.15 1358.99,1353.87 1359.56,1353.27 1360.14,1354.1 1360.72,1354.4 1361.3,1352.95 1361.87,1354.44 1362.45,1354.37 1363.03,1353.84 1363.61,1353.66 1364.18,1354.91 1364.76,1353.92 1365.34,1353.41 1365.92,1354.09 1366.49,1354.61 1367.07,1354.43 1367.65,1352.98 1368.23,1353.33 1368.8,1353.86 1369.38,1354.19 1369.96,1354.2 1370.54,1353.44 1371.11,1354.66 1371.69,1354.43 1372.27,1353.32 1372.85,1353.67 1373.42,1354.16 1374,1353.4 1374.58,1354.28 1375.16,1354.38 1375.73,1354.06 1376.31,1354.64 1376.89,1355.35 1377.47,1354.01 1378.04,1354.66 1378.62,1354.17 1379.2,1355.29 1379.78,1355.16 1380.35,1354.49 1380.93,1354.18 1381.51,1354.97 1382.09,1354.53 1382.66,1353.92 1383.24,1354.07 1383.82,1354.56 1384.4,1355.88 1384.97,1355.31 1385.55,1355.5 1386.13,1355.28 1386.71,1355.56 1387.28,1355.65 1387.86,1354.24 1388.44,1355.22 1389.02,1355.26 1389.59,1355.22 1390.17,1355.21 1390.75,1353.62 1391.33,1355.14 1391.91,1354.32 1392.48,1355.63 1393.06,1354.85 1393.64,1355.02 1394.22,1355.17 1394.79,1354.11 1395.37,1355.17 1395.95,1354.6 1396.53,1355.86 1397.1,1355.08 1397.68,1354.78 1398.26,1356.12 1398.84,1355.31 1399.41,1354.97 1399.99,1355.48 1400.57,1355.47 1401.15,1355.74 1401.72,1355.09 1402.3,1356.27 1402.88,1355.9 1403.46,1356.65 1404.03,1356.1 1404.61,1355.29 1405.19,1356.45 1405.77,1355.76 1406.34,1355.99 1406.92,1354.61 1407.5,1355.32 1408.08,1356.8 1408.65,1356.68 1409.23,1355.14 1409.81,1356.33 1410.39,1356.37 1410.96,1356.91 1411.54,1355.65 1412.12,1355.33 1412.7,1356.5 1413.27,1356 1413.85,1356.07 1414.43,1355.94 1415.01,1357.15 1415.58,1356.03 1416.16,1357.07 1416.74,1356.91 1417.32,1356.24 1417.89,1357.18 1418.47,1357.37 1419.05,1356.9 1419.63,1356.61 1420.2,1357.19 1420.78,1356.4 1421.36,1357.11 1421.94,1357.72 1422.51,1356.16 1423.09,1355.94 1423.67,1357.37 1424.25,1356.51 1424.83,1356.78 1425.4,1357.14 1425.98,1356.75 1426.56,1357.19 1427.14,1356.61 1427.71,1356.89 1428.29,1357.16 1428.87,1357.55 1429.45,1357.04 1430.02,1357.49 1430.6,1357.66 1431.18,1357.64 1431.76,1357.32 1432.33,1358.13 1432.91,1357.02 1433.49,1358.05 1434.07,1358.05 1434.64,1358.02 1435.22,1357.27 1435.8,1358.11 1436.38,1357.87 1436.95,1357.01 1437.53,1357.49 1438.11,1356.96 1438.69,1357.92 1439.26,1358.5 1439.84,1358.26 1440.42,1357.23 1441,1357.25 1441.57,1357.72 1442.15,1357.77 1442.73,1358.28 1443.31,1357.72 1443.88,1358.54 1444.46,1357.65 1445.04,1358.53 1445.62,1357.19 1446.19,1357.7 1446.77,1358.05 1447.35,1358.5 1447.93,1358.35 1448.5,1357.61 1449.08,1357.39 1449.66,1358.11 1450.24,1358.1 1450.81,1357.95 1451.39,1358.17 1451.97,1357.47 1452.55,1358.5 1453.12,1358.78 1453.7,1357.76 1454.28,1357.8 1454.86,1358.96 1455.43,1358.89 1456.01,1357.88 1456.59,1357.96 1457.17,1357.39 1457.75,1358.63 1458.32,1358.49 1458.9,1358.41 1459.48,1359.64 1460.06,1358.32 1460.63,1358.37 1461.21,1358.59 1461.79,1358.36 1462.37,1359.08 1462.94,1358.39 1463.52,1358.57 1464.1,1359.75 1464.68,1358.21 1465.25,1357.88 1465.83,1358.64 1466.41,1358.22 1466.99,1358.22 1467.56,1358.7 1468.14,1359.06 1468.72,1357.76 1469.3,1358.5 1469.87,1357.47 1470.45,1359.13 1471.03,1358.07 1471.61,1359 1472.18,1359.64 1472.76,1359.4 1473.34,1358.9 1473.92,1357.58 1474.49,1359.72 1475.07,1358.46 1475.65,1359.14 1476.23,1358.43 1476.8,1358.58 1477.38,1359.61 1477.96,1357.81 1478.54,1358.05 1479.11,1358.58 1479.69,1359.33 1480.27,1357.38 1480.85,1359.45 1481.42,1358.54 1482,1359.15 1482.58,1360.22 1483.16,1359.07 1483.73,1359.39 1484.31,1359.55 1484.89,1358.64 1485.47,1358.89 1486.04,1358.72 1486.62,1358.94 1487.2,1358.66 1487.78,1358.54 1488.35,1358.5 1488.93,1359.26 1489.51,1358.11 1490.09,1358.9 1490.67,1359.61 1491.24,1358.09 1491.82,1357.89 1492.4,1359.23 1492.98,1358.42 1493.55,1358.47 1494.13,1359.22 1494.71,1359.05 1495.29,1358.5 1495.86,1358.7 1496.44,1358.07 1497.02,1358.57 1497.6,1358.85 1498.17,1359.2 1498.75,1359.22 1499.33,1359.86 1499.91,1358.87 1500.48,1359.46 1501.06,1359.06 1501.64,1358.37 1502.22,1359.09 1502.79,1359.11 1503.37,1359.29 1503.95,1359.19 1504.53,1359 1505.1,1358.43 1505.68,1358.76 1506.26,1359.09 1506.84,1359.29 1507.41,1359.38 1507.99,1359.13 1508.57,1359.29 1509.15,1359.72 1509.72,1359.05 1510.3,1358.64 1510.88,1358.16 1511.46,1358.96 1512.03,1359.28 1512.61,1358.73 1513.19,1359.75 1513.77,1358.46 1514.34,1358.74 1514.92,1358.92 1515.5,1358.26 1516.08,1359.49 1516.65,1358.52 1517.23,1358.28 1517.81,1357.93 1518.39,1359.44 1518.96,1359.63 1519.54,1358.37 1520.12,1358.14 1520.7,1358.68 1521.27,1358.92 1521.85,1358.63 1522.43,1359.19 1523.01,1358.34 1523.58,1360.06 1524.16,1359.12 1524.74,1359.48 1525.32,1358.7 1525.9,1359.45 1526.47,1359.83 1527.05,1358.52 1527.63,1358.99 1528.21,1359.47 1528.78,1359.14 1529.36,1358.45 1529.94,1358.65 1530.52,1359.23 1531.09,1359.09 1531.67,1358.54 1532.25,1359.08 1532.83,1357.67 1533.4,1358.93 1533.98,1359.41 1534.56,1359.39 1535.14,1358.64 1535.71,1359.01 1536.29,1358.99 1536.87,1358.79 1537.45,1358.4 1538.02,1358.04 1538.6,1358.48 1539.18,1358.12 1539.76,1357.61 1540.33,1359.41 1540.91,1357.92 1541.49,1358.34 1542.07,1358.32 1542.64,1357.69 1543.22,1358.81 1543.8,1357.66 1544.38,1359.55 1544.95,1357.78 1545.53,1358.09 1546.11,1358.41 1546.69,1358.41 1547.26,1358.46 1547.84,1359.06 1548.42,1359.18 1549,1359.74 1549.57,1357.82 1550.15,1359.05 1550.73,1358.81 1551.31,1358.23 1551.88,1357.63 1552.46,1359.64 1553.04,1358.92 1553.62,1357.2 1554.19,1358.95 1554.77,1358.29 1555.35,1358.06 1555.93,1358.27 1556.5,1357.36 1557.08,1357.48 1557.66,1357.92 1558.24,1356.56 1558.82,1356.22 1559.39,1355.78 1559.97,1356.83 1560.55,1355.44 1561.13,1355.37 1561.7,1354.69 1562.28,1354.47 1562.86,1353.11 1563.44,1350.46 1564.01,1348.3 1564.59,1342.05 1565.17,1332.79 1565.75,1318.53 1566.32,1299.63 1566.9,1276.38 1567.48,1251.5 1568.06,1229.8 1568.63,1217.41 1569.21,1219.12 1569.79,1234.83 1570.37,1258.68 1570.94,1283.89 1571.52,1306.2 1572.1,1323.05 1572.68,1334.84 1573.25,1343.77 1573.83,1348.74 1574.41,1351.62 1574.99,1353.6 1575.56,1354.13 1576.14,1355.22 1576.72,1354.43 1577.3,1357.13 1577.87,1356.52 1578.45,1356.62 1579.03,1357.34 1579.61,1357.12 1580.18,1357.04 1580.76,1358.06 1581.34,1357.77 1581.92,1357.48 1582.49,1358.35 1583.07,1358.3 1583.65,1358.35 1584.23,1358.05 1584.8,1358.88 1585.38,1357.84 1585.96,1358.86 1586.54,1359.29 1587.11,1357.99 1587.69,1358.66 1588.27,1357.58 1588.85,1358.62 1589.42,1357.69 1590,1357.92 1590.58,1358.8 1591.16,1359.31 1591.74,1359.02 1592.31,1358.64 1592.89,1358.34 1593.47,1358.81 1594.05,1360.15 1594.62,1359.62 1595.2,1358.11 1595.78,1358.46 1596.36,1358.08 1596.93,1359.2 1597.51,1358.74 1598.09,1358.06 1598.67,1358.82 1599.24,1358.66 1599.82,1358.35 1600.4,1358.75 1600.98,1359.44 1601.55,1358.45 1602.13,1358.77 1602.71,1358.19 1603.29,1358.76 1603.86,1359.75 1604.44,1359.31 1605.02,1358.61 1605.6,1358.68 1606.17,1359.72 1606.75,1358.96 1607.33,1358.75 1607.91,1359.68 1608.48,1358.83 1609.06,1358.66 1609.64,1359.3 1610.22,1358.36 1610.79,1358.85 1611.37,1358.66 1611.95,1359.18 1612.53,1359.04 1613.1,1360.13 1613.68,1359.5 1614.26,1359.14 1614.84,1359.45 1615.41,1359.01 1615.99,1359.28 1616.57,1359.47 1617.15,1359.4 1617.72,1359.93 1618.3,1359.47 1618.88,1358.77 1619.46,1359.31 1620.03,1358.54 1620.61,1360.29 1621.19,1358.13 1621.77,1359.1 1622.34,1359.45 1622.92,1358.65 1623.5,1358.94 1624.08,1359.74 1624.66,1358.5 1625.23,1359.68 1625.81,1359.05 1626.39,1358.98 1626.97,1360.27 1627.54,1359.61 1628.12,1359.4 1628.7,1359.04 1629.28,1359.28 1629.85,1359.09 1630.43,1360.2 1631.01,1359.3 1631.59,1358.79 1632.16,1358.92 1632.74,1359.42 1633.32,1358.59 1633.9,1358.78 1634.47,1358.31 1635.05,1357.92 1635.63,1360.46 1636.21,1359.09 1636.78,1360.19 1637.36,1359.53 1637.94,1359.38 1638.52,1358.61 1639.09,1359.2 1639.67,1359.32 1640.25,1358.72 1640.83,1359.62 1641.4,1359.91 1641.98,1359.49 1642.56,1359.35 1643.14,1358.29 1643.71,1360.77 1644.29,1359.65 1644.87,1358.58 1645.45,1358.6 1646.02,1358.86 1646.6,1358.69 1647.18,1359.26 1647.76,1358.76 1648.33,1359.31 1648.91,1358.99 1649.49,1359.09 1650.07,1358.58 1650.64,1359.34 1651.22,1359.39 1651.8,1358.79 1652.38,1358.32 1652.95,1359.27 1653.53,1358.24 1654.11,1358.8 1654.69,1359.49 1655.26,1359.93 1655.84,1359.08 1656.42,1359.42 1657,1359.95 1657.57,1358.65 1658.15,1358.99 1658.73,1359.39 1659.31,1359.97 1659.89,1358.57 1660.46,1358.56 1661.04,1359.77 1661.62,1359.9 1662.2,1358.88 1662.77,1359.26 1663.35,1359.77 1663.93,1359.11 1664.51,1358.17 1665.08,1359.34 1665.66,1359.75 1666.24,1358.52 1666.82,1359.95 1667.39,1359.05 1667.97,1358.22 1668.55,1359.34 1669.13,1358.37 1669.7,1359.98 1670.28,1359.49 1670.86,1360.21 1671.44,1358.29 1672.01,1359.29 1672.59,1360.03 1673.17,1359.89 1673.75,1359.57 1674.32,1359.43 1674.9,1359.58 1675.48,1359.78 1676.06,1360.22 1676.63,1358.24 1677.21,1358.65 1677.79,1358.89 1678.37,1359.33 1678.94,1359.43 1679.52,1359.02 1680.1,1359.18 1680.68,1359.64 1681.25,1359.88 1681.83,1358.77 1682.41,1359.07 1682.99,1359.25 1683.56,1360.6 1684.14,1358.84 1684.72,1359.38 1685.3,1359.24 1685.87,1358.97 1686.45,1359.73 1687.03,1359.16 1687.61,1358.93 1688.18,1359.24 1688.76,1359.35 1689.34,1358.84 1689.92,1358.78 1690.49,1359.82 1691.07,1358.86 1691.65,1359.7 1692.23,1359.09 1692.81,1358.71 1693.38,1358.54 1693.96,1358.22 1694.54,1359.54 1695.12,1359.52 1695.69,1358.92 1696.27,1358.55 1696.85,1358.84 1697.43,1359.22 1698,1359.83 1698.58,1358.76 1699.16,1358.18 1699.74,1359.23 1700.31,1358.9 1700.89,1358.63 1701.47,1358.05 1702.05,1359.4 1702.62,1359.86 1703.2,1358.5 1703.78,1358.23 1704.36,1358.74 1704.93,1358.87 1705.51,1359.32 1706.09,1359.07 1706.67,1358.05 1707.24,1359.14 1707.82,1359.14 1708.4,1358.66 1708.98,1359.1 1709.55,1358.16 1710.13,1358.71 1710.71,1358.12 1711.29,1358.85 1711.86,1359.25 1712.44,1357.7 1713.02,1358.77 1713.6,1359.11 1714.17,1358.78 1714.75,1359.47 1715.33,1358.45 1715.91,1359.57 1716.48,1358.25 1717.06,1357.29 1717.64,1357.58 1718.22,1356.87 1718.79,1357.38 1719.37,1356.93 1719.95,1356.14 1720.53,1354.66 1721.1,1353.08 1721.68,1351.72 1722.26,1350.37 1722.84,1350.56 1723.41,1349.04 1723.99,1349.64 1724.57,1350.43 1725.15,1351.42 1725.73,1351.46 1726.3,1352.65 1726.88,1353.75 1727.46,1355.83 1728.04,1355.53 1728.61,1356.32 1729.19,1357.68 1729.77,1358.26 1730.35,1359.09 1730.92,1358.26 1731.5,1358.95 1732.08,1357.56 1732.66,1358.99 1733.23,1359.19 1733.81,1359.31 1734.39,1358.55 1734.97,1359.65 1735.54,1359.8 1736.12,1358.93 1736.7,1358.98 1737.28,1358.78 1737.85,1358.82 1738.43,1359 1739.01,1358.31 1739.59,1358.27 1740.16,1358.89 1740.74,1358.76 1741.32,1359.59 1741.9,1358.94 1742.47,1358.54 1743.05,1358.09 1743.63,1358.89 1744.21,1358.49 1744.78,1358.09 1745.36,1360.16 1745.94,1358.03 1746.52,1360.03 1747.09,1360.83 1747.67,1359.18 1748.25,1358.88 1748.83,1359.5 1749.4,1358.63 1749.98,1359.24 1750.56,1359.56 1751.14,1358.43 1751.71,1359.99 1752.29,1359.18 1752.87,1359.3 1753.45,1359.87 1754.02,1358.35 1754.6,1358.43 1755.18,1359.29 1755.76,1359.33 1756.33,1358.99 1756.91,1359.06 1757.49,1358.98 1758.07,1358.57 1758.65,1358.37 1759.22,1358.69 1759.8,1359.16 1760.38,1359.33 1760.96,1358.38 1761.53,1360.03 1762.11,1360.37 1762.69,1359.17 1763.27,1358.6 1763.84,1358.94 1764.42,1359.46 1765,1358.96 1765.58,1360.05 1766.15,1358.83 1766.73,1359.5 1767.31,1359.22 1767.89,1360.19 1768.46,1359.16 1769.04,1359.17 1769.62,1358.41 1770.2,1358.72 1770.77,1358.1 1771.35,1360.6 1771.93,1358.8 1772.51,1358.62 1773.08,1358.71 1773.66,1358.87 1774.24,1358.91 1774.82,1357.55 1775.39,1359.18 1775.97,1358.42 1776.55,1358.25 1777.13,1359.15 1777.7,1358.14 1778.28,1357.34 1778.86,1357.03 1779.44,1357.59 1780.01,1356.74 1780.59,1356.21 1781.17,1354.7 1781.75,1354.62 1782.32,1353.1 1782.9,1351.78 1783.48,1351.54 1784.06,1349.44 1784.63,1347.52 1785.21,1346.64 1785.79,1345.71 1786.37,1342.69 1786.94,1343.42 1787.52,1342.97 1788.1,1343.32 1788.68,1345.18 1789.25,1346.25 1789.83,1347.09 1790.41,1349.66 1790.99,1350.41 1791.56,1351.94 1792.14,1352.49 1792.72,1354.35 1793.3,1355.58 1793.88,1355.82 1794.45,1356.62 1795.03,1357.78 1795.61,1357.36 1796.19,1357.37 1796.76,1358.89 1797.34,1357.72 1797.92,1356.92 1798.5,1357.64 1799.07,1358.3 1799.65,1357.84 1800.23,1357.94 1800.81,1358.36 1801.38,1358.58 1801.96,1358.58 1802.54,1358.75 1803.12,1359.4 1803.69,1360.67 1804.27,1359.52 1804.85,1359.25 1805.43,1358.52 1806,1358.98 1806.58,1358.35 1807.16,1358.95 1807.74,1358.36 1808.31,1359.59 1808.89,1360.17 1809.47,1359.55 1810.05,1360.51 1810.62,1358.41 1811.2,1359.54 1811.78,1358.99 1812.36,1359.16 1812.93,1358.47 1813.51,1359.04 1814.09,1359.02 1814.67,1358.69 1815.24,1359.72 1815.82,1359.51 1816.4,1359.76 1816.98,1358.81 1817.55,1358.73 1818.13,1358.45 1818.71,1359.57 1819.29,1359.65 1819.86,1359.09 1820.44,1358.71 1821.02,1359.16 1821.6,1359.38 1822.17,1359.4 1822.75,1358.96 1823.33,1359.73 1823.91,1359.82 1824.48,1358.6 1825.06,1359.27 1825.64,1359.13 1826.22,1358.36 1826.8,1358.76 1827.37,1359.21 1827.95,1359.72 1828.53,1358.64 1829.11,1358.81 1829.68,1358.89 1830.26,1358.75 1830.84,1358.15 1831.42,1359.38 1831.99,1358.74 1832.57,1359.04 1833.15,1359.08 1833.73,1358.32 1834.3,1357.85 1834.88,1357.78 1835.46,1357.61 1836.04,1357.1 1836.61,1357.02 1837.19,1355.99 1837.77,1356.12 1838.35,1355.68 1838.92,1355.9 1839.5,1355.94 1840.08,1356.76 1840.66,1356.67 1841.23,1356.75 1841.81,1356.78 1842.39,1357.22 1842.97,1357.76 1843.54,1357.76 1844.12,1358.18 1844.7,1357.9 1845.28,1358.76 1845.85,1358.17 1846.43,1358.5 1847.01,1358.53 1847.59,1360.29 1848.16,1358.98 1848.74,1359.48 1849.32,1358.27 1849.9,1359.29 1850.47,1358.82 1851.05,1359.51 1851.63,1358.78 1852.21,1358.37 1852.78,1359.43 1853.36,1359.03 1853.94,1358.27 1854.52,1358.95 1855.09,1358.47 1855.67,1359.38 1856.25,1359.03 1856.83,1359.18 1857.4,1358.45 1857.98,1359.71 1858.56,1358.64 1859.14,1359.11 1859.72,1358.8 1860.29,1358.96 1860.87,1358.23 1861.45,1358.93 1862.03,1359.09 1862.6,1358.15 1863.18,1359.4 1863.76,1358.26 1864.34,1358.48 1864.91,1358.41 1865.49,1359.37 1866.07,1358.41 1866.65,1358.42 1867.22,1358.8 1867.8,1358.66 1868.38,1359.16 1868.96,1358.24 1869.53,1358.07 1870.11,1357.9 1870.69,1357.82 1871.27,1358.57 1871.84,1358.36 1872.42,1357.78 1873,1357.76 1873.58,1356.46 1874.15,1357.96 1874.73,1357.53 1875.31,1355.84 1875.89,1356.34 1876.46,1356.11 1877.04,1356.31 1877.62,1354.77 1878.2,1354.11 1878.77,1352.69 1879.35,1350.13 1879.93,1346.57 1880.51,1343.17 1881.08,1340.04 1881.66,1336.53 1882.24,1332.13 1882.82,1327.25 1883.39,1325.31 1883.97,1322.83 1884.55,1323.37 1885.13,1326.2 1885.7,1329.06 1886.28,1332.75 1886.86,1336.82 1887.44,1341.28 1888.01,1344.96 1888.59,1347.75 1889.17,1349.87 1889.75,1352.49 1890.32,1354.18 1890.9,1354.19 1891.48,1355.97 1892.06,1355.86 1892.64,1356.49 1893.21,1357.48 1893.79,1356.52 1894.37,1357.33 1894.95,1358.49 1895.52,1358.49 1896.1,1357.48 1896.68,1357.29 1897.26,1358.66 1897.83,1358.16 1898.41,1358.23 1898.99,1357.26 1899.57,1358.2 1900.14,1357.32 1900.72,1358.03 1901.3,1359.2 1901.88,1358.86 1902.45,1359.02 1903.03,1358.12 1903.61,1358.23 1904.19,1357.68 1904.76,1358.84 1905.34,1357.21 1905.92,1356.4 1906.5,1356.53 1907.07,1356.87 1907.65,1355.41 1908.23,1355.14 1908.81,1353.54 1909.38,1353.28 1909.96,1352.34 1910.54,1352.08 1911.12,1352.49 1911.69,1353.19 1912.27,1354.42 1912.85,1354.3 1913.43,1354.06 1914,1354.71 1914.58,1355.07 1915.16,1356.36 1915.74,1356.29 1916.31,1357.01 1916.89,1356.73 1917.47,1358.38 1918.05,1357.43 1918.62,1358.05 1919.2,1357.47 1919.78,1358.83 1920.36,1356.69 1920.93,1357.64 1921.51,1357.91 1922.09,1356.86 1922.67,1357.07 1923.24,1356.08 1923.82,1356.2 1924.4,1354.92 1924.98,1355.17 1925.55,1352.51 1926.13,1352.92 1926.71,1351.3 1927.29,1350.46 1927.87,1350.25 1928.44,1349.02 1929.02,1348.72 1929.6,1349.46 1930.18,1348.86 1930.75,1349.92 1931.33,1351.35 1931.91,1351.08 1932.49,1352.97 1933.06,1352.39 1933.64,1353.73 1934.22,1354.12 1934.8,1353.66 1935.37,1355.12 1935.95,1354.02 1936.53,1355.59 1937.11,1355.56 1937.68,1354.11 1938.26,1354.1 1938.84,1353.35 1939.42,1351.75 1939.99,1350.73 1940.57,1349.15 1941.15,1346.22 1941.73,1342.65 1942.3,1335.73 1942.88,1327.67 1943.46,1318.06 1944.04,1305.52 1944.61,1290.4 1945.19,1274.91 1945.77,1258.76 1946.35,1245.1 1946.92,1234.05 1947.5,1230.19 1948.08,1234.42 1948.66,1242.54 1949.23,1255.6 1949.81,1272.02 1950.39,1288.78 1950.97,1303.1 1951.54,1315.82 1952.12,1326.39 1952.7,1335.89 1953.28,1342.23 1953.85,1346.02 1954.43,1348.94 1955.01,1351.42 1955.59,1353.2 1956.16,1353.88 1956.74,1354.45 1957.32,1354.96 1957.9,1354.92 1958.47,1355.95 1959.05,1356.56 1959.63,1355.92 1960.21,1356.39 1960.79,1357.61 1961.36,1356.79 1961.94,1357.61 1962.52,1356.91 1963.1,1356.57 1963.67,1357.96 1964.25,1358.2 1964.83,1358.07 1965.41,1358 1965.98,1358.91 1966.56,1358 1967.14,1357.79 1967.72,1358.43 1968.29,1358.93 1968.87,1358.58 1969.45,1359.01 1970.03,1359.34 1970.6,1358.09 1971.18,1358.49 1971.76,1358.45 1972.34,1358.95 1972.91,1357.76 1973.49,1359.21 1974.07,1357.94 1974.65,1358.94 1975.22,1358.57 1975.8,1358.52 1976.38,1359.1 1976.96,1358.13 1977.53,1359.15 1978.11,1358.66 1978.69,1358.1 1979.27,1359.42 1979.84,1358.21 1980.42,1359.24 1981,1358.69 1981.58,1358.72 1982.15,1359.69 1982.73,1359.11 1983.31,1358.83 1983.89,1359.45 1984.46,1358.72 1985.04,1359.86 1985.62,1358.65 1986.2,1359.29 1986.77,1358.69 1987.35,1359.4 1987.93,1358.54 1988.51,1358.97 1989.08,1359.42 1989.66,1358.32 1990.24,1358.93 1990.82,1359.26 1991.39,1358.77 1991.97,1358.85 1992.55,1359.42 1993.13,1359.52 1993.71,1358.18 1994.28,1358.56 1994.86,1357.6 1995.44,1359.01 1996.02,1359.37 1996.59,1358.55 1997.17,1358.36 1997.75,1359.26 1998.33,1358.73 1998.9,1360.14 1999.48,1359.82 2000.06,1357.99 2000.64,1359.38 2001.21,1359.36 2001.79,1359.38 2002.37,1358.96 2002.95,1358.16 2003.52,1359.01 2004.1,1358.63 2004.68,1359.88 2005.26,1359.19 2005.83,1359.52 2006.41,1358.18 2006.99,1358.67 2007.57,1358.42 2008.14,1357.9 2008.72,1357.93 2009.3,1357.07 2009.88,1357.67 2010.45,1356.74 2011.03,1356.9 2011.61,1356.63 2012.19,1355.89 2012.76,1355.34 2013.34,1356.03 2013.92,1356.05 2014.5,1355.54 2015.07,1356.71 2015.65,1355.09 2016.23,1357.02 2016.81,1357.58 2017.38,1357.65 2017.96,1357.04 2018.54,1358.19 2019.12,1358.9 2019.69,1358.68 2020.27,1357.89 2020.85,1358.72 2021.43,1359.7 2022,1359.47 2022.58,1359.62 2023.16,1358.78 2023.74,1359.24 2024.31,1358.81 2024.89,1358.77 2025.47,1358.22 2026.05,1358.8 2026.63,1359.32 2027.2,1358.79 2027.78,1357.65 2028.36,1358.9 2028.94,1357.85 2029.51,1358.59 2030.09,1357.64 2030.67,1358.64 2031.25,1357.28 2031.82,1357.47 2032.4,1355.51 2032.98,1355.48 2033.56,1354.87 2034.13,1353.21 2034.71,1352.89 2035.29,1352.29 2035.87,1352.3 2036.44,1352.3 2037.02,1351.72 2037.6,1353.91 2038.18,1354.39 2038.75,1354.53 2039.33,1356.18 2039.91,1356.23 2040.49,1356.64 2041.06,1356.72 2041.64,1356.4 2042.22,1358.3 2042.8,1358.98 2043.37,1358.86 2043.95,1358.98 2044.53,1359.8 2045.11,1357.99 2045.68,1359.24 2046.26,1360 2046.84,1358.86 2047.42,1360.03 2047.99,1358.82 2048.57,1358.7 2049.15,1357.98 2049.73,1359.37 2050.3,1359.52 2050.88,1359.4 2051.46,1359.21 2052.04,1359.51 2052.61,1359.01 2053.19,1358.17 2053.77,1359.27 2054.35,1359.42 2054.92,1360.62 2055.5,1358.87 2056.08,1359.18 2056.66,1358.13 2057.23,1358.1 2057.81,1358.43 2058.39,1359.86 2058.97,1359.11 2059.54,1359.06 2060.12,1358.71 2060.7,1359.09 2061.28,1359.4 2061.86,1359.2 2062.43,1358.77 2063.01,1358.83 2063.59,1358.82 2064.17,1358.83 2064.74,1358.43 2065.32,1357.78 2065.9,1356.78 2066.48,1357.13 2067.05,1356.49 2067.63,1355.75 2068.21,1354.83 2068.79,1353.67 2069.36,1354.18 2069.94,1352.7 2070.52,1352.76 2071.1,1352.61 2071.67,1352.56 2072.25,1354.26 2072.83,1353.76 2073.41,1355.37 2073.98,1355.86 2074.56,1356.74 2075.14,1356.71 2075.72,1358.26 2076.29,1358.76 2076.87,1358.7 2077.45,1358.24 2078.03,1357.92 2078.6,1359.87 2079.18,1357.75 2079.76,1358.23 2080.34,1359.13 2080.91,1359.26 2081.49,1358.36 2082.07,1359.29 2082.65,1358.28 2083.22,1359.47 2083.8,1359.32 2084.38,1359.11 2084.96,1359.72 2085.53,1359.33 2086.11,1357.87 2086.69,1359.6 2087.27,1359.33 2087.84,1359.72 2088.42,1359.07 2089,1359.63 2089.58,1359.03 2090.15,1359.47 2090.73,1359.73 2091.31,1358.94 2091.89,1358.89 2092.46,1359.28 2093.04,1359.69 2093.62,1359.46 2094.2,1359.35 2094.78,1359.64 2095.35,1359.47 2095.93,1358.7 2096.51,1360 2097.09,1359.97 2097.66,1359.85 2098.24,1358.34 2098.82,1359.95 2099.4,1358.67 2099.97,1359.26 2100.55,1359.16 2101.13,1360.16 2101.71,1359.79 2102.28,1359.25 2102.86,1359.51 2103.44,1358.91 2104.02,1358.65 2104.59,1359.59 2105.17,1359.65 2105.75,1359.24 2106.33,1360.07 2106.9,1360.19 2107.48,1358.95 2108.06,1359.33 2108.64,1359.43 2109.21,1358.09 2109.79,1359.73 2110.37,1359.58 2110.95,1359.18 2111.52,1358.86 2112.1,1358.53 2112.68,1359.31 2113.26,1357.99 2113.83,1358.28 2114.41,1357.7 2114.99,1358.12 2115.57,1357.86 2116.14,1356.81 2116.72,1356.5 2117.3,1355.72 2117.88,1355.84 2118.45,1356.8 2119.03,1357.13 2119.61,1357.24 2120.19,1356.92 2120.76,1357.37 2121.34,1356.6 2121.92,1358.32 2122.5,1357.21 2123.07,1357.68 2123.65,1358.3 2124.23,1359.45 2124.81,1358.32 2125.38,1359.35 2125.96,1360.1 2126.54,1359.46 2127.12,1359.4 2127.7,1358.44 2128.27,1358.93 2128.85,1358.2 2129.43,1359.47 2130.01,1359.44 2130.58,1359.92 2131.16,1359.18 2131.74,1359.34 2132.32,1358.69 2132.89,1359.4 2133.47,1359.85 2134.05,1359.46 2134.63,1359.64 2135.2,1359.25 2135.78,1359.47 2136.36,1359.28 2136.94,1358.75 2137.51,1359.18 2138.09,1359.63 2138.67,1359.42 2139.25,1359.17 2139.82,1358.76 2140.4,1359.52 2140.98,1358.94 2141.56,1359.12 2142.13,1359.58 2142.71,1359.82 2143.29,1358.92 2143.87,1359.01 2144.44,1359.64 2145.02,1359.07 2145.6,1360.16 2146.18,1359.76 2146.75,1359.27 2147.33,1358.62 2147.91,1359.67 2148.49,1359.31 2149.06,1358.38 2149.64,1358.71 2150.22,1359.09 2150.8,1359.55 2151.37,1358.09 2151.95,1359.09 2152.53,1359.22 2153.11,1360.36 2153.68,1359.27 2154.26,1359.24 2154.84,1359.09 2155.42,1359.28 2155.99,1359.42 2156.57,1358.96 2157.15,1359.33 2157.73,1360.08 2158.3,1358.9 2158.88,1359.37 2159.46,1360.06 2160.04,1358.58 2160.62,1358.96 2161.19,1358.6 2161.77,1359.39 2162.35,1359.51 2162.93,1359.11 2163.5,1358.82 2164.08,1358.76 2164.66,1358.86 2165.24,1359.33 2165.81,1358.87 2166.39,1359.43 2166.97,1359.63 2167.55,1358.3 2168.12,1359.28 2168.7,1358.97 2169.28,1358.07 2169.86,1356.64 2170.43,1357.13 2171.01,1357.73 2171.59,1355.85 2172.17,1356.97 2172.74,1354.94 2173.32,1354.45 2173.9,1352.53 2174.48,1350.9 2175.05,1349.16 2175.63,1346 2176.21,1343.95 2176.79,1341.26 2177.36,1339.75 2177.94,1337.28 2178.52,1338.47 2179.1,1338.94 2179.67,1338.97 2180.25,1341.23 2180.83,1344.19 2181.41,1347.2 2181.98,1349.69 2182.56,1351.77 2183.14,1353.58 2183.72,1354.44 2184.29,1354.9 2184.87,1355.83 2185.45,1356.72 2186.03,1356.93 2186.6,1358.99 2187.18,1357.69 2187.76,1358.78 2188.34,1358.67 2188.91,1357.92 2189.49,1357.73 2190.07,1358.37 2190.65,1358.79 2191.22,1358.5 2191.8,1359.33 2192.38,1358.44 2192.96,1358.47 2193.53,1359.02 2194.11,1359.99 2194.69,1359.38 2195.27,1359.97 2195.85,1358.76 2196.42,1359.62 2197,1359.31 2197.58,1360.42 2198.16,1358.89 2198.73,1359.25 2199.31,1358.68 2199.89,1358.53 2200.47,1359.59 2201.04,1359.49 2201.62,1358.68 2202.2,1359.76 2202.78,1359.19 2203.35,1359.27 2203.93,1360.3 2204.51,1359.72 2205.09,1359.92 2205.66,1360.17 2206.24,1359.51 2206.82,1359.18 2207.4,1360.16 2207.97,1360.3 2208.55,1358.55 2209.13,1358.9 2209.71,1358.94 2210.28,1358.93 2210.86,1360.1 2211.44,1359.23 2212.02,1359.27 2212.59,1359.53 2213.17,1359.74 2213.75,1359.41 2214.33,1359.62 2214.9,1358.66 2215.48,1359.47 2216.06,1358.97 2216.64,1359.4 2217.21,1360.12 2217.79,1359.62 2218.37,1359.37 2218.95,1360.12 2219.52,1360.39 2220.1,1359.74 2220.68,1359.02 2221.26,1360.22 2221.83,1359.44 2222.41,1358.91 2222.99,1359.67 2223.57,1359.02 2224.14,1359.05 2224.72,1358.71 2225.3,1358.78 2225.88,1359.68 2226.45,1357.93 2227.03,1359.62 2227.61,1359.75 2228.19,1359.68 2228.77,1359.26 2229.34,1358.63 2229.92,1359.26 2230.5,1359.63 2231.08,1360.01 2231.65,1359.34 2232.23,1358.21 2232.81,1358.86 2233.39,1358.66 2233.96,1359.6 2234.54,1359.45 2235.12,1359.31 2235.7,1359.11 2236.27,1358.24 2236.85,1359.07 2237.43,1359.79 2238.01,1358.66 2238.58,1358.73 2239.16,1358.45 2239.74,1358.96 2240.32,1359.37 2240.89,1358.19 2241.47,1359.4 2242.05,1358.64 2242.63,1360.41 2243.2,1359 2243.78,1359.4 2244.36,1358.24 2244.94,1359.72 2245.51,1359.25 2246.09,1358.98 2246.67,1360 2247.25,1359.14 2247.82,1358.98 2248.4,1359.99 2248.98,1358.94 2249.56,1359.53 2250.13,1358.83 2250.71,1358.58 2251.29,1360.02 2251.87,1359.37 2252.44,1359.72 2253.02,1359.66 2253.6,1359.18 2254.18,1359.38 2254.75,1358.83 2255.33,1358.8 2255.91,1359.25 2256.49,1357.88 2257.06,1358.93 2257.64,1358.38 2258.22,1358.87 2258.8,1358.24 2259.37,1359.49 2259.95,1359.08 2260.53,1358.29 2261.11,1358.96 2261.69,1357.44 2262.26,1357.63 2262.84,1358.67 2263.42,1359.18 2264,1358.15 2264.57,1358.5 2265.15,1358.1 2265.73,1358.79 2266.31,1357.51 2266.88,1356.83 2267.46,1357.19 2268.04,1357.59 2268.62,1357.79 2269.19,1357.06 2269.77,1358 2270.35,1356.53 2270.93,1357.48 2271.5,1356.82 2272.08,1357.18 2272.66,1357.15 2273.24,1358.12 2273.81,1358.48 2274.39,1356.48 2274.97,1357.58 2275.55,1358.05 2276.12,1357.48 2276.7,1357.99 2277.28,1358.12 2277.86,1358.7 2278.43,1357.92 2279.01,1358.88 2279.59,1358.42 2280.17,1358.64 2280.74,1358.33 2281.32,1358.69 2281.9,1358.86 2282.48,1360.26 2283.05,1359.46 2283.63,1359.19 2284.21,1359.09 2284.79,1358.63 2285.36,1359.69 2285.94,1358.47 2286.52,1358.74 2287.1,1359.63 2287.67,1358.86 2288.25,1358.67 2288.83,1360.7 2289.41,1358.67 2289.98,1359.04 2290.56,1358.51 2291.14,1359.34 2291.72,1359.83 2292.29,1360.7 2292.87,1360 2293.45,1359.6 2294.03,1359.3 2294.61,1359.96 2295.18,1359.28 2295.76,1359.67 2296.34,1358.56 2296.92,1359.65 2297.49,1358.6 2298.07,1359.16 2298.65,1358.36 2299.23,1358.66 2299.8,1360.18 2300.38,1359.52 2300.96,1358.82 2301.54,1360.03 2302.11,1358.23 2302.69,1359.31 2303.27,1358.66 2303.85,1359.68 2304.42,1359.83 2305,1359.19 2305.58,1359.14 2306.16,1358.99 2306.73,1359.92 2307.31,1359.5 2307.89,1360.45 2308.47,1359.55 2309.04,1359.47 2309.62,1358.82 2310.2,1358.8 2310.78,1359.76 2311.35,1359.22 2311.93,1359.95 2312.51,1359.72 2313.09,1359.06 2313.66,1359.16 2314.24,1359.98 2314.82,1359.89 2315.4,1359.88 2315.97,1358.92 2316.55,1359.51 2317.13,1358.97 2317.71,1360.67 2318.28,1359.24 2318.86,1359.41 2319.44,1359.26 2320.02,1358.94 2320.59,1359.71 2321.17,1359.1 2321.75,1359.47 2322.33,1359.69 2322.9,1359.43 2323.48,1359.2 2324.06,1359.78 2324.64,1359.42 2325.21,1358.73 2325.79,1358.15 2326.37,1358.7 2326.95,1359.41 2327.52,1360.06 2328.1,1358.99 2328.68,1359.42 2329.26,1358.75 2329.84,1359.78 2330.41,1360.32 2330.99,1358.86 2331.57,1359.36 2332.15,1360.5 2332.72,1359.1 2333.3,1358.89 2333.88,1359.36 2334.46,1359.55 2335.03,1359.24 2335.61,1359.34 2336.19,1359.98 2336.77,1358.86 2337.34,1360 2337.92,1359.03 2338.5,1359.89 2339.08,1360.06 2339.65,1359.43 2340.23,1359.12 2340.81,1358.76 2341.39,1358.6 2341.96,1359.76 2342.54,1358.42 2343.12,1359.36 2343.7,1359.14 2344.27,1359.9 2344.85,1359.06 2345.43,1360.08 2346.01,1359.29 2346.58,1360.5 2347.16,1359.17 2347.74,1359.15 2348.32,1358.82 2348.89,1360.02 2349.47,1359.13 2350.05,1359.91 2350.63,1359.14 2351.2,1358.61 2351.78,1360.13 2352.36,1360.02 2352.94,1359.15 2353.51,1359.89 2354.09,1358.33 2354.67,1359.79 2355.25,1359.2 2355.82,1359.52 2356.4,1359.23 2356.98,1359.46 2357.56,1359.25 2358.13,1359.1 2358.71,1359.31 2359.29,1359.48 2359.87,1359.85 2360.44,1359.49 2361.02,1359.03 2361.6,1359.28" fill="none" stroke="#FF7F0E" stroke-width="4.9" stroke-linejoin="round" stroke-linecap="round"/>
<polyline points="1322.6,1589.36 1323.18,1590.54 1323.76,1588.8 1324.33,1589.56 1324.91,1588.8 1325.49,1589.69 1326.07,1589.06 1326.64,1589.35 1327.22,1588.99 1327.8,1589.75 1328.38,1589.93 1328.95,1589.57 1329.53,1589.66 1330.11,1589.39 1330.69,1587.49 1331.26,1588.54 1331.84,1589.25 1332.42,1588.83 1333,1588.24 1333.57,1587.91 1334.15,1588.6 1334.73,1589.86 1335.31,1588.45 1335.88,1589.57 1336.46,1588.48 1337.04,1589.32 1337.62,1589.12 1338.19,1588.33 1338.77,1588.41 1339.35,1588.42 1339.93,1589.09 1340.5,1587.9 1341.08,1588.7 1341.66,1588.36 1342.24,1589.63 1342.81,1588 1343.39,1588.86 1343.97,1588.76 1344.55,1589.43 1345.12,1589.19 1345.7,1587.77 1346.28,1589.55 1346.86,1588.38 1347.43,1588.85 1348.01,1587.27 1348.59,1589.38 1349.17,1588.61 1349.74,1588.61 1350.32,1588.31 1350.9,1589.2 1351.48,1586.95 1352.05,1588.42 1352.63,1587.99 1353.21,1588.42 1353.79,1589.3 1354.36,1587.95 1354.94,1588.38 1355.52,1587.79 1356.1,1588.9 1356.68,1588.43 1357.25,1589.13 1357.83,1589.49 1358.41,1587.24 1358.99,1587.44 1359.56,1588.12 1360.14,1588.56 1360.72,1588.05 1361.3,1588.86 1361.87,1588.49 1362.45,1587.76 1363.03,1588.52 1363.61,1588 1364.18,1587.85 1364.76,1588.44 1365.34,1588.4 1365.92,1588.97 1366.49,1587.77 1367.07,1587.69 1367.65,1588.98 1368.23,1588.49 1368.8,1588.58 1369.38,1588.54 1369.96,1587.82 1370.54,1588.02 1371.11,1588.9 1371.69,1588.81 1372.27,1588.65 1372.85,1589.24 1373.42,1589.64 1374,1588.76 1374.58,1589.23 1375.16,1589.46 1375.73,1588.86 1376.31,1588.84 1376.89,1588.34 1377.47,1589.58 1378.04,1589.25 1378.62,1589.11 1379.2,1588.71 1379.78,1589.67 1380.35,1588.24 1380.93,1589.54 1381.51,1589.8 1382.09,1589.16 1382.66,1588.67 1383.24,1588.69 1383.82,1589.75 1384.4,1589.24 1384.97,1589.76 1385.55,1588.99 1386.13,1588.75 1386.71,1590.99 1387.28,1588.97 1387.86,1589.95 1388.44,1590.18 1389.02,1589.61 1389.59,1589.8 1390.17,1589.9 1390.75,1590.71 1391.33,1589.76 1391.91,1590.13 1392.48,1590.81 1393.06,1589.36 1393.64,1589.29 1394.22,1590.06 1394.79,1589.93 1395.37,1590.62 1395.95,1590.6 1396.53,1590.17 1397.1,1590.61 1397.68,1590.14 1398.26,1591.71 1398.84,1590.99 1399.41,1590.33 1399.99,1591.85 1400.57,1590.58 1401.15,1591.01 1401.72,1590.1 1402.3,1589.99 1402.88,1591.58 1403.46,1590.46 1404.03,1590.19 1404.61,1590.34 1405.19,1591.25 1405.77,1590.56 1406.34,1590.34 1406.92,1589.47 1407.5,1590.47 1408.08,1591.07 1408.65,1590.71 1409.23,1590.67 1409.81,1592.22 1410.39,1591.43 1410.96,1590.86 1411.54,1591.47 1412.12,1590.69 1412.7,1591.59 1413.27,1592.16 1413.85,1591.21 1414.43,1592.08 1415.01,1591.16 1415.58,1590.71 1416.16,1591.31 1416.74,1591.39 1417.32,1592.01 1417.89,1591.64 1418.47,1591.23 1419.05,1591.41 1419.63,1591.66 1420.2,1591.98 1420.78,1591.17 1421.36,1591.41 1421.94,1591.75 1422.51,1591.32 1423.09,1592.47 1423.67,1591.91 1424.25,1591.32 1424.83,1591.51 1425.4,1592.61 1425.98,1591.76 1426.56,1591.53 1427.14,1592.46 1427.71,1592.72 1428.29,1591.25 1428.87,1592.3 1429.45,1593.17 1430.02,1593.44 1430.6,1592.87 1431.18,1592.68 1431.76,1591.69 1432.33,1592.78 1432.91,1592.13 1433.49,1592.25 1434.07,1592.85 1434.64,1592.1 1435.22,1592.29 1435.8,1593.58 1436.38,1592.97 1436.95,1591.7 1437.53,1592.21 1438.11,1592 1438.69,1592.83 1439.26,1592.1 1439.84,1592.66 1440.42,1592.78 1441,1593.05 1441.57,1592.87 1442.15,1592.95 1442.73,1592.83 1443.31,1592.4 1443.88,1593.4 1444.46,1592.95 1445.04,1592.53 1445.62,1592.25 1446.19,1593.06 1446.77,1593.57 1447.35,1593.15 1447.93,1592.36 1448.5,1592.83 1449.08,1592.52 1449.66,1592.92 1450.24,1593.56 1450.81,1593.23 1451.39,1593.11 1451.97,1592.87 1452.55,1592.95 1453.12,1593.27 1453.7,1592.19 1454.28,1592.99 1454.86,1592.17 1455.43,1593.81 1456.01,1592.69 1456.59,1593.77 1457.17,1592.46 1457.75,1594.24 1458.32,1593.76 1458.9,1593.48 1459.48,1593.21 1460.06,1593.24 1460.63,1593.24 1461.21,1593.93 1461.79,1593.76 1462.37,1593.97 1462.94,1593.23 1463.52,1593.35 1464.1,1592.62 1464.68,1592.48 1465.25,1593.62 1465.83,1593.19 1466.41,1593.61 1466.99,1593.47 1467.56,1593.4 1468.14,1593.54 1468.72,1592.49 1469.3,1593.44 1469.87,1593.75 1470.45,1593.58 1471.03,1593.78 1471.61,1592.49 1472.18,1594.04 1472.76,1593.95 1473.34,1593.95 1473.92,1593.79 1474.49,1593.95 1475.07,1594.19 1475.65,1593.49 1476.23,1593.66 1476.8,1594 1477.38,1593.01 1477.96,1594.05 1478.54,1593.35 1479.11,1593.48 1479.69,1593.39 1480.27,1593.9 1480.85,1593.13 1481.42,1594.47 1482,1593.49 1482.58,1593.37 1483.16,1594.61 1483.73,1593.8 1484.31,1592.96 1484.89,1593.87 1485.47,1594.28 1486.04,1594.61 1486.62,1594.38 1487.2,1593.84 1487.78,1595.25 1488.35,1593.83 1488.93,1592.99 1489.51,1594.94 1490.09,1594.67 1490.67,1594.43 1491.24,1595.22 1491.82,1594.45 1492.4,1593.96 1492.98,1594.18 1493.55,1593.53 1494.13,1594.22 1494.71,1593.55 1495.29,1593.5 1495.86,1593.16 1496.44,1593.96 1497.02,1594.3 1497.6,1593.72 1498.17,1593.04 1498.75,1593.44 1499.33,1593.88 1499.91,1593.79 1500.48,1593.65 1501.06,1593.31 1501.64,1594.86 1502.22,1594.01 1502.79,1594.16 1503.37,1594.04 1503.95,1593.37 1504.53,1594.68 1505.1,1593.69 1505.68,1593.86 1506.26,1593.63 1506.84,1593.31 1507.41,1594.02 1507.99,1593.5 1508.57,1593.97 1509.15,1594.16 1509.72,1594.88 1510.3,1593.22 1510.88,1594.81 1511.46,1594.91 1512.03,1593.74 1512.61,1594.12 1513.19,1594.62 1513.77,1593.47 1514.34,1594.9 1514.92,1593.22 1515.5,1594.33 1516.08,1594.07 1516.65,1593.54 1517.23,1593.6 1517.81,1593.99 1518.39,1593.79 1518.96,1593.86 1519.54,1593.78 1520.12,1594.4 1520.7,1594.14 1521.27,1594.07 1521.85,1594.19 1522.43,1594.19 1523.01,1594.7 1523.58,1594.05 1524.16,1594.12 1524.74,1593.67 1525.32,1593.3 1525.9,1593.61 1526.47,1593.88 1527.05,1593.29 1527.63,1594.58 1528.21,1593.46 1528.78,1594.05 1529.36,1593.61 1529.94,1594.08 1530.52,1594.38 1531.09,1594.68 1531.67,1593.32 1532.25,1594.5 1532.83,1593.61 1533.4,1594.72 1533.98,1593.19 1534.56,1593.58 1535.14,1593.88 1535.71,1594.58 1536.29,1593.95 1536.87,1594.48 1537.45,1594.09 1538.02,1594.31 1538.6,1593.8 1539.18,1593.71 1539.76,1593.89 1540.33,1593.83 1540.91,1593.59 1541.49,1593.6 1542.07,1592.77 1542.64,1592.9 1543.22,1593.28 1543.8,1593.43 1544.38,1593.02 1544.95,1594.76 1545.53,1593.1 1546.11,1593.83 1546.69,1594.07 1547.26,1593.12 1547.84,1593.82 1548.42,1593.44 1549,1592.95 1549.57,1593.88 1550.15,1593.95 1550.73,1594.82 1551.31,1593.89 1551.88,1592.65 1552.46,1593.75 1553.04,1592.17 1553.62,1592.78 1554.19,1591.53 1554.77,1593.16 1555.35,1592.64 1555.93,1593.45 1556.5,1592.8 1557.08,1591.89 1557.66,1592.17 1558.24,1592.03 1558.82,1590.82 1559.39,1590.5 1559.97,1590.41 1560.55,1588.62 1561.13,1587.81 1561.7,1587.73 1562.28,1585.57 1562.86,1582.06 1563.44,1577.93 1564.01,1567.58 1564.59,1554.03 1565.17,1533.85 1565.75,1508.91 1566.32,1481.23 1566.9,1455.36 1567.48,1439.9 1568.06,1438.56 1568.63,1453.83 1569.21,1477.58 1569.79,1505.06 1570.37,1530.82 1570.94,1550.3 1571.52,1565.52 1572.1,1575.74 1572.68,1581.64 1573.25,1585.21 1573.83,1587.57 1574.41,1588.94 1574.99,1591.07 1575.56,1590.29 1576.14,1590.41 1576.72,1591.81 1577.3,1591.81 1577.87,1591.77 1578.45,1592.96 1579.03,1591.38 1579.61,1592.7 1580.18,1592.45 1580.76,1592.98 1581.34,1593.09 1581.92,1593.21 1582.49,1593.52 1583.07,1592.82 1583.65,1592.98 1584.23,1593.87 1584.8,1593.41 1585.38,1593.26 1585.96,1592.98 1586.54,1593.55 1587.11,1592.97 1587.69,1594.46 1588.27,1595.12 1588.85,1594.06 1589.42,1593.35 1590,1594.35 1590.58,1592.99 1591.16,1594.19 1591.74,1593.79 1592.31,1594.4 1592.89,1593.61 1593.47,1594.04 1594.05,1594.53 1594.62,1593.85 1595.2,1594.75 1595.78,1593.82 1596.36,1593.95 1596.93,1594.86 1597.51,1593.85 1598.09,1594.05 1598.67,1593.7 1599.24,1593.6 1599.82,1594.78 1600.4,1594.28 1600.98,1593.51 1601.55,1593.81 1602.13,1594.11 1602.71,1594.61 1603.29,1594.47 1603.86,1594.37 1604.44,1593.51 1605.02,1595.24 1605.6,1593.86 1606.17,1594.2 1606.75,1593.97 1607.33,1594.82 1607.91,1594.29 1608.48,1594.5 1609.06,1594.1 1609.64,1593.98 1610.22,1594.28 1610.79,1594.47 1611.37,1594.61 1611.95,1594.59 1612.53,1594.65 1613.1,1593.08 1613.68,1594.27 1614.26,1594.44 1614.84,1594.72 1615.41,1593.89 1615.99,1593.5 1616.57,1593.36 1617.15,1593.73 1617.72,1593.36 1618.3,1594.14 1618.88,1594.75 1619.46,1593.64 1620.03,1593.81 1620.61,1593.86 1621.19,1593.61 1621.77,1594.81 1622.34,1593.63 1622.92,1594.68 1623.5,1594 1624.08,1593.45 1624.66,1593.99 1625.23,1593.96 1625.81,1593.43 1626.39,1593.76 1626.97,1594.59 1627.54,1594.2 1628.12,1592.69 1628.7,1594.62 1629.28,1594.48 1629.85,1594.41 1630.43,1595.79 1631.01,1593.2 1631.59,1594.32 1632.16,1594.64 1632.74,1593.14 1633.32,1594.63 1633.9,1594.05 1634.47,1593.59 1635.05,1595.09 1635.63,1594.6 1636.21,1593.65 1636.78,1594.22 1637.36,1593.48 1637.94,1595.58 1638.52,1593.52 1639.09,1594.35 1639.67,1594.05 1640.25,1595.08 1640.83,1594.43 1641.4,1594.46 1641.98,1594.71 1642.56,1594.22 1643.14,1594.77 1643.71,1595.26 1644.29,1595.42 1644.87,1593.04 1645.45,1594.38 1646.02,1594.79 1646.6,1594.5 1647.18,1595.05 1647.76,1594.3 1648.33,1594.88 1648.91,1593.69 1649.49,1593.66 1650.07,1593.38 1650.64,1594.65 1651.22,1594.58 1651.8,1595.13 1652.38,1594.44 1652.95,1594.6 1653.53,1593.97 1654.11,1595.08 1654.69,1594.49 1655.26,1594.44 1655.84,1595.31 1656.42,1593.63 1657,1594.51 1657.57,1594.35 1658.15,1594.58 1658.73,1594.55 1659.31,1594.74 1659.89,1593.48 1660.46,1594.32 1661.04,1593.82 1661.62,1594.31 1662.2,1593.53 1662.77,1594.62 1663.35,1594.51 1663.93,1595.18 1664.51,1593.34 1665.08,1593.65 1665.66,1594.16 1666.24,1594.2 1666.82,1593.26 1667.39,1593.63 1667.97,1593.97 1668.55,1594.58 1669.13,1594.49 1669.7,1594.23 1670.28,1595.19 1670.86,1594.99 1671.44,1594.64 1672.01,1594.42 1672.59,1594.75 1673.17,1594.4 1673.75,1595.28 1674.32,1593.61 1674.9,1594.18 1675.48,1594.24 1676.06,1594.46 1676.63,1593.93 1677.21,1593.32 1677.79,1594.18 1678.37,1595.13 1678.94,1594.02 1679.52,1594.63 1680.1,1594.69 1680.68,1594.41 1681.25,1594.08 1681.83,1594.25 1682.41,1595.14 1682.99,1594.55 1683.56,1594.43 1684.14,1594.2 1684.72,1594.39 1685.3,1595.04 1685.87,1595 1686.45,1594.47 1687.03,1594.47 1687.61,1595.09 1688.18,1595.14 1688.76,1594.64 1689.34,1593.91 1689.92,1593.04 1690.49,1593.62 1691.07,1594.21 1691.65,1594.48 1692.23,1594.14 1692.81,1593.91 1693.38,1594.85 1693.96,1594.21 1694.54,1593.86 1695.12,1593.67 1695.69,1594.66 1696.27,1594.01 1696.85,1594.51 1697.43,1594.43 1698,1594.36 1698.58,1594.27 1699.16,1594.49 1699.74,1593.6 1700.31,1594.52 1700.89,1594.01 1701.47,1593.94 1702.05,1594.21 1702.62,1594.02 1703.2,1594.27 1703.78,1593.89 1704.36,1595.37 1704.93,1593.34 1705.51,1594.24 1706.09,1593.82 1706.67,1593.4 1707.24,1594.27 1707.82,1594.85 1708.4,1593.8 1708.98,1594.8 1709.55,1593.26 1710.13,1594.08 1710.71,1593.44 1711.29,1593.21 1711.86,1593.47 1712.44,1593.41 1713.02,1593.98 1713.6,1594.66 1714.17,1594.14 1714.75,1594.5 1715.33,1593.41 1715.91,1593.02 1716.48,1593.96 1717.06,1593.7 1717.64,1592.08 1718.22,1591.96 1718.79,1591.74 1719.37,1590.55 1719.95,1588.92 1720.53,1588.61 1721.1,1586.12 1721.68,1587.01 1722.26,1584.71 1722.84,1582.85 1723.41,1583.51 1723.99,1583.72 1724.57,1584.3 1725.15,1584.76 1725.73,1585.25 1726.3,1586.82 1726.88,1589.57 1727.46,1589.58 1728.04,1590.25 1728.61,1591.26 1729.19,1591.22 1729.77,1592.34 1730.35,1593.07 1730.92,1592.87 1731.5,1594.36 1732.08,1593.02 1732.66,1594.3 1733.23,1594.01 1733.81,1594.71 1734.39,1594.06 1734.97,1592.87 1735.54,1593.27 1736.12,1594.08 1736.7,1593.52 1737.28,1594.7 1737.85,1593.14 1738.43,1594.49 1739.01,1593.89 1739.59,1594.37 1740.16,1594.61 1740.74,1593.03 1741.32,1593.8 1741.9,1594.39 1742.47,1594.22 1743.05,1593.42 1743.63,1593.89 1744.21,1594.13 1744.78,1593.96 1745.36,1594.52 1745.94,1595.09 1746.52,1594.52 1747.09,1593.51 1747.67,1593.69 1748.25,1594.6 1748.83,1594.78 1749.4,1593.85 1749.98,1593.93 1750.56,1593 1751.14,1594.92 1751.71,1594.21 1752.29,1593.96 1752.87,1594.63 1753.45,1594.49 1754.02,1594.99 1754.6,1593.76 1755.18,1594.36 1755.76,1593.68 1756.33,1594.25 1756.91,1593.97 1757.49,1593.46 1758.07,1593.7 1758.65,1594.55 1759.22,1593.82 1759.8,1594.21 1760.38,1592.96 1760.96,1594.42 1761.53,1592.86 1762.11,1593.95 1762.69,1594.31 1763.27,1595.42 1763.84,1594.36 1764.42,1593.71 1765,1593.93 1765.58,1594.38 1766.15,1594.41 1766.73,1594 1767.31,1594.67 1767.89,1594.54 1768.46,1593.73 1769.04,1594.26 1769.62,1594.44 1770.2,1593.43 1770.77,1593.62 1771.35,1594.21 1771.93,1593.94 1772.51,1594.49 1773.08,1594.37 1773.66,1593.74 1774.24,1594.54 1774.82,1593.98 1775.39,1594.31 1775.97,1595.41 1776.55,1593.4 1777.13,1592.85 1777.7,1594.15 1778.28,1593.17 1778.86,1592.99 1779.44,1593.73 1780.01,1592.64 1780.59,1591.17 1781.17,1592.65 1781.75,1591.08 1782.32,1589.9 1782.9,1589.52 1783.48,1588.2 1784.06,1586.38 1784.63,1585.94 1785.21,1583.57 1785.79,1583.44 1786.37,1582.66 1786.94,1583.35 1787.52,1584.01 1788.1,1584.35 1788.68,1585.83 1789.25,1588.42 1789.83,1589.21 1790.41,1590.34 1790.99,1591.37 1791.56,1591.76 1792.14,1591.38 1792.72,1592.42 1793.3,1592.88 1793.88,1593.31 1794.45,1592.26 1795.03,1594.39 1795.61,1593.31 1796.19,1594.17 1796.76,1592.59 1797.34,1594.07 1797.92,1593.44 1798.5,1594.59 1799.07,1593.56 1799.65,1594.69 1800.23,1594.71 1800.81,1593.45 1801.38,1593.54 1801.96,1593.69 1802.54,1594.09 1803.12,1594.27 1803.69,1593.6 1804.27,1593.89 1804.85,1594.08 1805.43,1594.47 1806,1593.69 1806.58,1594.33 1807.16,1594.45 1807.74,1594.72 1808.31,1593.8 1808.89,1594.89 1809.47,1595.01 1810.05,1594.41 1810.62,1594.24 1811.2,1594.52 1811.78,1594 1812.36,1594.2 1812.93,1594.75 1813.51,1594.08 1814.09,1594.11 1814.67,1594.16 1815.24,1594.32 1815.82,1594.79 1816.4,1594.77 1816.98,1593.51 1817.55,1594.24 1818.13,1594.17 1818.71,1594.67 1819.29,1594.82 1819.86,1594.02 1820.44,1593.97 1821.02,1593.12 1821.6,1594.5 1822.17,1594.42 1822.75,1594.14 1823.33,1593.45 1823.91,1594.08 1824.48,1593.88 1825.06,1593.67 1825.64,1593.95 1826.22,1593.17 1826.8,1593.57 1827.37,1592.44 1827.95,1594.03 1828.53,1594.81 1829.11,1592.76 1829.68,1593.9 1830.26,1593.45 1830.84,1593 1831.42,1593.45 1831.99,1591.87 1832.57,1592.34 1833.15,1591.32 1833.73,1590.83 1834.3,1589.27 1834.88,1589.33 1835.46,1588.98 1836.04,1588.15 1836.61,1586.79 1837.19,1588.38 1837.77,1588.32 1838.35,1588.87 1838.92,1589.83 1839.5,1589.88 1840.08,1591.48 1840.66,1591.77 1841.23,1591.95 1841.81,1592.56 1842.39,1593.43 1842.97,1594.48 1843.54,1593.13 1844.12,1592.07 1844.7,1593.87 1845.28,1593.3 1845.85,1593.68 1846.43,1593.6 1847.01,1594.19 1847.59,1594 1848.16,1593.5 1848.74,1593.78 1849.32,1593.56 1849.9,1593.85 1850.47,1593.92 1851.05,1594.48 1851.63,1593.26 1852.21,1594.72 1852.78,1593.45 1853.36,1594.32 1853.94,1595.43 1854.52,1593.98 1855.09,1594.79 1855.67,1594.22 1856.25,1593.8 1856.83,1594.79 1857.4,1593.26 1857.98,1594.39 1858.56,1593.92 1859.14,1594.49 1859.72,1594.52 1860.29,1594.29 1860.87,1593.98 1861.45,1594.59 1862.03,1593.3 1862.6,1594.5 1863.18,1594.61 1863.76,1593.63 1864.34,1594.03 1864.91,1594.16 1865.49,1594.6 1866.07,1593.94 1866.65,1593.68 1867.22,1593.56 1867.8,1593.2 1868.38,1592.68 1868.96,1594.38 1869.53,1594.2 1870.11,1593.95 1870.69,1593.19 1871.27,1593.87 1871.84,1593.95 1872.42,1593.04 1873,1593.14 1873.58,1591.99 1874.15,1592.58 1874.73,1592.97 1875.31,1592.18 1875.89,1591.45 1876.46,1590.32 1877.04,1588.49 1877.62,1586.63 1878.2,1584.84 1878.77,1582.82 1879.35,1579.98 1879.93,1577.57 1880.51,1573.39 1881.08,1571.73 1881.66,1568.48 1882.24,1568.25 1882.82,1568.61 1883.39,1570.85 1883.97,1572.69 1884.55,1575.74 1885.13,1579.02 1885.7,1581.37 1886.28,1584.88 1886.86,1586.18 1887.44,1588.08 1888.01,1590.01 1888.59,1590.56 1889.17,1591.11 1889.75,1592.32 1890.32,1592.54 1890.9,1592.32 1891.48,1593.56 1892.06,1592.59 1892.64,1593.82 1893.21,1593.74 1893.79,1593.3 1894.37,1593.16 1894.95,1593.77 1895.52,1592.37 1896.1,1592.72 1896.68,1594.25 1897.26,1593.21 1897.83,1593.92 1898.41,1594.09 1898.99,1593.19 1899.57,1594.27 1900.14,1592.94 1900.72,1593.66 1901.3,1593.61 1901.88,1592.57 1902.45,1594.4 1903.03,1592.89 1903.61,1593.07 1904.19,1594.15 1904.76,1593.02 1905.34,1593.8 1905.92,1593.4 1906.5,1593.38 1907.07,1593.14 1907.65,1593.41 1908.23,1593.64 1908.81,1593.82 1909.38,1593.17 1909.96,1594.11 1910.54,1593.53 1911.12,1593.92 1911.69,1593.18 1912.27,1592.78 1912.85,1594.81 1913.43,1593.07 1914,1594.21 1914.58,1593.73 1915.16,1593.27 1915.74,1592.98 1916.31,1592.93 1916.89,1593.73 1917.47,1592.64 1918.05,1593.22 1918.62,1592.59 1919.2,1592.42 1919.78,1592.14 1920.36,1591.49 1920.93,1592.23 1921.51,1591.93 1922.09,1591.2 1922.67,1589.75 1923.24,1589.12 1923.82,1588.15 1924.4,1588 1924.98,1586.2 1925.55,1584.96 1926.13,1584.21 1926.71,1583.12 1927.29,1582.09 1927.87,1581.81 1928.44,1580.68 1929.02,1582.2 1929.6,1581.58 1930.18,1582.14 1930.75,1584.25 1931.33,1583.96 1931.91,1585.42 1932.49,1585.68 1933.06,1587.66 1933.64,1587.64 1934.22,1588.46 1934.8,1587.81 1935.37,1587.08 1935.95,1588.56 1936.53,1587.87 1937.11,1586.16 1937.68,1585.01 1938.26,1582.56 1938.84,1578.72 1939.42,1574.77 1939.99,1567.84 1940.57,1559.74 1941.15,1548.04 1941.73,1534 1942.3,1517.39 1942.88,1497.74 1943.46,1477.38 1944.04,1458.7 1944.61,1445.21 1945.19,1434.69 1945.77,1435.11 1946.35,1443.4 1946.92,1460.03 1947.5,1476.47 1948.08,1497.39 1948.66,1517.37 1949.23,1533.77 1949.81,1547.26 1950.39,1560.09 1950.97,1568.91 1951.54,1575.77 1952.12,1579.77 1952.7,1583.17 1953.28,1586.17 1953.85,1587.17 1954.43,1587.81 1955.01,1589.27 1955.59,1590.06 1956.16,1590.78 1956.74,1591.34 1957.32,1590.11 1957.9,1591.32 1958.47,1590.67 1959.05,1591.72 1959.63,1593.43 1960.21,1592.23 1960.79,1592.37 1961.36,1591.94 1961.94,1592.31 1962.52,1592.95 1963.1,1593.21 1963.67,1593.06 1964.25,1594.21 1964.83,1592.11 1965.41,1593.58 1965.98,1592.23 1966.56,1593.87 1967.14,1593.34 1967.72,1592.82 1968.29,1593.32 1968.87,1593 1969.45,1593.69 1970.03,1592.61 1970.6,1594.04 1971.18,1593.99 1971.76,1593.5 1972.34,1593.72 1972.91,1594.32 1973.49,1594.61 1974.07,1593.97 1974.65,1594.04 1975.22,1592.77 1975.8,1593.33 1976.38,1593.9 1976.96,1593.62 1977.53,1593.22 1978.11,1593.89 1978.69,1594.74 1979.27,1594.64 1979.84,1592.87 1980.42,1594.09 1981,1593.55 1981.58,1594.48 1982.15,1593.81 1982.73,1594.08 1983.31,1594.22 1983.89,1593.72 1984.46,1593.24 1985.04,1593.11 1985.62,1594.4 1986.2,1593.69 1986.77,1593.9 1987.35,1594.51 1987.93,1594.22 1988.51,1594.72 1989.08,1593.54 1989.66,1594.96 1990.24,1594.36 1990.82,1594.56 1991.39,1595.5 1991.97,1594.55 1992.55,1594.16 1993.13,1594.46 1993.71,1594.38 1994.28,1594.52 1994.86,1594.05 1995.44,1594.61 1996.02,1595.03 1996.59,1593.71 1997.17,1594.66 1997.75,1594.15 1998.33,1594.66 1998.9,1594.08 1999.48,1595.07 2000.06,1594.49 2000.64,1594.02 2001.21,1594.06 2001.79,1594.3 2002.37,1594.79 2002.95,1594.6 2003.52,1595.1 2004.1,1594.13 2004.68,1594.24 2005.26,1594.59 2005.83,1595.72 2006.41,1594.35 2006.99,1594.89 2007.57,1595.03 2008.14,1593.43 2008.72,1594.1 2009.3,1594.46 2009.88,1594.26 2010.45,1594.71 2011.03,1594.64 2011.61,1593.65 2012.19,1593.74 2012.76,1593.84 2013.34,1592.39 2013.92,1593.11 2014.5,1594.19 2015.07,1593.95 2015.65,1593.3 2016.23,1593.83 2016.81,1594.02 2017.38,1593.85 2017.96,1594.82 2018.54,1594.12 2019.12,1592.82 2019.69,1594.55 2020.27,1594.77 2020.85,1594.99 2021.43,1594.42 2022,1594.14 2022.58,1594.86 2023.16,1594.38 2023.74,1593.93 2024.31,1594.32 2024.89,1593.49 2025.47,1594.09 2026.05,1593.01 2026.63,1593.78 2027.2,1594.85 2027.78,1593.08 2028.36,1593.05 2028.94,1592.94 2029.51,1593 2030.09,1591.53 2030.67,1591.18 2031.25,1590.7 2031.82,1589.74 2032.4,1588.25 2032.98,1588.49 2033.56,1587.36 2034.13,1586.78 2034.71,1585.34 2035.29,1584.29 2035.87,1584.38 2036.44,1585.27 2037.02,1585.69 2037.6,1587.36 2038.18,1589.12 2038.75,1589.84 2039.33,1590.6 2039.91,1591.14 2040.49,1592.92 2041.06,1592.69 2041.64,1593.4 2042.22,1595.12 2042.8,1593.14 2043.37,1594.31 2043.95,1594.21 2044.53,1593.51 2045.11,1593.96 2045.68,1593.67 2046.26,1593.62 2046.84,1594.68 2047.42,1593.82 2047.99,1592.91 2048.57,1594.87 2049.15,1594.31 2049.73,1593.66 2050.3,1593.88 2050.88,1594.43 2051.46,1593.91 2052.04,1594.26 2052.61,1594.82 2053.19,1594.2 2053.77,1594.45 2054.35,1594.35 2054.92,1594.24 2055.5,1593.67 2056.08,1594.8 2056.66,1593.74 2057.23,1594.18 2057.81,1593.24 2058.39,1594.04 2058.97,1594.25 2059.54,1593.6 2060.12,1593.66 2060.7,1594.99 2061.28,1594.52 2061.86,1593.54 2062.43,1594.37 2063.01,1593.78 2063.59,1594.12 2064.17,1593.15 2064.74,1593.48 2065.32,1593.22 2065.9,1592.45 2066.48,1591.71 2067.05,1592.4 2067.63,1590.46 2068.21,1590.47 2068.79,1588.87 2069.36,1587.89 2069.94,1587.88 2070.52,1586.47 2071.1,1587.21 2071.67,1588.18 2072.25,1587.67 2072.83,1588.94 2073.41,1590.14 2073.98,1591.19 2074.56,1592.36 2075.14,1592.81 2075.72,1592.75 2076.29,1591.97 2076.87,1593.51 2077.45,1593.64 2078.03,1593.6 2078.6,1593.97 2079.18,1593.32 2079.76,1594.48 2080.34,1594.1 2080.91,1593.33 2081.49,1594.07 2082.07,1594.5 2082.65,1594.16 2083.22,1594.07 2083.8,1594.73 2084.38,1594.25 2084.96,1594.11 2085.53,1594.28 2086.11,1594.15 2086.69,1593.94 2087.27,1594.03 2087.84,1594.65 2088.42,1594.65 2089,1594.33 2089.58,1593.59 2090.15,1594.33 2090.73,1594.71 2091.31,1594.8 2091.89,1593.68 2092.46,1594.69 2093.04,1594.68 2093.62,1594.69 2094.2,1595.23 2094.78,1592.62 2095.35,1593.94 2095.93,1593.84 2096.51,1595.26 2097.09,1594.37 2097.66,1595.07 2098.24,1594.26 2098.82,1594.41 2099.4,1594.11 2099.97,1594.85 2100.55,1594.01 2101.13,1594.38 2101.71,1594.78 2102.28,1594.18 2102.86,1593.47 2103.44,1593.46 2104.02,1593.87 2104.59,1595.25 2105.17,1593.91 2105.75,1594.5 2106.33,1594.82 2106.9,1593.93 2107.48,1594.4 2108.06,1593.84 2108.64,1594.5 2109.21,1594.51 2109.79,1593.43 2110.37,1594.09 2110.95,1593.63 2111.52,1594.11 2112.1,1594.16 2112.68,1593.33 2113.26,1592.52 2113.83,1592.16 2114.41,1592.89 2114.99,1592.22 2115.57,1591.61 2116.14,1590.85 2116.72,1590.3 2117.3,1590.79 2117.88,1590.96 2118.45,1591.94 2119.03,1591.64 2119.61,1591.66 2120.19,1593.31 2120.76,1591.35 2121.34,1592.66 2121.92,1593.84 2122.5,1593.51 2123.07,1593.64 2123.65,1594.14 2124.23,1594.97 2124.81,1594.01 2125.38,1595.28 2125.96,1593.85 2126.54,1593.75 2127.12,1593.69 2127.7,1593.97 2128.27,1593.38 2128.85,1594.42 2129.43,1594.77 2130.01,1594.19 2130.58,1593.77 2131.16,1594.14 2131.74,1594.41 2132.32,1593.68 2132.89,1594.33 2133.47,1595.49 2134.05,1594.29 2134.63,1594.08 2135.2,1593.84 2135.78,1595.04 2136.36,1594.1 2136.94,1594.38 2137.51,1595.49 2138.09,1594.22 2138.67,1594.73 2139.25,1594.68 2139.82,1594.08 2140.4,1593.84 2140.98,1595.48 2141.56,1595.11 2142.13,1594.35 2142.71,1595.72 2143.29,1594.15 2143.87,1594.29 2144.44,1593.77 2145.02,1594.47 2145.6,1594.61 2146.18,1594.12 2146.75,1594.13 2147.33,1593.76 2147.91,1593.7 2148.49,1593.89 2149.06,1594.89 2149.64,1594.32 2150.22,1594.4 2150.8,1595.11 2151.37,1594.88 2151.95,1594.57 2152.53,1594.76 2153.11,1594 2153.68,1594.01 2154.26,1595.24 2154.84,1595.18 2155.42,1594.71 2155.99,1595.11 2156.57,1594.29 2157.15,1594.3 2157.73,1594.14 2158.3,1593.35 2158.88,1593.34 2159.46,1594.08 2160.04,1593.45 2160.62,1593.81 2161.19,1594.94 2161.77,1594.04 2162.35,1593.71 2162.93,1594.25 2163.5,1593.97 2164.08,1593.54 2164.66,1593 2165.24,1594.1 2165.81,1593.62 2166.39,1593.18 2166.97,1592.67 2167.55,1593.28 2168.12,1592.73 2168.7,1592.47 2169.28,1592.92 2169.86,1592.01 2170.43,1592.19 2171.01,1591.71 2171.59,1590.02 2172.17,1589.03 2172.74,1587.52 2173.32,1585.53 2173.9,1583.78 2174.48,1580.83 2175.05,1578.2 2175.63,1575.42 2176.21,1574.09 2176.79,1573 2177.36,1572.98 2177.94,1573.31 2178.52,1575.04 2179.1,1576.82 2179.67,1580.3 2180.25,1583.1 2180.83,1585.23 2181.41,1587 2181.98,1589.49 2182.56,1589.82 2183.14,1590.28 2183.72,1591.38 2184.29,1592.42 2184.87,1592.59 2185.45,1594.16 2186.03,1593.06 2186.6,1593.61 2187.18,1593.01 2187.76,1592.91 2188.34,1594.04 2188.91,1594.13 2189.49,1592.78 2190.07,1594.09 2190.65,1594.2 2191.22,1594.79 2191.8,1593.96 2192.38,1593.65 2192.96,1593.87 2193.53,1594.42 2194.11,1593.44 2194.69,1594.32 2195.27,1594.07 2195.85,1593.82 2196.42,1593.5 2197,1594.08 2197.58,1594.73 2198.16,1594.53 2198.73,1594.83 2199.31,1593.28 2199.89,1594.49 2200.47,1593.95 2201.04,1594.79 2201.62,1594.35 2202.2,1595.28 2202.78,1593.9 2203.35,1594.39 2203.93,1592.76 2204.51,1595.44 2205.09,1593.74 2205.66,1593.8 2206.24,1594.51 2206.82,1595.3 2207.4,1594.03 2207.97,1594.93 2208.55,1593.77 2209.13,1595.07 2209.71,1594.56 2210.28,1594.9 2210.86,1594.75 2211.44,1594.31 2212.02,1594.2 2212.59,1594.84 2213.17,1594.84 2213.75,1595.09 2214.33,1594.76 2214.9,1594.37 2215.48,1594.51 2216.06,1594.25 2216.64,1594.28 2217.21,1594.69 2217.79,1594.8 2218.37,1594.54 2218.95,1594.23 2219.52,1594.7 2220.1,1593.69 2220.68,1594.82 2221.26,1594.75 2221.83,1594.02 2222.41,1594.23 2222.99,1595 2223.57,1594.96 2224.14,1594.37 2224.72,1594.69 2225.3,1593.05 2225.88,1594.93 2226.45,1595.3 2227.03,1594 2227.61,1593.15 2228.19,1594.5 2228.77,1595.04 2229.34,1594.2 2229.92,1595.13 2230.5,1594.75 2231.08,1594.44 2231.65,1594.8 2232.23,1595.06 2232.81,1594.54 2233.39,1593.72 2233.96,1593.54 2234.54,1593.36 2235.12,1593.57 2235.7,1595.1 2236.27,1594.86 2236.85,1593.78 2237.43,1595 2238.01,1593.8 2238.58,1594.6 2239.16,1594.5 2239.74,1594.01 2240.32,1594.23 2240.89,1593.97 2241.47,1594.28 2242.05,1594.85 2242.63,1593.83 2243.2,1594.66 2243.78,1593.71 2244.36,1595.25 2244.94,1593.7 2245.51,1593.55 2246.09,1594.1 2246.67,1594.09 2247.25,1594.1 2247.82,1594.38 2248.4,1593.38 2248.98,1595.05 2249.56,1593.8 2250.13,1593.96 2250.71,1593.74 2251.29,1593.93 2251.87,1594.72 2252.44,1593.99 2253.02,1594.27 2253.6,1595.45 2254.18,1594.57 2254.75,1594.17 2255.33,1593.04 2255.91,1594.17 2256.49,1594.18 2257.06,1593.55 2257.64,1592.59 2258.22,1593.25 2258.8,1592.82 2259.37,1593.84 2259.95,1593.33 2260.53,1593.16 2261.11,1592.45 2261.69,1592.42 2262.26,1593.18 2262.84,1593.12 2263.42,1593.38 2264,1592.69 2264.57,1592.5 2265.15,1592.83 2265.73,1591.95 2266.31,1592.38 2266.88,1592.21 2267.46,1593.06 2268.04,1591.93 2268.62,1592.35 2269.19,1592.77 2269.77,1593.13 2270.35,1592.89 2270.93,1593.25 2271.5,1593.01 2272.08,1592.63 2272.66,1593.39 2273.24,1594.17 2273.81,1593.5 2274.39,1593.6 2274.97,1593.83 2275.55,1594.01 2276.12,1593.88 2276.7,1593.07 2277.28,1594.5 2277.86,1594.97 2278.43,1593.61 2279.01,1593.79 2279.59,1594.32 2280.17,1593.99 2280.74,1593.08 2281.32,1595.35 2281.9,1593.75 2282.48,1595.03 2283.05,1594.09 2283.63,1594.02 2284.21,1593.59 2284.79,1594.28 2285.36,1594.45 2285.94,1595.12 2286.52,1594.39 2287.1,1594.3 2287.67,1594.41 2288.25,1593.95 2288.83,1594.77 2289.41,1595.03 2289.98,1594.42 2290.56,1594.63 2291.14,1594.49 2291.72,1594.13 2292.29,1595.3 2292.87,1593.91 2293.45,1594.85 2294.03,1594.91 2294.61,1593.88 2295.18,1594.86 2295.76,1593.58 2296.34,1594.93 2296.92,1593.56 2297.49,1595.12 2298.07,1594.54 2298.65,1593.43 2299.23,1593.72 2299.8,1593.96 2300.38,1594.06 2300.96,1594.05 2301.54,1594.16 2302.11,1594.44 2302.69,1593.78 2303.27,1594.24 2303.85,1594.39 2304.42,1595.99 2305,1594.56 2305.58,1593.94 2306.16,1594.59 2306.73,1595.23 2307.31,1594.97 2307.89,1594.28 2308.47,1594.97 2309.04,1593.58 2309.62,1594.62 2310.2,1594.94 2310.78,1594.17 2311.35,1595.31 2311.93,1594.41 2312.51,1594.5 2313.09,1593.88 2313.66,1594.45 2314.24,1594.57 2314.82,1594.65 2315.4,1593.98 2315.97,1594.44 2316.55,1594.4 2317.13,1594.75 2317.71,1594.28 2318.28,1594.22 2318.86,1595.98 2319.44,1595.36 2320.02,1593.91 2320.59,1595.13 2321.17,1594.02 2321.75,1594.54 2322.33,1594.5 2322.9,1594.41 2323.48,1594.42 2324.06,1594.3 2324.64,1594.78 2325.21,1595.16 2325.79,1595.36 2326.37,1592.94 2326.95,1595.41 2327.52,1594.26 2328.1,1593.56 2328.68,1594.4 2329.26,1595.78 2329.84,1595.33 2330.41,1595.25 2330.99,1594.08 2331.57,1595.45 2332.15,1595.49 2332.72,1595.44 2333.3,1595.14 2333.88,1594.34 2334.46,1594.08 2335.03,1594.11 2335.61,1594.51 2336.19,1594.52 2336.77,1594.37 2337.34,1594.15 2337.92,1593.47 2338.5,1594.23 2339.08,1594.02 2339.65,1594.83 2340.23,1595.18 2340.81,1594.72 2341.39,1594.91 2341.96,1594.7 2342.54,1594.49 2343.12,1593.93 2343.7,1594.04 2344.27,1594.47 2344.85,1593.77 2345.43,1595 2346.01,1594.39 2346.58,1594.55 2347.16,1594.33 2347.74,1594.05 2348.32,1594.25 2348.89,1594.82 2349.47,1594.83 2350.05,1594.38 2350.63,1594.25 2351.2,1594.54 2351.78,1593.84 2352.36,1594.33 2352.94,1593.77 2353.51,1594.1 2354.09,1594.97 2354.67,1594.59 2355.25,1593.85 2355.82,1594.04 2356.4,1594.55 2356.98,1593.8 2357.56,1594.47 2358.13,1595.29 2358.71,1594.59 2359.29,1595.1 2359.87,1594.48 2360.44,1595.29 2361.02,1594.52 2361.6,1594.48" fill="none" stroke="#70AD47" stroke-width="4.9" stroke-linejoin="round" stroke-linecap="round"/>
<polyline points="1322.6,1741.31 1323.18,1740.34 1323.76,1740.42 1324.33,1740.31 1324.91,1740.62 1325.49,1740.34 1326.07,1741.54 1326.64,1739.67 1327.22,1740.71 1327.8,1739.9 1328.38,1740.37 1328.95,1740.96 1329.53,1739.92 1330.11,1738.96 1330.69,1740.52 1331.26,1740.92 1331.84,1740.14 1332.42,1739.79 1333,1739.79 1333.57,1740.24 1334.15,1739.73 1334.73,1739.03 1335.31,1739.62 1335.88,1739.92 1336.46,1739.9 1337.04,1740.03 1337.62,1740.31 1338.19,1740.83 1338.77,1739.17 1339.35,1740.2 1339.93,1739.71 1340.5,1739.73 1341.08,1738.86 1341.66,1740.23 1342.24,1738.58 1342.81,1739.48 1343.39,1740.87 1343.97,1739.46 1344.55,1740.11 1345.12,1739.21 1345.7,1739.15 1346.28,1739.94 1346.86,1739.98 1347.43,1739.35 1348.01,1739.08 1348.59,1739.31 1349.17,1739.52 1349.74,1739.07 1350.32,1740.18 1350.9,1739.2 1351.48,1739.31 1352.05,1739.09 1352.63,1738.8 1353.21,1739.79 1353.79,1739.14 1354.36,1739.73 1354.94,1739.5 1355.52,1741.04 1356.1,1739.95 1356.68,1740.73 1357.25,1738.39 1357.83,1739.61 1358.41,1739.93 1358.99,1738.95 1359.56,1739.74 1360.14,1739.18 1360.72,1740.41 1361.3,1739.42 1361.87,1739.47 1362.45,1740.82 1363.03,1739.46 1363.61,1738.94 1364.18,1739.83 1364.76,1739.15 1365.34,1738.85 1365.92,1739.8 1366.49,1739.97 1367.07,1738.84 1367.65,1740.22 1368.23,1738.77 1368.8,1739.57 1369.38,1740.33 1369.96,1740.04 1370.54,1739.03 1371.11,1739.52 1371.69,1739.24 1372.27,1738.74 1372.85,1740.22 1373.42,1741.18 1374,1739.33 1374.58,1738.95 1375.16,1739.59 1375.73,1740.18 1376.31,1740.34 1376.89,1739.64 1377.47,1740.73 1378.04,1739.66 1378.62,1740.27 1379.2,1741.53 1379.78,1740.39 1380.35,1740.3 1380.93,1740.58 1381.51,1740.14 1382.09,1740.33 1382.66,1739.8 1383.24,1739.68 1383.82,1739.6 1384.4,1740.74 1384.97,1739.69 1385.55,1740.68 1386.13,1741.84 1386.71,1741.01 1387.28,1740.26 1387.86,1740.83 1388.44,1741.47 1389.02,1740.32 1389.59,1741.39 1390.17,1739.82 1390.75,1740.16 1391.33,1741.42 1391.91,1740.16 1392.48,1741.73 1393.06,1740.69 1393.64,1741.2 1394.22,1740.98 1394.79,1740.49 1395.37,1741.57 1395.95,1741.13 1396.53,1741.73 1397.1,1740.41 1397.68,1739.86 1398.26,1741.28 1398.84,1741.32 1399.41,1741.25 1399.99,1741.77 1400.57,1741.65 1401.15,1740.56 1401.72,1740.77 1402.3,1741.19 1402.88,1741.58 1403.46,1741.55 1404.03,1741.86 1404.61,1740.42 1405.19,1742.29 1405.77,1741.74 1406.34,1742 1406.92,1742.73 1407.5,1742.27 1408.08,1741.68 1408.65,1741.83 1409.23,1742.84 1409.81,1742.23 1410.39,1742.62 1410.96,1742.23 1411.54,1743.34 1412.12,1743.92 1412.7,1742.22 1413.27,1742.39 1413.85,1742.29 1414.43,1742.04 1415.01,1743.86 1415.58,1743.6 1416.16,1741.85 1416.74,1742.2 1417.32,1743.29 1417.89,1742.87 1418.47,1743.5 1419.05,1742.54 1419.63,1743.81 1420.2,1742.11 1420.78,1743.22 1421.36,1742.76 1421.94,1743.08 1422.51,1743.52 1423.09,1742.93 1423.67,1742.98 1424.25,1742.92 1424.83,1744.24 1425.4,1742.44 1425.98,1743.17 1426.56,1743.87 1427.14,1742.73 1427.71,1742.6 1428.29,1743.66 1428.87,1742.45 1429.45,1742.2 1430.02,1743.62 1430.6,1743.4 1431.18,1744.1 1431.76,1743.18 1432.33,1744.16 1432.91,1743.43 1433.49,1743.15 1434.07,1744.44 1434.64,1744.53 1435.22,1743.33 1435.8,1743.66 1436.38,1743.94 1436.95,1744.23 1437.53,1743.92 1438.11,1743.77 1438.69,1744.9 1439.26,1744.26 1439.84,1743.31 1440.42,1743.54 1441,1743.81 1441.57,1744.75 1442.15,1744.83 1442.73,1743.72 1443.31,1745.01 1443.88,1744.64 1444.46,1744.85 1445.04,1744.71 1445.62,1743.9 1446.19,1743.84 1446.77,1745.2 1447.35,1744.04 1447.93,1744.81 1448.5,1745.04 1449.08,1744.43 1449.66,1745.14 1450.24,1745.15 1450.81,1745.74 1451.39,1744.8 1451.97,1744.67 1452.55,1744.75 1453.12,1744.09 1453.7,1744.94 1454.28,1744.33 1454.86,1744.79 1455.43,1745.11 1456.01,1744.9 1456.59,1744.12 1457.17,1745.4 1457.75,1745 1458.32,1744.43 1458.9,1744.88 1459.48,1745.81 1460.06,1744.83 1460.63,1744.85 1461.21,1745.34 1461.79,1745.47 1462.37,1744.92 1462.94,1744.27 1463.52,1744.79 1464.1,1744.43 1464.68,1745.9 1465.25,1745.39 1465.83,1744.95 1466.41,1743.88 1466.99,1744.75 1467.56,1745.79 1468.14,1745.38 1468.72,1744.96 1469.3,1743.36 1469.87,1745.07 1470.45,1744.81 1471.03,1745.75 1471.61,1745.05 1472.18,1745.41 1472.76,1745.83 1473.34,1744.85 1473.92,1744.53 1474.49,1744.78 1475.07,1745.51 1475.65,1746.35 1476.23,1745.71 1476.8,1744.91 1477.38,1746.49 1477.96,1745.09 1478.54,1745.57 1479.11,1745.2 1479.69,1745.91 1480.27,1744.93 1480.85,1745.38 1481.42,1745.87 1482,1745.3 1482.58,1745.45 1483.16,1745.53 1483.73,1744.55 1484.31,1745.56 1484.89,1744.8 1485.47,1745.12 1486.04,1745.1 1486.62,1745.19 1487.2,1745.83 1487.78,1745.08 1488.35,1745.84 1488.93,1745.38 1489.51,1745.15 1490.09,1745.13 1490.67,1745.49 1491.24,1745.57 1491.82,1744.99 1492.4,1745.56 1492.98,1745.27 1493.55,1745.44 1494.13,1745.36 1494.71,1745.36 1495.29,1744.94 1495.86,1746.47 1496.44,1745.99 1497.02,1745.15 1497.6,1745.19 1498.17,1745.23 1498.75,1746.23 1499.33,1744.85 1499.91,1746.03 1500.48,1745.24 1501.06,1745.26 1501.64,1744.81 1502.22,1745.87 1502.79,1746.31 1503.37,1745.88 1503.95,1745.18 1504.53,1744.44 1505.1,1745.33 1505.68,1745.79 1506.26,1744.77 1506.84,1745.66 1507.41,1745.04 1507.99,1744.78 1508.57,1744.78 1509.15,1746.29 1509.72,1745.34 1510.3,1744.7 1510.88,1745.18 1511.46,1744.27 1512.03,1744.62 1512.61,1744.57 1513.19,1745.73 1513.77,1746.15 1514.34,1745.1 1514.92,1746.21 1515.5,1745.01 1516.08,1746.29 1516.65,1745.92 1517.23,1745.77 1517.81,1745.32 1518.39,1743.97 1518.96,1745.52 1519.54,1745.18 1520.12,1745.59 1520.7,1745.89 1521.27,1745.69 1521.85,1745.35 1522.43,1745.85 1523.01,1745.48 1523.58,1745.08 1524.16,1745.86 1524.74,1745.22 1525.32,1745.08 1525.9,1746.08 1526.47,1745.34 1527.05,1745.55 1527.63,1744.77 1528.21,1745.69 1528.78,1746.72 1529.36,1745.72 1529.94,1745.72 1530.52,1744.98 1531.09,1745.92 1531.67,1744.55 1532.25,1744.82 1532.83,1745.48 1533.4,1746.56 1533.98,1745.87 1534.56,1745.13 1535.14,1744.43 1535.71,1745.68 1536.29,1744.32 1536.87,1744.38 1537.45,1745.3 1538.02,1745.29 1538.6,1744.43 1539.18,1744.84 1539.76,1745.42 1540.33,1745.05 1540.91,1745.45 1541.49,1745.72 1542.07,1746.1 1542.64,1746.28 1543.22,1745.72 1543.8,1745.3 1544.38,1745.16 1544.95,1746.65 1545.53,1745.2 1546.11,1745.1 1546.69,1744.71 1547.26,1746.11 1547.84,1745.46 1548.42,1744.66 1549,1743.92 1549.57,1744.57 1550.15,1744.82 1550.73,1744.96 1551.31,1744.28 1551.88,1744.63 1552.46,1745.12 1553.04,1745.56 1553.62,1745.15 1554.19,1744.91 1554.77,1745.83 1555.35,1744.45 1555.93,1744.84 1556.5,1743.45 1557.08,1743.48 1557.66,1743.65 1558.24,1743.29 1558.82,1742.6 1559.39,1742.79 1559.97,1742.78 1560.55,1741.77 1561.13,1742.55 1561.7,1741.25 1562.28,1740.91 1562.86,1738.92 1563.44,1736.32 1564.01,1732.42 1564.59,1725.7 1565.17,1714.76 1565.75,1700.02 1566.32,1679.56 1566.9,1657.44 1567.48,1634.07 1568.06,1615.35 1568.63,1610.43 1569.21,1618.21 1569.79,1636.98 1570.37,1661.34 1570.94,1682.77 1571.52,1702.69 1572.1,1717.36 1572.68,1727.67 1573.25,1733.01 1573.83,1737.18 1574.41,1739.48 1574.99,1740.34 1575.56,1742.04 1576.14,1742.74 1576.72,1742.33 1577.3,1743.7 1577.87,1743.02 1578.45,1743.73 1579.03,1744.11 1579.61,1744.01 1580.18,1744.78 1580.76,1743.75 1581.34,1744.42 1581.92,1744.12 1582.49,1745.84 1583.07,1745.71 1583.65,1744.67 1584.23,1745.14 1584.8,1745.46 1585.38,1744.82 1585.96,1743.84 1586.54,1744.67 1587.11,1744.95 1587.69,1744.65 1588.27,1744.91 1588.85,1745.11 1589.42,1744.99 1590,1745.65 1590.58,1745.78 1591.16,1744.66 1591.74,1744.65 1592.31,1745.8 1592.89,1745.69 1593.47,1746.02 1594.05,1745.08 1594.62,1745.87 1595.2,1745.98 1595.78,1745.56 1596.36,1745.52 1596.93,1746 1597.51,1744.31 1598.09,1745.73 1598.67,1745.68 1599.24,1745.98 1599.82,1746.14 1600.4,1745.52 1600.98,1745.22 1601.55,1745.11 1602.13,1746.13 1602.71,1744.86 1603.29,1745.16 1603.86,1745.29 1604.44,1745.94 1605.02,1744.99 1605.6,1745.3 1606.17,1745.55 1606.75,1745.91 1607.33,1745.52 1607.91,1746.33 1608.48,1745.43 1609.06,1745.82 1609.64,1746.05 1610.22,1745.23 1610.79,1745.81 1611.37,1745.52 1611.95,1745.4 1612.53,1745.52 1613.1,1746.23 1613.68,1744.9 1614.26,1745.67 1614.84,1746.77 1615.41,1744.75 1615.99,1745.86 1616.57,1746.8 1617.15,1745.78 1617.72,1747.14 1618.3,1745.63 1618.88,1746.09 1619.46,1745.62 1620.03,1745.3 1620.61,1746.18 1621.19,1745.96 1621.77,1744.92 1622.34,1745.89 1622.92,1746.16 1623.5,1746.29 1624.08,1746.31 1624.66,1746.15 1625.23,1746.64 1625.81,1745.11 1626.39,1745.22 1626.97,1745.88 1627.54,1746.24 1628.12,1746.12 1628.7,1745.34 1629.28,1745.91 1629.85,1746.22 1630.43,1745.62 1631.01,1745.9 1631.59,1745.96 1632.16,1745.65 1632.74,1746.84 1633.32,1745.72 1633.9,1745.39 1634.47,1746.43 1635.05,1745.43 1635.63,1746.44 1636.21,1745.4 1636.78,1746.2 1637.36,1745.7 1637.94,1745.54 1638.52,1745.67 1639.09,1744.7 1639.67,1744.73 1640.25,1746.27 1640.83,1746.97 1641.4,1745.04 1641.98,1745.38 1642.56,1746.25 1643.14,1745.67 1643.71,1746.11 1644.29,1744.81 1644.87,1746.02 1645.45,1745.29 1646.02,1746.31 1646.6,1745.66 1647.18,1746.1 1647.76,1745.84 1648.33,1745.29 1648.91,1746.62 1649.49,1745.84 1650.07,1746.14 1650.64,1747.1 1651.22,1746.03 1651.8,1745.11 1652.38,1744.61 1652.95,1744.97 1653.53,1746.08 1654.11,1745.05 1654.69,1745.5 1655.26,1745.51 1655.84,1746.13 1656.42,1745.75 1657,1745.71 1657.57,1745.33 1658.15,1745.36 1658.73,1744.86 1659.31,1745.47 1659.89,1746.35 1660.46,1745.4 1661.04,1745.49 1661.62,1744.94 1662.2,1746 1662.77,1745.18 1663.35,1745.87 1663.93,1746.48 1664.51,1745.24 1665.08,1746.48 1665.66,1745.74 1666.24,1745.14 1666.82,1746.45 1667.39,1744.72 1667.97,1746.03 1668.55,1745.62 1669.13,1745.59 1669.7,1745.78 1670.28,1745.01 1670.86,1745.61 1671.44,1745.24 1672.01,1746.26 1672.59,1746.3 1673.17,1745.34 1673.75,1746.1 1674.32,1745.17 1674.9,1745.43 1675.48,1745.92 1676.06,1746.3 1676.63,1745.55 1677.21,1745.45 1677.79,1744.76 1678.37,1746.02 1678.94,1745.74 1679.52,1745.57 1680.1,1745.38 1680.68,1745.64 1681.25,1746.01 1681.83,1745.96 1682.41,1745.57 1682.99,1745.5 1683.56,1745.91 1684.14,1745.32 1684.72,1745.06 1685.3,1745.07 1685.87,1745.39 1686.45,1746.59 1687.03,1746.15 1687.61,1745.3 1688.18,1746.15 1688.76,1746.44 1689.34,1746.4 1689.92,1745.35 1690.49,1746 1691.07,1744.55 1691.65,1745.44 1692.23,1746.01 1692.81,1746.29 1693.38,1745.67 1693.96,1745.34 1694.54,1745.96 1695.12,1744.24 1695.69,1745.12 1696.27,1745.87 1696.85,1745.71 1697.43,1744.5 1698,1745.34 1698.58,1746.29 1699.16,1744.6 1699.74,1745.3 1700.31,1745.96 1700.89,1744.72 1701.47,1746.35 1702.05,1745.53 1702.62,1745.41 1703.2,1746.06 1703.78,1746.12 1704.36,1745.94 1704.93,1745.24 1705.51,1746.65 1706.09,1745.19 1706.67,1745.53 1707.24,1745.23 1707.82,1745.47 1708.4,1745.35 1708.98,1745.89 1709.55,1745.18 1710.13,1745.89 1710.71,1744.59 1711.29,1744.77 1711.86,1745.7 1712.44,1744.59 1713.02,1744.09 1713.6,1744.11 1714.17,1744.04 1714.75,1743.47 1715.33,1743.02 1715.91,1742.09 1716.48,1741.23 1717.06,1740.11 1717.64,1739.84 1718.22,1738.63 1718.79,1736.64 1719.37,1735.57 1719.95,1734 1720.53,1733.89 1721.1,1733.37 1721.68,1733.69 1722.26,1735.69 1722.84,1736.66 1723.41,1738.71 1723.99,1739.01 1724.57,1740.99 1725.15,1741.62 1725.73,1741.75 1726.3,1741.96 1726.88,1743.74 1727.46,1743.96 1728.04,1744.27 1728.61,1744.89 1729.19,1745.15 1729.77,1744.9 1730.35,1745.95 1730.92,1745.61 1731.5,1745.52 1732.08,1744.22 1732.66,1745.59 1733.23,1744.55 1733.81,1745.08 1734.39,1745.43 1734.97,1746.72 1735.54,1745.67 1736.12,1745.15 1736.7,1746.11 1737.28,1745.51 1737.85,1746.29 1738.43,1745.84 1739.01,1745.33 1739.59,1745.31 1740.16,1745.35 1740.74,1745.96 1741.32,1745.58 1741.9,1745.91 1742.47,1745.77 1743.05,1745.61 1743.63,1745.69 1744.21,1745.22 1744.78,1745.7 1745.36,1746.35 1745.94,1745.99 1746.52,1746.05 1747.09,1746.65 1747.67,1745.18 1748.25,1745.92 1748.83,1745.84 1749.4,1745.53 1749.98,1744.93 1750.56,1745.23 1751.14,1745.63 1751.71,1745.36 1752.29,1745 1752.87,1746.11 1753.45,1745.48 1754.02,1745.37 1754.6,1746.52 1755.18,1745.71 1755.76,1745.65 1756.33,1747.03 1756.91,1746.19 1757.49,1745.79 1758.07,1744.88 1758.65,1745.53 1759.22,1745.97 1759.8,1746.72 1760.38,1745.65 1760.96,1745.72 1761.53,1746.06 1762.11,1745.93 1762.69,1745.82 1763.27,1745.44 1763.84,1746.14 1764.42,1746.16 1765,1745.79 1765.58,1745.78 1766.15,1746.58 1766.73,1744.78 1767.31,1744.75 1767.89,1746.08 1768.46,1745.28 1769.04,1746.35 1769.62,1745.06 1770.2,1744.05 1770.77,1745.35 1771.35,1744.92 1771.93,1746.57 1772.51,1745.26 1773.08,1745.48 1773.66,1746.21 1774.24,1745.55 1774.82,1745.68 1775.39,1744.56 1775.97,1745.47 1776.55,1745.22 1777.13,1744.7 1777.7,1744.18 1778.28,1744.47 1778.86,1742.94 1779.44,1742.64 1780.01,1742.01 1780.59,1741.12 1781.17,1740.71 1781.75,1739.06 1782.32,1738.26 1782.9,1737.69 1783.48,1736.1 1784.06,1735.89 1784.63,1736.89 1785.21,1737.56 1785.79,1739.65 1786.37,1740.43 1786.94,1740.58 1787.52,1741.88 1788.1,1741.66 1788.68,1742.39 1789.25,1744.18 1789.83,1744.56 1790.41,1744.69 1790.99,1746.36 1791.56,1745.7 1792.14,1745.34 1792.72,1744.85 1793.3,1745.09 1793.88,1745.39 1794.45,1744.97 1795.03,1744.82 1795.61,1746.16 1796.19,1745.57 1796.76,1744.66 1797.34,1745.07 1797.92,1745.22 1798.5,1745.69 1799.07,1745.47 1799.65,1745.19 1800.23,1745.83 1800.81,1744.16 1801.38,1746.48 1801.96,1746.24 1802.54,1746.28 1803.12,1745.22 1803.69,1745.46 1804.27,1745.77 1804.85,1745.47 1805.43,1745.57 1806,1746.04 1806.58,1745.31 1807.16,1745.88 1807.74,1745.2 1808.31,1746.25 1808.89,1746.03 1809.47,1744.75 1810.05,1745.3 1810.62,1745.69 1811.2,1745.36 1811.78,1745.37 1812.36,1747.1 1812.93,1746.52 1813.51,1745.5 1814.09,1745.78 1814.67,1745.54 1815.24,1745.52 1815.82,1744.94 1816.4,1746.62 1816.98,1746.04 1817.55,1746.56 1818.13,1745.74 1818.71,1747.2 1819.29,1746.64 1819.86,1746.62 1820.44,1744.8 1821.02,1746.83 1821.6,1745.46 1822.17,1744.05 1822.75,1746.31 1823.33,1746.02 1823.91,1745.34 1824.48,1745.35 1825.06,1745.63 1825.64,1745.37 1826.22,1745.66 1826.8,1745.33 1827.37,1745.9 1827.95,1747.64 1828.53,1744.99 1829.11,1745.57 1829.68,1745.61 1830.26,1745.66 1830.84,1745.28 1831.42,1744.84 1831.99,1744.68 1832.57,1743.95 1833.15,1742.71 1833.73,1743.2 1834.3,1742.35 1834.88,1741.7 1835.46,1741.03 1836.04,1739.83 1836.61,1740.4 1837.19,1740.16 1837.77,1741.17 1838.35,1740.77 1838.92,1740.69 1839.5,1741.88 1840.08,1743.13 1840.66,1742.88 1841.23,1744.32 1841.81,1744.34 1842.39,1744.78 1842.97,1745.33 1843.54,1744.91 1844.12,1745.64 1844.7,1746.24 1845.28,1745.44 1845.85,1744.92 1846.43,1745.31 1847.01,1746.15 1847.59,1746.2 1848.16,1745.11 1848.74,1745.81 1849.32,1746.24 1849.9,1745.94 1850.47,1745.89 1851.05,1744.99 1851.63,1745.76 1852.21,1744.88 1852.78,1746.52 1853.36,1745.88 1853.94,1745.58 1854.52,1745.53 1855.09,1745.71 1855.67,1745.32 1856.25,1745.74 1856.83,1745.85 1857.4,1745.01 1857.98,1745.79 1858.56,1744.72 1859.14,1745.29 1859.72,1745.75 1860.29,1745.51 1860.87,1745.29 1861.45,1744.65 1862.03,1746.39 1862.6,1744.54 1863.18,1745.87 1863.76,1744.81 1864.34,1744.51 1864.91,1745.39 1865.49,1745.59 1866.07,1745.39 1866.65,1745.76 1867.22,1745.02 1867.8,1744.93 1868.38,1744.96 1868.96,1744.66 1869.53,1744.74 1870.11,1744.3 1870.69,1744.45 1871.27,1744.45 1871.84,1744.55 1872.42,1743.42 1873,1744.33 1873.58,1744.5 1874.15,1743.6 1874.73,1741.88 1875.31,1742.66 1875.89,1741.66 1876.46,1741.28 1877.04,1738.04 1877.62,1736.89 1878.2,1734.53 1878.77,1730.63 1879.35,1727.84 1879.93,1724.87 1880.51,1722.29 1881.08,1720.33 1881.66,1719.13 1882.24,1718.55 1882.82,1720.26 1883.39,1722.99 1883.97,1727.11 1884.55,1728.65 1885.13,1731.43 1885.7,1735.46 1886.28,1736.74 1886.86,1739.18 1887.44,1739.84 1888.01,1742.15 1888.59,1743.36 1889.17,1742.54 1889.75,1742.36 1890.32,1743.72 1890.9,1744.37 1891.48,1745.1 1892.06,1745.02 1892.64,1744.17 1893.21,1744.99 1893.79,1743.96 1894.37,1744.98 1894.95,1745.11 1895.52,1745.58 1896.1,1745.41 1896.68,1745.28 1897.26,1745.51 1897.83,1744.97 1898.41,1745.63 1898.99,1745.07 1899.57,1745.61 1900.14,1744.03 1900.72,1745.4 1901.3,1745.54 1901.88,1743.58 1902.45,1745.54 1903.03,1745.29 1903.61,1745.6 1904.19,1745.34 1904.76,1744.89 1905.34,1744.89 1905.92,1744.2 1906.5,1744.46 1907.07,1745.56 1907.65,1744.84 1908.23,1744.64 1908.81,1744.85 1909.38,1744.39 1909.96,1746.15 1910.54,1744.63 1911.12,1745.33 1911.69,1744.69 1912.27,1744.36 1912.85,1744.01 1913.43,1745.45 1914,1744.86 1914.58,1744.83 1915.16,1744.86 1915.74,1744.38 1916.31,1743.98 1916.89,1744.12 1917.47,1743.75 1918.05,1744.09 1918.62,1742.29 1919.2,1743.35 1919.78,1742.24 1920.36,1742.92 1920.93,1741.97 1921.51,1740.79 1922.09,1740.85 1922.67,1737.76 1923.24,1738.04 1923.82,1737.76 1924.4,1735.69 1924.98,1734.29 1925.55,1734.21 1926.13,1733.66 1926.71,1733.83 1927.29,1733.91 1927.87,1733.6 1928.44,1734.95 1929.02,1735.73 1929.6,1735.6 1930.18,1737.08 1930.75,1738.23 1931.33,1738.94 1931.91,1738.97 1932.49,1739.29 1933.06,1739.42 1933.64,1737.29 1934.22,1737.31 1934.8,1736.83 1935.37,1735.37 1935.95,1732.75 1936.53,1729.54 1937.11,1724.58 1937.68,1718.53 1938.26,1711.93 1938.84,1704.55 1939.42,1694.92 1939.99,1683.48 1940.57,1670.94 1941.15,1658.48 1941.73,1646.45 1942.3,1634.3 1942.88,1626.01 1943.46,1621.1 1944.04,1619.58 1944.61,1622.62 1945.19,1630.29 1945.77,1639.98 1946.35,1652.16 1946.92,1663.49 1947.5,1676.1 1948.08,1687.56 1948.66,1699.55 1949.23,1707.67 1949.81,1715.09 1950.39,1722.06 1950.97,1727.46 1951.54,1731.51 1952.12,1734.15 1952.7,1736.47 1953.28,1738.85 1953.85,1739.82 1954.43,1739.95 1955.01,1740.18 1955.59,1740.61 1956.16,1742.58 1956.74,1742.9 1957.32,1742.68 1957.9,1743.36 1958.47,1741.87 1959.05,1744.16 1959.63,1742.84 1960.21,1743.87 1960.79,1743.15 1961.36,1743.33 1961.94,1743.69 1962.52,1744.4 1963.1,1744.6 1963.67,1744.48 1964.25,1743.63 1964.83,1744.49 1965.41,1744.32 1965.98,1744.89 1966.56,1745.51 1967.14,1744.15 1967.72,1745.89 1968.29,1744.9 1968.87,1744.5 1969.45,1745.13 1970.03,1744.5 1970.6,1745.03 1971.18,1744.98 1971.76,1745.32 1972.34,1745.58 1972.91,1745.94 1973.49,1745.59 1974.07,1745.38 1974.65,1746.08 1975.22,1745.4 1975.8,1744.13 1976.38,1744.49 1976.96,1744.92 1977.53,1745.81 1978.11,1745.67 1978.69,1744.48 1979.27,1745.87 1979.84,1745.4 1980.42,1745.2 1981,1745.53 1981.58,1745.45 1982.15,1744.96 1982.73,1744.1 1983.31,1745.18 1983.89,1744.99 1984.46,1745.82 1985.04,1746.27 1985.62,1744.7 1986.2,1745.13 1986.77,1745.71 1987.35,1745.89 1987.93,1745.73 1988.51,1744.44 1989.08,1746.27 1989.66,1745.55 1990.24,1745.04 1990.82,1746.45 1991.39,1746.3 1991.97,1745.39 1992.55,1745.9 1993.13,1745.46 1993.71,1745.54 1994.28,1745.2 1994.86,1745.83 1995.44,1744.97 1996.02,1744.92 1996.59,1745.26 1997.17,1745.36 1997.75,1745.98 1998.33,1745.48 1998.9,1745.76 1999.48,1745.93 2000.06,1744.73 2000.64,1746.06 2001.21,1746.53 2001.79,1746.82 2002.37,1745.4 2002.95,1745.5 2003.52,1746 2004.1,1747.07 2004.68,1746.14 2005.26,1745.39 2005.83,1746.21 2006.41,1744.96 2006.99,1746.12 2007.57,1745.96 2008.14,1745.31 2008.72,1747.22 2009.3,1745.3 2009.88,1746.06 2010.45,1746.08 2011.03,1745.53 2011.61,1745.49 2012.19,1745.41 2012.76,1745 2013.34,1745.86 2013.92,1746.36 2014.5,1746.33 2015.07,1745.25 2015.65,1744.94 2016.23,1746.2 2016.81,1744.71 2017.38,1745.75 2017.96,1745.81 2018.54,1745.44 2019.12,1746.56 2019.69,1744.88 2020.27,1745.48 2020.85,1745.66 2021.43,1745.17 2022,1745.76 2022.58,1745.48 2023.16,1745.7 2023.74,1744.72 2024.31,1745.31 2024.89,1744.86 2025.47,1744.49 2026.05,1745.11 2026.63,1743.17 2027.2,1744.72 2027.78,1745.16 2028.36,1743.55 2028.94,1743.61 2029.51,1741.72 2030.09,1741.5 2030.67,1740.95 2031.25,1740.37 2031.82,1737.73 2032.4,1737.61 2032.98,1736.58 2033.56,1737.06 2034.13,1739.02 2034.71,1739.31 2035.29,1740.35 2035.87,1741.9 2036.44,1742.75 2037.02,1741.91 2037.6,1743.89 2038.18,1744.01 2038.75,1744.77 2039.33,1744.83 2039.91,1744.39 2040.49,1745.66 2041.06,1744.45 2041.64,1745.18 2042.22,1745.63 2042.8,1745.28 2043.37,1745.39 2043.95,1744.59 2044.53,1745.63 2045.11,1744.31 2045.68,1745.11 2046.26,1745.33 2046.84,1745.74 2047.42,1745.57 2047.99,1746.23 2048.57,1745.81 2049.15,1745.82 2049.73,1745.23 2050.3,1745.5 2050.88,1745.65 2051.46,1745.53 2052.04,1745.62 2052.61,1745.05 2053.19,1744.97 2053.77,1745.65 2054.35,1745.95 2054.92,1745.98 2055.5,1745.01 2056.08,1745.55 2056.66,1745.88 2057.23,1745.04 2057.81,1745.3 2058.39,1745.73 2058.97,1746 2059.54,1745.8 2060.12,1745.6 2060.7,1746.15 2061.28,1745.56 2061.86,1744.95 2062.43,1744.9 2063.01,1743.45 2063.59,1744.43 2064.17,1742.57 2064.74,1743.1 2065.32,1742.12 2065.9,1742.11 2066.48,1740.17 2067.05,1739.78 2067.63,1740.02 2068.21,1739.85 2068.79,1738.82 2069.36,1740.86 2069.94,1740.5 2070.52,1741.69 2071.1,1741.99 2071.67,1742.64 2072.25,1743.21 2072.83,1743.16 2073.41,1744.03 2073.98,1745.53 2074.56,1744.32 2075.14,1745.76 2075.72,1745.7 2076.29,1745.47 2076.87,1745.34 2077.45,1746.57 2078.03,1745.33 2078.6,1745.9 2079.18,1745.44 2079.76,1746.45 2080.34,1744.47 2080.91,1745.29 2081.49,1745.1 2082.07,1745.97 2082.65,1745.33 2083.22,1746.6 2083.8,1746.43 2084.38,1745.54 2084.96,1745.05 2085.53,1746.1 2086.11,1745.17 2086.69,1745.33 2087.27,1746.51 2087.84,1746.86 2088.42,1747.02 2089,1745.52 2089.58,1745.84 2090.15,1745.39 2090.73,1745.37 2091.31,1745.39 2091.89,1746.8 2092.46,1746.4 2093.04,1745.98 2093.62,1745.14 2094.2,1745.71 2094.78,1746.15 2095.35,1745.77 2095.93,1745.47 2096.51,1745.52 2097.09,1745.47 2097.66,1745.38 2098.24,1745.49 2098.82,1745.05 2099.4,1746.01 2099.97,1745.26 2100.55,1746.29 2101.13,1746.57 2101.71,1746.55 2102.28,1745.68 2102.86,1746 2103.44,1746.63 2104.02,1745.55 2104.59,1745.37 2105.17,1745.95 2105.75,1745.25 2106.33,1745.96 2106.9,1744.86 2107.48,1746.07 2108.06,1744.75 2108.64,1745.52 2109.21,1745.93 2109.79,1745.48 2110.37,1744.66 2110.95,1744.59 2111.52,1744.83 2112.1,1744.39 2112.68,1742.94 2113.26,1743.17 2113.83,1742.98 2114.41,1743.53 2114.99,1742.48 2115.57,1742.98 2116.14,1743.67 2116.72,1743.64 2117.3,1743.91 2117.88,1744.2 2118.45,1745.2 2119.03,1745.39 2119.61,1744.65 2120.19,1744.92 2120.76,1745.65 2121.34,1745.32 2121.92,1745.57 2122.5,1746.46 2123.07,1745.82 2123.65,1746.2 2124.23,1746.53 2124.81,1745.84 2125.38,1746.14 2125.96,1746.32 2126.54,1746.6 2127.12,1745.89 2127.7,1744.68 2128.27,1745.65 2128.85,1745.74 2129.43,1745.77 2130.01,1745.59 2130.58,1746.16 2131.16,1746.05 2131.74,1746.44 2132.32,1745.83 2132.89,1746.07 2133.47,1746.12 2134.05,1746.37 2134.63,1745.35 2135.2,1745.44 2135.78,1746.32 2136.36,1746.24 2136.94,1745.61 2137.51,1745.97 2138.09,1745.9 2138.67,1745.74 2139.25,1745.91 2139.82,1745.96 2140.4,1745.27 2140.98,1746.45 2141.56,1745.36 2142.13,1745.23 2142.71,1745.86 2143.29,1745.52 2143.87,1745.85 2144.44,1745.36 2145.02,1746.25 2145.6,1745.63 2146.18,1745.61 2146.75,1745.53 2147.33,1745.29 2147.91,1745.34 2148.49,1746.47 2149.06,1746.41 2149.64,1745.2 2150.22,1746.09 2150.8,1745.99 2151.37,1746.29 2151.95,1745.28 2152.53,1746.25 2153.11,1745.91 2153.68,1745.89 2154.26,1745.55 2154.84,1747.09 2155.42,1745.15 2155.99,1744.9 2156.57,1745.84 2157.15,1745.59 2157.73,1745.57 2158.3,1745.6 2158.88,1744.7 2159.46,1744.91 2160.04,1745.56 2160.62,1746.05 2161.19,1745.25 2161.77,1745.22 2162.35,1746.18 2162.93,1745.1 2163.5,1743.81 2164.08,1745.14 2164.66,1745.04 2165.24,1744.7 2165.81,1745.52 2166.39,1745.02 2166.97,1743.34 2167.55,1743.77 2168.12,1743.41 2168.7,1743.89 2169.28,1743.32 2169.86,1742.1 2170.43,1741.29 2171.01,1739.17 2171.59,1738.22 2172.17,1735.98 2172.74,1733.19 2173.32,1731.37 2173.9,1728.3 2174.48,1726.32 2175.05,1724.07 2175.63,1722.96 2176.21,1723.18 2176.79,1724.11 2177.36,1727 2177.94,1728.78 2178.52,1732.1 2179.1,1734.33 2179.67,1736.06 2180.25,1738.44 2180.83,1739.67 2181.41,1741.56 2181.98,1741.9 2182.56,1742.71 2183.14,1743.01 2183.72,1744.2 2184.29,1743.97 2184.87,1744.11 2185.45,1743.71 2186.03,1745.61 2186.6,1745.37 2187.18,1745.66 2187.76,1745.51 2188.34,1745.77 2188.91,1745.1 2189.49,1745.36 2190.07,1745.66 2190.65,1745.84 2191.22,1745.53 2191.8,1745.27 2192.38,1743.97 2192.96,1745.57 2193.53,1745.15 2194.11,1745.04 2194.69,1744.78 2195.27,1745.28 2195.85,1745.8 2196.42,1745.74 2197,1745.06 2197.58,1745.25 2198.16,1746.05 2198.73,1745.45 2199.31,1745.65 2199.89,1746.42 2200.47,1746.25 2201.04,1745.25 2201.62,1744.57 2202.2,1745.6 2202.78,1745.92 2203.35,1746.51 2203.93,1746.28 2204.51,1746.05 2205.09,1745.77 2205.66,1745.7 2206.24,1745.65 2206.82,1745.31 2207.4,1745.74 2207.97,1747.14 2208.55,1745.97 2209.13,1745.92 2209.71,1744.96 2210.28,1744.71 2210.86,1746.06 2211.44,1745.9 2212.02,1746.17 2212.59,1746.18 2213.17,1745.81 2213.75,1746.04 2214.33,1745.87 2214.9,1746.08 2215.48,1746.51 2216.06,1745.28 2216.64,1746.43 2217.21,1745.97 2217.79,1745.88 2218.37,1746.78 2218.95,1745.97 2219.52,1746.59 2220.1,1745.83 2220.68,1745.67 2221.26,1746.83 2221.83,1746.29 2222.41,1746.26 2222.99,1745.35 2223.57,1746.3 2224.14,1746.09 2224.72,1745.36 2225.3,1744.85 2225.88,1745.67 2226.45,1746.34 2227.03,1745.47 2227.61,1744.36 2228.19,1745.29 2228.77,1745.13 2229.34,1745.27 2229.92,1745.76 2230.5,1746.27 2231.08,1745.29 2231.65,1746.18 2232.23,1745.72 2232.81,1745.57 2233.39,1746.52 2233.96,1745.36 2234.54,1746.05 2235.12,1745.42 2235.7,1745.44 2236.27,1745.59 2236.85,1745.52 2237.43,1745.09 2238.01,1745.38 2238.58,1745.25 2239.16,1746.05 2239.74,1746.04 2240.32,1747.17 2240.89,1745.74 2241.47,1745.92 2242.05,1746.9 2242.63,1745.8 2243.2,1745.9 2243.78,1746.83 2244.36,1745.8 2244.94,1745.89 2245.51,1746.34 2246.09,1746.47 2246.67,1745.86 2247.25,1746.19 2247.82,1744.91 2248.4,1745.14 2248.98,1745.95 2249.56,1745.11 2250.13,1745.32 2250.71,1746.15 2251.29,1745.35 2251.87,1746.32 2252.44,1745.63 2253.02,1746.77 2253.6,1745.54 2254.18,1744.54 2254.75,1744.59 2255.33,1745.64 2255.91,1745.01 2256.49,1745.5 2257.06,1744.95 2257.64,1745.46 2258.22,1744.35 2258.8,1744.75 2259.37,1745.81 2259.95,1744.8 2260.53,1744.42 2261.11,1744.76 2261.69,1744.14 2262.26,1743.46 2262.84,1743.66 2263.42,1743.22 2264,1743.89 2264.57,1743.93 2265.15,1742.67 2265.73,1743.79 2266.31,1744.3 2266.88,1743.28 2267.46,1745.11 2268.04,1743.99 2268.62,1744.78 2269.19,1743.67 2269.77,1744.1 2270.35,1744.61 2270.93,1744.52 2271.5,1744.27 2272.08,1743.69 2272.66,1745.49 2273.24,1744.85 2273.81,1745.69 2274.39,1745.45 2274.97,1745.04 2275.55,1745.39 2276.12,1745.41 2276.7,1744.59 2277.28,1746.05 2277.86,1745.72 2278.43,1745.64 2279.01,1746.07 2279.59,1745.45 2280.17,1745.28 2280.74,1745.59 2281.32,1746.3 2281.9,1744.95 2282.48,1746.23 2283.05,1746.02 2283.63,1746.13 2284.21,1745.8 2284.79,1745.02 2285.36,1746.1 2285.94,1746.02 2286.52,1747.27 2287.1,1745.67 2287.67,1746.39 2288.25,1745.62 2288.83,1746.01 2289.41,1746.45 2289.98,1746.09 2290.56,1745.55 2291.14,1746.42 2291.72,1745.75 2292.29,1746.34 2292.87,1745.78 2293.45,1746.38 2294.03,1745.73 2294.61,1745.9 2295.18,1745.22 2295.76,1745.55 2296.34,1746.01 2296.92,1745.9 2297.49,1746.28 2298.07,1746.29 2298.65,1745.76 2299.23,1746.6 2299.8,1745.38 2300.38,1745.25 2300.96,1745.7 2301.54,1745.6 2302.11,1745.66 2302.69,1745.98 2303.27,1745.16 2303.85,1746.76 2304.42,1746.83 2305,1745.9 2305.58,1745.56 2306.16,1745.9 2306.73,1745.77 2307.31,1746.42 2307.89,1746.15 2308.47,1745.78 2309.04,1746.18 2309.62,1746.11 2310.2,1745.76 2310.78,1746.01 2311.35,1746.3 2311.93,1746.39 2312.51,1746.04 2313.09,1745.41 2313.66,1746.42 2314.24,1745.41 2314.82,1746.12 2315.4,1745.74 2315.97,1745.78 2316.55,1746.78 2317.13,1745.72 2317.71,1745.64 2318.28,1746.51 2318.86,1745.66 2319.44,1745.86 2320.02,1746.08 2320.59,1746.36 2321.17,1746.88 2321.75,1746.16 2322.33,1745.23 2322.9,1746.34 2323.48,1746.36 2324.06,1745.23 2324.64,1745.73 2325.21,1746.21 2325.79,1745.87 2326.37,1745.35 2326.95,1745.34 2327.52,1747.21 2328.1,1745.28 2328.68,1745.63 2329.26,1746.19 2329.84,1745.78 2330.41,1747.04 2330.99,1745.93 2331.57,1746.74 2332.15,1745.41 2332.72,1744.92 2333.3,1745.99 2333.88,1746.12 2334.46,1745.81 2335.03,1745.62 2335.61,1746.38 2336.19,1745.91 2336.77,1745.23 2337.34,1746.2 2337.92,1745.57 2338.5,1745.42 2339.08,1746.74 2339.65,1746.96 2340.23,1745.9 2340.81,1745.62 2341.39,1746.03 2341.96,1746.63 2342.54,1744.97 2343.12,1745.46 2343.7,1745.13 2344.27,1746.73 2344.85,1745.96 2345.43,1745.51 2346.01,1746.7 2346.58,1746.47 2347.16,1745.56 2347.74,1746.2 2348.32,1746.42 2348.89,1745.52 2349.47,1746.26 2350.05,1745.73 2350.63,1746.34 2351.2,1745.73 2351.78,1745.77 2352.36,1746.29 2352.94,1745.21 2353.51,1745.64 2354.09,1746.05 2354.67,1746.9 2355.25,1745.72 2355.82,1746.23 2356.4,1746.26 2356.98,1745.81 2357.56,1746.05 2358.13,1746.36 2358.71,1746.11 2359.29,1747.34 2359.87,1745.71 2360.44,1745.26 2361.02,1746.22 2361.6,1745.15" fill="none" stroke="#FF7F0E" stroke-width="4.9" stroke-linejoin="round" stroke-linecap="round"/>
</g>
<line x1="1322.6" y1="1389.5" x2="2361.6" y2="1389.5" stroke="#000" stroke-width="6" />
<text x="1335" y="1065.6" font-size="47.5" text-anchor="start" fill="#000" textLength="158" lengthAdjust="spacing" >50 days</text>
<text x="1335.5" y="1446.1" font-size="47.5" text-anchor="start" fill="#000" textLength="160" lengthAdjust="spacing" >25 days</text>
<line x1="2094" y1="1064" x2="2144.7" y2="1064" stroke="#FF7F0E" stroke-width="5.6" stroke-linecap="round"/>
<line x1="2094" y1="1129.8" x2="2144.7" y2="1129.8" stroke="#70AD47" stroke-width="5.6" stroke-linecap="round"/>
<text x="2158" y="1071" font-size="51" text-anchor="start" fill="#000" textLength="174" lengthAdjust="spacing" >Pristine</text>
<text x="2163" y="1135.8" font-size="51" text-anchor="start" fill="#000" textLength="109.5" lengthAdjust="spacing" >PSM</text>
<rect x="1322.6" y="1013.1" width="1039" height="750" fill="none" stroke="#000" stroke-width="5.4"/>
<line x1="1452.47" y1="1763.1" x2="1452.47" y2="1753.1" stroke="#000" stroke-width="5" />
<line x1="1712.22" y1="1763.1" x2="1712.22" y2="1753.1" stroke="#000" stroke-width="5" />
<line x1="1971.97" y1="1763.1" x2="1971.97" y2="1753.1" stroke="#000" stroke-width="5" />
<line x1="2231.72" y1="1763.1" x2="2231.72" y2="1753.1" stroke="#000" stroke-width="5" />
<line x1="1582.35" y1="1763.1" x2="1582.35" y2="1757.6" stroke="#000" stroke-width="4.5" />
<line x1="1842.1" y1="1763.1" x2="1842.1" y2="1757.6" stroke="#000" stroke-width="4.5" />
<line x1="2101.85" y1="1763.1" x2="2101.85" y2="1757.6" stroke="#000" stroke-width="4.5" />
<text x="1452.47" y="1812" font-size="47" text-anchor="middle" fill="#000" >10</text>
<text x="1712.22" y="1812" font-size="47" text-anchor="middle" fill="#000" >20</text>
<text x="1971.97" y="1812" font-size="47" text-anchor="middle" fill="#000" >30</text>
<text x="2231.72" y="1812" font-size="47" text-anchor="middle" fill="#000" >40</text>
<text x="1671.5" y="1867.4" font-size="66" text-anchor="start" fill="#000" textLength="66" lengthAdjust="spacing" font-weight="normal" stroke="#000" stroke-width="0.9">2θ</text>
<text x="1756.5" y="1867.4" font-size="63" text-anchor="start" fill="#000" textLength="218" lengthAdjust="spacing" >(degree)</text>
<text transform="translate(1278.8 1371.7) rotate(-90) scale(1.0 1.14)" font-size="60" text-anchor="middle" fill="#000" textLength="405" lengthAdjust="spacing">Intensity (a.u.)</text>
</g>
<g id="pf">
<text transform="translate(2399 1065.3) scale(1.143 1)" font-size="134" font-family="'Liberation Sans',sans-serif" font-weight="normal">f</text>
<rect x="2577.6" y="1033.4" width="919" height="722.9" fill="url(#gy)" />
<clipPath id="clipf"><rect x="2577.6" y="1033.4" width="919.0" height="722.8999999999999"/></clipPath><g clip-path="url(#clipf)">
<polyline points="2578.03,1536.01 2580.03,1537.26 2582.04,1540.68 2584.05,1540.8 2586.05,1542.67 2588.06,1545.1 2590.06,1545.01 2592.07,1546.43 2594.07,1547.97 2596.08,1548.64 2598.09,1549.01 2600.09,1550.44 2602.1,1551.12 2604.1,1552.43 2606.11,1551.74 2608.12,1552.96 2610.12,1554.68 2612.13,1555.66 2614.13,1554.15 2616.14,1555.9 2618.14,1555.33 2620.15,1555.76 2622.16,1556.05 2624.16,1556.58 2626.17,1557.66 2628.17,1557.68 2630.18,1557.46 2632.18,1557.35 2634.19,1557.68 2636.2,1557.71 2638.2,1558.32 2640.21,1557.52 2642.21,1557.94 2644.22,1557.92 2646.23,1557.97 2648.23,1558.16 2650.24,1558.14 2652.24,1558.82 2654.25,1557.95 2656.25,1558.91 2658.26,1557.75 2660.27,1557.59 2662.27,1557.87 2664.28,1557.93 2666.28,1557.79 2668.29,1558.3 2670.3,1558.1 2672.3,1557.61 2674.31,1556.99 2676.31,1557.02 2678.32,1557.82 2680.32,1556.99 2682.33,1555.95 2684.34,1556.18 2686.34,1556.1 2688.35,1556.98 2690.35,1556.07 2692.36,1557.33 2694.37,1556.21 2696.37,1555.74 2698.38,1555.26 2700.38,1555.97 2702.39,1555.13 2704.39,1554.69 2706.4,1555.46 2708.41,1555.1 2710.41,1555.82 2712.42,1555.14 2714.42,1553.59 2716.43,1555.94 2718.43,1554.55 2720.44,1556.83 2722.45,1557.24 2724.45,1556.13 2726.46,1555.9 2728.46,1555.93 2730.47,1557.43 2732.48,1556.88 2734.48,1556.7 2736.49,1556.94 2738.49,1558.36 2740.5,1557.33 2742.5,1557.58 2744.51,1557.62 2746.52,1557.79 2748.52,1557.86 2750.53,1556.86 2752.53,1557.26 2754.54,1557.06 2756.55,1557.26 2758.55,1558.59 2760.56,1557.85 2762.56,1558.38 2764.57,1558.32 2766.57,1558.7 2768.58,1559.87 2770.59,1559.48 2772.59,1559.82 2774.6,1560.76 2776.6,1561.12 2778.61,1561.64 2780.62,1561.59 2782.62,1560.75 2784.63,1562.47 2786.63,1562.67 2788.64,1563.26 2790.64,1562.41 2792.65,1564.7 2794.66,1562.72 2796.66,1564.19 2798.67,1564.09 2800.67,1564.11 2802.68,1565.26 2804.68,1565.01 2806.69,1564.22 2808.7,1565.39 2810.7,1566.86 2812.71,1568.45 2814.71,1566.75 2816.72,1568.16 2818.73,1569.58 2820.73,1569.6 2822.74,1569.52 2824.74,1569.39 2826.75,1569.66 2828.75,1570.78 2830.76,1571.5 2832.77,1570.88 2834.77,1571.72 2836.78,1573.41 2838.78,1573.47 2840.79,1573.74 2842.8,1574.4 2844.8,1574.59 2846.81,1576.04 2848.81,1576.85 2850.82,1577.47 2852.82,1576.98 2854.83,1577.31 2856.84,1578.03 2858.84,1578.48 2860.85,1578.58 2862.85,1578.68 2864.86,1577.8 2866.87,1577.44 2868.87,1579.13 2870.88,1578.75 2872.88,1578.95 2874.89,1578.62 2876.89,1578.53 2878.9,1580.29 2880.91,1579.86 2882.91,1579.06 2884.92,1580.03 2886.92,1580.07 2888.93,1580.28 2890.93,1581.38 2892.94,1580.08 2894.95,1579.39 2896.95,1580.22 2898.96,1579.85 2900.96,1580.59 2902.97,1580.41 2904.98,1580.5 2906.98,1579.96 2908.99,1580.54 2910.99,1579.98 2913,1580.58 2915,1580.04 2917.01,1579.46 2919.02,1580.32 2921.02,1579.44 2923.03,1580.56 2925.03,1579.78 2927.04,1579.61 2929.05,1579.22 2931.05,1578.98 2933.06,1577.47 2935.06,1579.57 2937.07,1578.32 2939.07,1579.39 2941.08,1578.47 2943.09,1578.83 2945.09,1578.86 2947.1,1578.47 2949.1,1579.1 2951.11,1579.61 2953.12,1579.21 2955.12,1578.84 2957.13,1579.4 2959.13,1580.06 2961.14,1580.76 2963.14,1580.74 2965.15,1580.59 2967.16,1580 2969.16,1581.33 2971.17,1580.99 2973.17,1581.02 2975.18,1581.91 2977.18,1581.94 2979.19,1582.08 2981.2,1581.3 2983.2,1581.85 2985.21,1581.42 2987.21,1582.79 2989.22,1582.93 2991.23,1583.71 2993.23,1583.53 2995.24,1583.43 2997.24,1585.18 2999.25,1583.56 3001.25,1583.64 3003.26,1584.35 3005.27,1585.31 3007.27,1585.08 3009.28,1585.32 3011.28,1585.21 3013.29,1587.08 3015.3,1586.14 3017.3,1586.2 3019.31,1587.11 3021.31,1587.04 3023.32,1587.73 3025.32,1589.02 3027.33,1588.31 3029.34,1588.9 3031.34,1589.06 3033.35,1589.53 3035.35,1590.49 3037.36,1590.67 3039.37,1590.5 3041.37,1590.5 3043.38,1591.32 3045.38,1592.25 3047.39,1592.08 3049.39,1592.36 3051.4,1591.69 3053.41,1593.72 3055.41,1592.57 3057.42,1593.04 3059.42,1593.92 3061.43,1594.51 3063.43,1594.86 3065.44,1594.72 3067.45,1595.33 3069.45,1595.5 3071.46,1595.12 3073.46,1596.39 3075.47,1596.47 3077.48,1597.47 3079.48,1597.46 3081.49,1598.46 3083.49,1598.63 3085.5,1599.07 3087.5,1599.58 3089.51,1599.59 3091.52,1599.39 3093.52,1600.61 3095.53,1599.56 3097.53,1600.4 3099.54,1601.25 3101.55,1600.87 3103.55,1601.78 3105.56,1601.18 3107.56,1601.65 3109.57,1602.63 3111.57,1603.06 3113.58,1603.69 3115.59,1603.28 3117.59,1603.84 3119.6,1604.38 3121.6,1604.62 3123.61,1603.89 3125.62,1604.66 3127.62,1606.19 3129.63,1604.88 3131.63,1606.31 3133.64,1605.96 3135.64,1607.08 3137.65,1606.25 3139.66,1606.97 3141.66,1605.92 3143.67,1607.28 3145.67,1608.09 3147.68,1606.67 3149.68,1608.39 3151.69,1607.34 3153.7,1607.82 3155.7,1606.26 3157.71,1608.64 3159.71,1607.52 3161.72,1607.79 3163.73,1607.41 3165.73,1607.65 3167.74,1609.02 3169.74,1608.12 3171.75,1609.05 3173.75,1608.48 3175.76,1608.86 3177.77,1608.42 3179.77,1609.05 3181.78,1610.43 3183.78,1609.36 3185.79,1609.39 3187.8,1608.95 3189.8,1610.01 3191.81,1610.42 3193.81,1608.78 3195.82,1609.19 3197.82,1611.49 3199.83,1610.72 3201.84,1610.8 3203.84,1611.35 3205.85,1611.99 3207.85,1612.18 3209.86,1612 3211.87,1613.88 3213.87,1613.27 3215.88,1613.49 3217.88,1614.56 3219.89,1615.84 3221.89,1616.84 3223.9,1618.16 3225.91,1619.67 3227.91,1618.7 3229.92,1621.36 3231.92,1623.58 3233.93,1624.58 3235.93,1625.14 3237.94,1626.59 3239.95,1629.25 3241.95,1630.26 3243.96,1632.29 3245.96,1636.27 3247.97,1637.76 3249.98,1641.38 3251.98,1643.89 3253.99,1646.83 3255.99,1649.18 3258,1652.26 3260,1656.57 3262.01,1658.2 3264.02,1662.14 3266.02,1664.4 3268.03,1668.15 3270.03,1671.46 3272.04,1673.66 3274.05,1678.39 3276.05,1680.64 3278.06,1684.53 3280.06,1686.24 3282.07,1690.21 3284.07,1693.74 3286.08,1694.91 3288.09,1696.83 3290.09,1699.75 3292.1,1701.38 3294.1,1702.62 3296.11,1703.86 3298.12,1704.58 3300.12,1706.05 3302.13,1706.34 3304.13,1706.78 3306.14,1708.45 3308.14,1708.49 3310.15,1710.76 3312.16,1709.59 3314.16,1709.85 3316.17,1710.46 3318.17,1711.52 3320.18,1711.35 3322.18,1711.45 3324.19,1713.6 3326.2,1712.26 3328.2,1714.27 3330.21,1713.79 3332.21,1713.39 3334.22,1715.33 3336.23,1714.51 3338.23,1714.31 3340.24,1715.23 3342.24,1716.24 3344.25,1716.14 3346.25,1716.49 3348.26,1717.3 3350.27,1716.62 3352.27,1716.95 3354.28,1716.81 3356.28,1716.29 3358.29,1717.28 3360.3,1718.53 3362.3,1716.71 3364.31,1718.73 3366.31,1718.24 3368.32,1717.7 3370.32,1718.43 3372.33,1719.6 3374.34,1718.32 3376.34,1719.26 3378.35,1719.58 3380.35,1718.46 3382.36,1719.48 3384.37,1719.51 3386.37,1718.99 3388.38,1719.77 3390.38,1719.22 3392.39,1719.17 3394.39,1718.84 3396.4,1719.88 3398.41,1719.46 3400.41,1719.44 3402.42,1719.15 3404.42,1719.07 3406.43,1719.48 3408.43,1720.44 3410.44,1719.57 3412.45,1720.97 3414.45,1720.4 3416.46,1720.29 3418.46,1719.52 3420.47,1721.45 3422.48,1719.44 3424.48,1720.66 3426.49,1721.38 3428.49,1720.27 3430.5,1720 3432.5,1720.41 3434.51,1720.98 3436.52,1721.24 3438.52,1720.78 3440.53,1719.77 3442.53,1719.98 3444.54,1720.47 3446.55,1719.53 3448.55,1720.09 3450.56,1721.49 3452.56,1719.41 3454.57,1720.63 3456.57,1719.25 3458.58,1719.47 3460.59,1719.49 3462.59,1718.49 3464.6,1719.19 3466.6,1719.88 3468.61,1719.36 3470.62,1719.15 3472.62,1718.06 3474.63,1718.25 3476.63,1718.26 3478.64,1718.36 3480.64,1718.58 3482.65,1717.03 3484.66,1718.54 3486.66,1717.3 3488.67,1717.35 3490.67,1716.89 3492.68,1717.75 3494.68,1717.9 3496.69,1717.57 3498.7,1718.39" fill="none" stroke="#F4A460" stroke-width="4.4" stroke-linejoin="round" stroke-linecap="round"/>
<polyline points="2578.03,1454.81 2580.03,1456.49 2582.04,1459.27 2584.05,1460.2 2586.05,1463.28 2588.06,1464.43 2590.06,1466.41 2592.07,1466.51 2594.07,1468.94 2596.08,1469.96 2598.09,1471.59 2600.09,1471.29 2602.1,1473.71 2604.1,1473.08 2606.11,1475.29 2608.12,1475.57 2610.12,1475.44 2612.13,1477.81 2614.13,1476.35 2616.14,1477.45 2618.14,1478.08 2620.15,1478.6 2622.16,1478.69 2624.16,1479.27 2626.17,1479.26 2628.17,1479.19 2630.18,1478.77 2632.18,1479.26 2634.19,1480.12 2636.2,1478.99 2638.2,1479.85 2640.21,1478.64 2642.21,1479.52 2644.22,1479.04 2646.23,1480.81 2648.23,1479.02 2650.24,1480.02 2652.24,1480.64 2654.25,1480.59 2656.25,1480.72 2658.26,1480.91 2660.27,1480.56 2662.27,1480.77 2664.28,1480.22 2666.28,1480.2 2668.29,1479.1 2670.3,1480.18 2672.3,1480.76 2674.31,1479.45 2676.31,1479.1 2678.32,1479.75 2680.32,1480.27 2682.33,1480.21 2684.34,1478.5 2686.34,1479.59 2688.35,1478.85 2690.35,1479.35 2692.36,1477.78 2694.37,1479.63 2696.37,1478.78 2698.38,1479.08 2700.38,1478.79 2702.39,1478.22 2704.39,1479.1 2706.4,1478.45 2708.41,1478.29 2710.41,1479.06 2712.42,1478.6 2714.42,1478.22 2716.43,1479.21 2718.43,1478.32 2720.44,1478.7 2722.45,1479.23 2724.45,1479.45 2726.46,1479.72 2728.46,1480.12 2730.47,1479.31 2732.48,1478.98 2734.48,1480.63 2736.49,1480.69 2738.49,1479.9 2740.5,1480.74 2742.5,1480.36 2744.51,1479.93 2746.52,1481.78 2748.52,1481.67 2750.53,1481.86 2752.53,1483.13 2754.54,1483.33 2756.55,1482.47 2758.55,1482.59 2760.56,1482.54 2762.56,1484.12 2764.57,1484.34 2766.57,1485.25 2768.58,1485.52 2770.59,1485.6 2772.59,1486.23 2774.6,1486.03 2776.6,1488.19 2778.61,1487.63 2780.62,1488.79 2782.62,1488.51 2784.63,1489.41 2786.63,1490.21 2788.64,1490.13 2790.64,1490.26 2792.65,1492.62 2794.66,1491.59 2796.66,1492.55 2798.67,1492.69 2800.67,1492.83 2802.68,1494.68 2804.68,1494.75 2806.69,1495.39 2808.7,1494.53 2810.7,1496.8 2812.71,1497.9 2814.71,1498.35 2816.72,1498.87 2818.73,1500.45 2820.73,1500.64 2822.74,1501.58 2824.74,1502.56 2826.75,1503.22 2828.75,1502.5 2830.76,1504.16 2832.77,1504.16 2834.77,1504.07 2836.78,1506.09 2838.78,1505.52 2840.79,1506.91 2842.8,1506.3 2844.8,1507.8 2846.81,1508.72 2848.81,1509.58 2850.82,1509.83 2852.82,1510.16 2854.83,1510.74 2856.84,1512.75 2858.84,1512.1 2860.85,1512.87 2862.85,1514.6 2864.86,1512.94 2866.87,1513.26 2868.87,1514.39 2870.88,1515.25 2872.88,1515.26 2874.89,1516.38 2876.89,1516.78 2878.9,1516.31 2880.91,1517.73 2882.91,1517.15 2884.92,1518.78 2886.92,1518.82 2888.93,1520.32 2890.93,1519.8 2892.94,1519.48 2894.95,1520.09 2896.95,1520.25 2898.96,1519.98 2900.96,1519.82 2902.97,1521.61 2904.98,1522.12 2906.98,1521.19 2908.99,1521.57 2910.99,1521.69 2913,1522.85 2915,1523.22 2917.01,1522.21 2919.02,1522.76 2921.02,1522.86 2923.03,1523.52 2925.03,1524.06 2927.04,1524.45 2929.05,1523.85 2931.05,1523.64 2933.06,1524.79 2935.06,1525.06 2937.07,1524.75 2939.07,1525.33 2941.08,1525.72 2943.09,1526.31 2945.09,1526.1 2947.1,1526.63 2949.1,1526.73 2951.11,1526.33 2953.12,1527.62 2955.12,1527.56 2957.13,1528.44 2959.13,1527.41 2961.14,1528.03 2963.14,1528.97 2965.15,1528.09 2967.16,1529.4 2969.16,1529.58 2971.17,1529.98 2973.17,1530.47 2975.18,1529.69 2977.18,1531.47 2979.19,1531.92 2981.2,1532.94 2983.2,1533.62 2985.21,1533.42 2987.21,1534.22 2989.22,1532.69 2991.23,1534.93 2993.23,1535.74 2995.24,1536.08 2997.24,1536.18 2999.25,1536.31 3001.25,1536.8 3003.26,1537.53 3005.27,1538.27 3007.27,1538.85 3009.28,1538.96 3011.28,1538.77 3013.29,1541.14 3015.3,1540.06 3017.3,1539.51 3019.31,1542.51 3021.31,1542.81 3023.32,1542.86 3025.32,1543.88 3027.33,1544.12 3029.34,1543.91 3031.34,1545.03 3033.35,1544.78 3035.35,1545.68 3037.36,1546.1 3039.37,1547.26 3041.37,1548.35 3043.38,1547.86 3045.38,1549.06 3047.39,1548.03 3049.39,1549.2 3051.4,1550.69 3053.41,1551.47 3055.41,1551.99 3057.42,1552.59 3059.42,1551.49 3061.43,1552.68 3063.43,1551.96 3065.44,1553.94 3067.45,1554.69 3069.45,1554.87 3071.46,1555.03 3073.46,1556.36 3075.47,1556.94 3077.48,1557.22 3079.48,1557.29 3081.49,1558.19 3083.49,1558.73 3085.5,1559.36 3087.5,1560.1 3089.51,1560.24 3091.52,1559.91 3093.52,1561.14 3095.53,1562.05 3097.53,1562.08 3099.54,1562.98 3101.55,1562.93 3103.55,1564.64 3105.56,1564.54 3107.56,1564.84 3109.57,1565.65 3111.57,1566.08 3113.58,1566.08 3115.59,1567.02 3117.59,1567.19 3119.6,1567.29 3121.6,1567.52 3123.61,1567.21 3125.62,1568.33 3127.62,1568.66 3129.63,1568.38 3131.63,1570.02 3133.64,1569.52 3135.64,1569.2 3137.65,1569.91 3139.66,1570.45 3141.66,1570.77 3143.67,1570.63 3145.67,1571.42 3147.68,1570.82 3149.68,1571.72 3151.69,1572.51 3153.7,1572.1 3155.7,1573.13 3157.71,1573.45 3159.71,1572.83 3161.72,1571.94 3163.73,1574.08 3165.73,1574.51 3167.74,1572.87 3169.74,1574.06 3171.75,1574.23 3173.75,1573.16 3175.76,1573.92 3177.77,1575.11 3179.77,1574.62 3181.78,1574.65 3183.78,1575.52 3185.79,1574.7 3187.8,1574.25 3189.8,1576.46 3191.81,1575.53 3193.81,1576.39 3195.82,1577.54 3197.82,1577.51 3199.83,1578.01 3201.84,1578.15 3203.84,1579.53 3205.85,1581.19 3207.85,1580.24 3209.86,1580.66 3211.87,1582.29 3213.87,1582.5 3215.88,1583.9 3217.88,1584.82 3219.89,1586.18 3221.89,1587.21 3223.9,1588.65 3225.91,1590.72 3227.91,1591.02 3229.92,1593.45 3231.92,1595.61 3233.93,1596.92 3235.93,1599.54 3237.94,1602.57 3239.95,1605.37 3241.95,1609.5 3243.96,1612.25 3245.96,1617.46 3247.97,1619.17 3249.98,1623.06 3251.98,1628.63 3253.99,1631.29 3255.99,1637.83 3258,1639.92 3260,1646.79 3262.01,1653.19 3264.02,1657.96 3266.02,1661.64 3268.03,1665.15 3270.03,1669.44 3272.04,1673.8 3274.05,1677.15 3276.05,1680.98 3278.06,1683.25 3280.06,1687.27 3282.07,1690.44 3284.07,1694.2 3286.08,1695.28 3288.09,1697.71 3290.09,1699 3292.1,1700.5 3294.1,1701.38 3296.11,1704.25 3298.12,1706.23 3300.12,1705.89 3302.13,1705.31 3304.13,1707.72 3306.14,1708.22 3308.14,1708.82 3310.15,1710.76 3312.16,1711.08 3314.16,1711.84 3316.17,1711.04 3318.17,1712.29 3320.18,1711.93 3322.18,1713.75 3324.19,1712.83 3326.2,1714.67 3328.2,1714.45 3330.21,1714.8 3332.21,1714.14 3334.22,1715.76 3336.23,1714.56 3338.23,1715.22 3340.24,1715.71 3342.24,1717.82 3344.25,1716.95 3346.25,1716.77 3348.26,1717.79 3350.27,1719.19 3352.27,1717.94 3354.28,1717.67 3356.28,1717.9 3358.29,1718.78 3360.3,1720.07 3362.3,1719.21 3364.31,1719.38 3366.31,1719.16 3368.32,1719.28 3370.32,1720.81 3372.33,1720.59 3374.34,1720.83 3376.34,1719.95 3378.35,1721.3 3380.35,1721.34 3382.36,1722.23 3384.37,1722.13 3386.37,1721.52 3388.38,1722.02 3390.38,1722.18 3392.39,1722.09 3394.39,1721.77 3396.4,1722.99 3398.41,1723.96 3400.41,1722.69 3402.42,1723.87 3404.42,1722.83 3406.43,1722.95 3408.43,1723.27 3410.44,1723.23 3412.45,1724.13 3414.45,1724.37 3416.46,1722.25 3418.46,1724.4 3420.47,1724.27 3422.48,1725.2 3424.48,1723.72 3426.49,1724.44 3428.49,1725.19 3430.5,1725.08 3432.5,1725.55 3434.51,1724.22 3436.52,1724.34 3438.52,1725.14 3440.53,1723.98 3442.53,1725.06 3444.54,1725.32 3446.55,1724.89 3448.55,1723.75 3450.56,1724.06 3452.56,1724.03 3454.57,1724.25 3456.57,1723.92 3458.58,1723.27 3460.59,1722.29 3462.59,1722 3464.6,1722.31 3466.6,1722.12 3468.61,1722.2 3470.62,1721.76 3472.62,1722.15 3474.63,1721.71 3476.63,1722.02 3478.64,1721.73 3480.64,1721.92 3482.65,1720.82 3484.66,1720.7 3486.66,1720.39 3488.67,1720.95 3490.67,1721.16 3492.68,1721.24 3494.68,1720.48 3496.69,1720.12 3498.7,1720.47" fill="none" stroke="#70AD47" stroke-width="4.4" stroke-linejoin="round" stroke-linecap="round"/>
</g>
<text x="3241" y="1100" font-size="48" text-anchor="start" fill="#000" textLength="225.5" lengthAdjust="spacing" >100h 85 °C</text>
<line x1="3248.6" y1="1131.4" x2="3334.1" y2="1131.4" stroke="#F4A460" stroke-width="5" stroke-linecap="round"/>
<line x1="3248.6" y1="1178.7" x2="3334.1" y2="1178.7" stroke="#70AD47" stroke-width="5" stroke-linecap="round"/>
<text x="3343" y="1143.2" font-size="38" text-anchor="start" fill="#000" textLength="129" lengthAdjust="spacing" >Pristine</text>
<text x="3343" y="1190.3" font-size="38" text-anchor="start" fill="#000" textLength="80.5" lengthAdjust="spacing" >PSM</text>
<rect x="2577.6" y="1033.4" width="919" height="722.9" fill="none" stroke="#000" stroke-width="5"/>
<line x1="2708.88" y1="1756.3" x2="2708.88" y2="1769.6" stroke="#000" stroke-width="5" />
<line x1="2971.45" y1="1756.3" x2="2971.45" y2="1769.6" stroke="#000" stroke-width="5" />
<line x1="3234.03" y1="1756.3" x2="3234.03" y2="1769.6" stroke="#000" stroke-width="5" />
<line x1="3496.59" y1="1756.3" x2="3496.59" y2="1769.6" stroke="#000" stroke-width="5" />
<line x1="2577.6" y1="1756.3" x2="2577.6" y2="1763.8" stroke="#000" stroke-width="4.5" />
<line x1="2840.17" y1="1756.3" x2="2840.17" y2="1763.8" stroke="#000" stroke-width="4.5" />
<line x1="3102.74" y1="1756.3" x2="3102.74" y2="1763.8" stroke="#000" stroke-width="4.5" />
<line x1="3365.31" y1="1756.3" x2="3365.31" y2="1763.8" stroke="#000" stroke-width="4.5" />
<text x="2708.88" y="1816.5" font-size="47" text-anchor="middle" fill="#000" >500</text>
<text x="2971.45" y="1816.5" font-size="47" text-anchor="middle" fill="#000" >600</text>
<text x="3234.03" y="1816.5" font-size="47" text-anchor="middle" fill="#000" >700</text>
<text x="3496.59" y="1816.5" font-size="47" text-anchor="middle" fill="#000" >800</text>
<text x="3038.2" y="1871.8" font-size="61" text-anchor="middle" fill="#000" textLength="462" lengthAdjust="spacing" >Wavelength (nm)</text>
<text transform="translate(2512 1371.8) rotate(-90) scale(1.0 1.065)" font-size="60" text-anchor="middle" fill="#000" textLength="467" lengthAdjust="spacing">Absorbance (a.u.)</text>
</g>
</svg>
</body></html>
